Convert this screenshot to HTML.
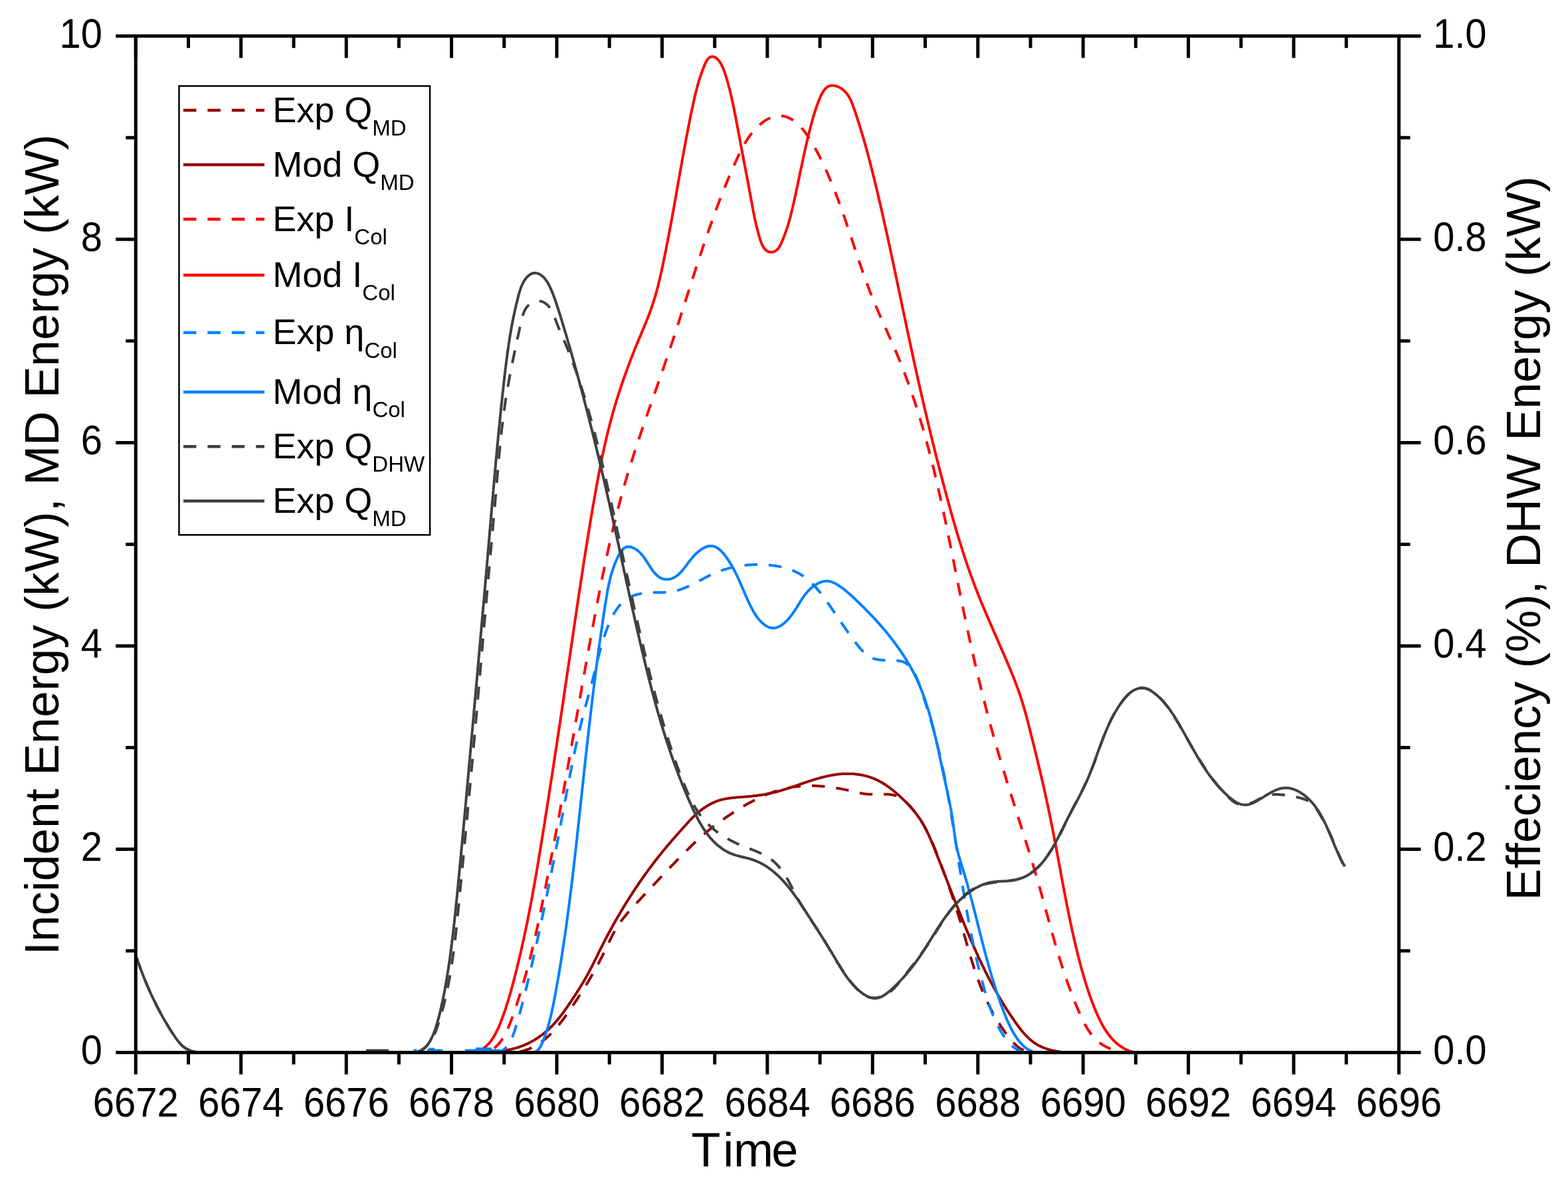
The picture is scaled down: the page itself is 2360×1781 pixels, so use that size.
<!DOCTYPE html><html><head><meta charset="utf-8"><style>html,body{margin:0;padding:0;background:#fff;overflow:hidden}svg{display:block}</style></head><body><svg xmlns="http://www.w3.org/2000/svg" width="2360" height="1781" viewBox="0 0 2360 1781">
<rect width="2360" height="1781" fill="#fff"/>
<defs><clipPath id="pc"><rect x="204.3" y="54.2" width="1901.2" height="1530.3999999999999"/></clipPath></defs>
<g clip-path="url(#pc)" fill="none" stroke-width="4" stroke-linejoin="round">
<path d="M600.0,1584.6 L602.0,1584.6 L604.0,1584.6 L606.0,1584.5 L608.0,1584.5 L610.0,1584.5 L612.0,1584.5 L614.0,1584.5 L616.0,1584.5 L618.0,1584.5 L620.0,1584.4 L622.0,1584.4 L624.0,1584.4 L626.0,1584.4 L628.0,1584.4 L630.0,1584.4 L632.0,1584.4 L634.0,1584.4 L636.0,1584.5 L638.0,1584.5 L640.0,1584.5 L642.0,1584.5 L644.0,1584.5 L646.0,1584.5 L648.0,1584.5 L650.0,1584.5 L652.0,1584.5 L654.0,1584.5 L656.0,1584.5 L658.1,1584.5 L660.1,1584.6 L662.1,1584.6 L664.1,1584.6 L666.1,1584.6 L668.1,1584.6 L670.1,1584.6 L672.1,1584.6 L674.1,1584.6 L676.1,1584.6 L678.1,1584.6 L680.1,1584.6 L682.1,1584.6 L684.1,1584.6 L686.1,1584.6 L688.1,1584.6 L690.1,1584.6 L692.1,1584.5 L694.1,1584.5 L696.1,1584.5 L698.1,1584.5 L700.1,1584.5 L702.1,1584.4 L704.1,1584.4 L706.1,1584.4 L708.1,1584.4 L710.1,1584.4 L712.1,1584.3 L714.1,1584.3 L716.1,1584.3 L718.1,1584.3 L720.1,1584.3 L722.1,1584.3 L724.1,1584.3 L726.1,1584.3 L728.1,1584.3 L730.1,1584.3 L732.1,1584.3 L734.1,1584.4 L736.1,1584.4 L738.1,1584.5 L740.1,1584.5 L742.1,1584.6 L744.1,1584.7 L746.1,1584.7 L748.1,1584.8 L750.1,1584.9 L752.1,1585.0 L754.1,1585.1 L756.0,1585.2 L758.0,1585.2 L760.0,1585.3 L762.0,1585.3 L764.0,1585.3 L766.1,1585.2 L768.1,1585.1 L770.1,1585.0 L772.1,1584.8 L774.1,1584.6 L776.1,1584.4 L778.1,1584.0 L780.1,1583.7 L782.1,1583.3 L784.1,1582.9 L786.0,1582.4 L788.0,1581.9 L789.9,1581.3 L791.8,1580.7 L793.7,1580.0 L795.5,1579.3 L797.3,1578.6 L799.1,1577.8 L800.9,1577.0 L802.6,1576.1 L804.3,1575.2 L806.0,1574.3 L807.7,1573.3 L809.4,1572.3 L811.0,1571.2 L812.6,1570.2 L814.2,1569.0 L815.8,1567.9 L817.3,1566.7 L818.9,1565.5 L820.4,1564.3 L821.9,1563.0 L823.4,1561.7 L824.8,1560.4 L826.3,1559.1 L827.7,1557.7 L829.1,1556.3 L830.5,1554.9 L831.9,1553.4 L833.3,1552.0 L834.6,1550.5 L835.9,1549.0 L837.3,1547.5 L838.6,1546.0 L839.9,1544.4 L841.2,1542.9 L842.4,1541.3 L843.7,1539.7 L844.9,1538.1 L846.2,1536.5 L847.4,1534.8 L848.6,1533.2 L849.8,1531.6 L851.0,1529.9 L852.2,1528.3 L853.4,1526.6 L854.6,1524.9 L855.8,1523.2 L856.9,1521.6 L858.1,1519.9 L859.2,1518.2 L860.4,1516.5 L861.5,1514.9 L862.7,1513.2 L863.8,1511.5 L864.9,1509.8 L866.0,1508.1 L867.1,1506.5 L868.3,1504.8 L869.4,1503.1 L870.5,1501.4 L871.5,1499.7 L872.6,1498.1 L873.7,1496.4 L874.8,1494.7 L875.9,1493.0 L876.9,1491.3 L878.0,1489.6 L879.1,1488.0 L880.1,1486.3 L881.2,1484.6 L882.2,1482.9 L883.2,1481.2 L884.3,1479.5 L885.3,1477.8 L886.3,1476.1 L887.3,1474.4 L888.3,1472.7 L889.3,1471.0 L890.3,1469.3 L891.3,1467.5 L892.3,1465.8 L893.3,1464.1 L894.2,1462.4 L895.2,1460.7 L896.2,1458.9 L897.1,1457.2 L898.1,1455.4 L899.0,1453.7 L899.9,1451.9 L900.9,1450.2 L901.8,1448.4 L902.7,1446.7 L903.6,1444.9 L904.5,1443.1 L905.4,1441.4 L906.3,1439.6 L907.2,1437.8 L908.1,1436.0 L909.0,1434.2 L909.8,1432.4 L910.7,1430.6 L911.6,1428.8 L912.4,1426.9 L913.3,1425.1 L914.2,1423.3 L915.0,1421.5 L915.9,1419.7 L916.8,1417.9 L917.7,1416.1 L918.6,1414.3 L919.5,1412.5 L920.4,1410.7 L921.3,1408.9 L922.2,1407.1 L923.2,1405.4 L924.1,1403.6 L925.1,1401.9 L926.1,1400.1 L927.1,1398.4 L928.2,1396.7 L929.2,1395.0 L930.3,1393.3 L931.4,1391.7 L932.5,1390.0 L933.7,1388.4 L934.8,1386.8 L936.0,1385.2 L937.2,1383.6 L938.5,1382.0 L939.7,1380.5 L941.0,1378.9 L942.2,1377.4 L943.5,1375.8 L944.8,1374.3 L946.1,1372.8 L947.4,1371.3 L948.8,1369.8 L950.1,1368.3 L951.4,1366.8 L952.8,1365.3 L954.2,1363.9 L955.5,1362.4 L956.9,1360.9 L958.2,1359.5 L959.6,1358.0 L961.0,1356.5 L962.4,1355.1 L963.7,1353.6 L965.1,1352.1 L966.5,1350.7 L967.8,1349.2 L969.2,1347.7 L970.5,1346.3 L971.9,1344.8 L973.3,1343.4 L974.6,1341.9 L976.0,1340.5 L977.4,1339.0 L978.7,1337.5 L980.1,1336.1 L981.5,1334.6 L982.8,1333.2 L984.2,1331.7 L985.6,1330.3 L986.9,1328.8 L988.3,1327.4 L989.7,1325.9 L991.0,1324.4 L992.4,1323.0 L993.8,1321.5 L995.1,1320.1 L996.5,1318.6 L997.9,1317.2 L999.2,1315.7 L1000.6,1314.3 L1002.0,1312.9 L1003.4,1311.4 L1004.8,1310.0 L1006.1,1308.5 L1007.5,1307.1 L1008.9,1305.6 L1010.3,1304.2 L1011.7,1302.7 L1013.1,1301.3 L1014.5,1299.9 L1015.9,1298.4 L1017.3,1297.0 L1018.6,1295.5 L1020.0,1294.1 L1021.5,1292.7 L1022.9,1291.2 L1024.3,1289.8 L1025.7,1288.4 L1027.1,1286.9 L1028.5,1285.5 L1029.9,1284.1 L1031.3,1282.6 L1032.8,1281.2 L1034.2,1279.8 L1035.6,1278.4 L1037.1,1276.9 L1038.5,1275.5 L1039.9,1274.1 L1041.4,1272.7 L1042.8,1271.3 L1044.3,1269.9 L1045.7,1268.5 L1047.2,1267.2 L1048.7,1265.8 L1050.1,1264.4 L1051.6,1263.1 L1053.1,1261.7 L1054.6,1260.4 L1056.1,1259.0 L1057.6,1257.7 L1059.1,1256.4 L1060.6,1255.1 L1062.1,1253.8 L1063.6,1252.5 L1065.1,1251.3 L1066.6,1250.0 L1068.2,1248.8 L1069.7,1247.5 L1071.3,1246.3 L1072.8,1245.1 L1074.4,1243.9 L1075.9,1242.7 L1077.5,1241.5 L1079.1,1240.3 L1080.7,1239.1 L1082.2,1238.0 L1083.8,1236.8 L1085.4,1235.7 L1087.0,1234.5 L1088.7,1233.4 L1090.3,1232.3 L1091.9,1231.1 L1093.5,1230.0 L1095.2,1228.9 L1096.8,1227.8 L1098.5,1226.7 L1100.2,1225.6 L1101.8,1224.5 L1103.5,1223.4 L1105.2,1222.3 L1106.9,1221.2 L1108.6,1220.2 L1110.3,1219.1 L1112.0,1218.0 L1113.7,1217.0 L1115.4,1215.9 L1117.2,1214.9 L1118.9,1213.9 L1120.7,1212.8 L1122.4,1211.8 L1124.2,1210.8 L1125.9,1209.8 L1127.7,1208.8 L1129.5,1207.9 L1131.3,1206.9 L1133.1,1206.0 L1134.8,1205.0 L1136.7,1204.1 L1138.5,1203.2 L1140.3,1202.3 L1142.1,1201.4 L1143.9,1200.6 L1145.7,1199.7 L1147.6,1198.9 L1149.4,1198.1 L1151.3,1197.3 L1153.1,1196.5 L1155.0,1195.7 L1156.9,1195.0 L1158.7,1194.3 L1160.6,1193.5 L1162.5,1192.9 L1164.4,1192.2 L1166.3,1191.5 L1168.2,1190.9 L1170.1,1190.3 L1172.0,1189.7 L1173.9,1189.2 L1175.8,1188.6 L1177.7,1188.1 L1179.6,1187.6 L1181.6,1187.2 L1183.5,1186.7 L1185.4,1186.3 L1187.4,1185.9 L1189.3,1185.6 L1191.3,1185.2 L1193.2,1184.9 L1195.2,1184.6 L1197.2,1184.4 L1199.1,1184.1 L1201.1,1183.9 L1203.1,1183.7 L1205.0,1183.6 L1207.0,1183.4 L1209.0,1183.3 L1211.0,1183.2 L1213.0,1183.1 L1215.0,1183.0 L1216.9,1183.0 L1218.9,1183.0 L1220.9,1183.0 L1222.9,1183.0 L1224.9,1183.0 L1226.9,1183.1 L1228.9,1183.2 L1230.9,1183.3 L1232.9,1183.4 L1234.9,1183.5 L1236.9,1183.7 L1238.9,1183.8 L1240.9,1184.0 L1242.9,1184.2 L1244.9,1184.4 L1246.9,1184.7 L1248.9,1184.9 L1250.9,1185.2 L1252.9,1185.4 L1254.8,1185.7 L1256.8,1186.0 L1258.8,1186.4 L1260.8,1186.7 L1262.8,1187.0 L1264.8,1187.4 L1266.7,1187.8 L1268.7,1188.2 L1270.7,1188.6 L1272.7,1189.0 L1274.6,1189.4 L1276.6,1189.8 L1278.6,1190.3 L1280.5,1190.7 L1282.5,1191.2 L1284.4,1191.6 L1286.3,1192.1 L1288.3,1192.5 L1290.2,1193.0 L1292.2,1193.4 L1294.1,1193.8 L1296.1,1194.2 L1298.1,1194.6 L1300.0,1194.9 L1302.0,1195.2 L1304.0,1195.4 L1306.0,1195.6 L1308.0,1195.7 L1310.0,1195.8 L1312.0,1195.8 L1314.0,1195.9 L1316.0,1195.9 L1318.1,1195.8 L1320.1,1195.8 L1322.1,1195.8 L1324.1,1195.7 L1326.1,1195.7 L1328.1,1195.7 L1330.1,1195.7 L1332.1,1195.7 L1334.1,1195.7 L1336.0,1195.8 L1338.0,1196.0 L1339.9,1196.2 L1341.8,1196.4 L1343.7,1196.7 L1345.5,1197.2 L1347.3,1197.6 L1349.1,1198.2 L1350.9,1198.9 L1352.6,1199.7 L1354.3,1200.6 L1355.9,1201.6 L1357.6,1202.7 L1359.1,1203.8 L1360.7,1205.0 L1362.2,1206.3 L1363.7,1207.7 L1365.2,1209.0 L1366.6,1210.5 L1368.0,1211.9 L1369.4,1213.4 L1370.8,1214.9 L1372.1,1216.4 L1373.4,1217.9 L1374.7,1219.5 L1375.9,1221.1 L1377.2,1222.6 L1378.4,1224.2 L1379.6,1225.8 L1380.7,1227.4 L1381.9,1229.1 L1383.0,1230.7 L1384.1,1232.4 L1385.2,1234.0 L1386.3,1235.7 L1387.3,1237.4 L1388.4,1239.1 L1389.4,1240.8 L1390.4,1242.6 L1391.3,1244.3 L1392.3,1246.0 L1393.3,1247.8 L1394.2,1249.6 L1395.1,1251.3 L1396.0,1253.1 L1396.9,1254.9 L1397.8,1256.7 L1398.6,1258.5 L1399.5,1260.3 L1400.3,1262.1 L1401.2,1263.9 L1402.0,1265.8 L1402.8,1267.6 L1403.6,1269.4 L1404.4,1271.3 L1405.1,1273.1 L1405.9,1275.0 L1406.7,1276.8 L1407.4,1278.7 L1408.2,1280.6 L1408.9,1282.4 L1409.7,1284.3 L1410.4,1286.2 L1411.1,1288.1 L1411.8,1289.9 L1412.6,1291.8 L1413.3,1293.7 L1414.0,1295.6 L1414.7,1297.4 L1415.4,1299.3 L1416.1,1301.2 L1416.8,1303.1 L1417.5,1305.0 L1418.2,1306.8 L1418.9,1308.7 L1419.6,1310.6 L1420.3,1312.5 L1421.0,1314.3 L1421.6,1316.2 L1422.3,1318.1 L1423.0,1320.0 L1423.7,1321.9 L1424.4,1323.7 L1425.0,1325.6 L1425.7,1327.5 L1426.4,1329.4 L1427.0,1331.3 L1427.7,1333.1 L1428.4,1335.0 L1429.0,1336.9 L1429.7,1338.8 L1430.3,1340.7 L1431.0,1342.6 L1431.6,1344.4 L1432.3,1346.3 L1432.9,1348.2 L1433.6,1350.1 L1434.2,1352.0 L1434.8,1353.9 L1435.4,1355.8 L1436.1,1357.7 L1436.7,1359.6 L1437.3,1361.5 L1437.9,1363.4 L1438.6,1365.3 L1439.2,1367.1 L1439.8,1369.0 L1440.4,1371.0 L1441.0,1372.9 L1441.6,1374.8 L1442.2,1376.7 L1442.8,1378.6 L1443.3,1380.5 L1443.9,1382.4 L1444.5,1384.3 L1445.1,1386.2 L1445.7,1388.1 L1446.2,1390.1 L1446.8,1392.0 L1447.4,1393.9 L1447.9,1395.8 L1448.5,1397.7 L1449.0,1399.7 L1449.6,1401.6 L1450.2,1403.5 L1450.7,1405.4 L1451.3,1407.4 L1451.8,1409.3 L1452.4,1411.2 L1452.9,1413.2 L1453.5,1415.1 L1454.0,1417.0 L1454.6,1418.9 L1455.1,1420.9 L1455.7,1422.8 L1456.2,1424.7 L1456.8,1426.7 L1457.3,1428.6 L1457.9,1430.5 L1458.5,1432.4 L1459.0,1434.4 L1459.6,1436.3 L1460.2,1438.2 L1460.7,1440.1 L1461.3,1442.1 L1461.9,1444.0 L1462.5,1445.9 L1463.1,1447.8 L1463.7,1449.7 L1464.3,1451.6 L1464.9,1453.5 L1465.5,1455.5 L1466.1,1457.4 L1466.7,1459.3 L1467.3,1461.2 L1468.0,1463.1 L1468.6,1465.0 L1469.3,1466.8 L1469.9,1468.7 L1470.6,1470.6 L1471.2,1472.5 L1471.9,1474.4 L1472.6,1476.3 L1473.3,1478.1 L1474.0,1480.0 L1474.7,1481.9 L1475.4,1483.7 L1476.1,1485.6 L1476.9,1487.4 L1477.6,1489.3 L1478.4,1491.1 L1479.1,1493.0 L1479.9,1494.8 L1480.7,1496.6 L1481.5,1498.5 L1482.3,1500.3 L1483.1,1502.1 L1483.9,1503.9 L1484.8,1505.7 L1485.6,1507.5 L1486.5,1509.3 L1487.3,1511.1 L1488.2,1512.9 L1489.1,1514.7 L1490.0,1516.5 L1490.9,1518.3 L1491.8,1520.0 L1492.7,1521.8 L1493.7,1523.5 L1494.6,1525.3 L1495.6,1527.0 L1496.6,1528.8 L1497.6,1530.5 L1498.6,1532.2 L1499.6,1534.0 L1500.6,1535.7 L1501.7,1537.4 L1502.7,1539.1 L1503.8,1540.8 L1504.9,1542.5 L1506.0,1544.1 L1507.1,1545.8 L1508.2,1547.5 L1509.3,1549.1 L1510.5,1550.8 L1511.7,1552.4 L1512.8,1554.1 L1514.0,1555.7 L1515.2,1557.3 L1516.5,1559.0 L1517.7,1560.6 L1518.9,1562.2 L1520.2,1563.8 L1521.5,1565.3 L1522.8,1566.9 L1524.1,1568.4 L1525.5,1569.9 L1526.9,1571.3 L1528.3,1572.7 L1529.7,1574.1 L1531.2,1575.3 L1532.7,1576.5 L1534.3,1577.6 L1535.9,1578.6 L1537.5,1579.5 L1539.2,1580.3 L1540.9,1581.0 L1542.7,1581.7 L1544.5,1582.3 L1546.3,1582.8 L1548.2,1583.2 L1550.1,1583.6 L1552.0,1583.9 L1553.9,1584.2 L1555.8,1584.4 L1557.8,1584.6 L1559.7,1584.8 L1561.7,1584.9 L1563.7,1585.1 L1565.7,1585.2 L1567.6,1585.2 L1569.6,1585.3 L1571.6,1585.3 L1573.6,1585.3 L1575.6,1585.3 L1577.6,1585.3 L1579.7,1585.2 L1581.7,1585.2 L1583.7,1585.1 L1585.7,1585.1 L1587.8,1585.0 L1589.8,1584.9 L1591.8,1584.8 L1593.8,1584.8 L1595.9,1584.7 L1597.9,1584.6 L1599.9,1584.5 L1601.9,1584.4 L1604.0,1584.4 L1606.0,1584.3 L1608.0,1584.3 L1610.0,1584.2 L1612.0,1584.2 L1614.0,1584.1 L1616.1,1584.1 L1618.1,1584.1 L1620.1,1584.1 L1622.1,1584.1 L1624.1,1584.1 L1626.1,1584.1 L1628.1,1584.1 L1630.0,1584.2 L1632.0,1584.2 L1634.0,1584.2 L1636.0,1584.2 L1638.0,1584.3 L1640.0,1584.3 L1642.0,1584.3 L1644.0,1584.4 L1646.0,1584.4 L1648.0,1584.5 L1650.0,1584.5 L1651.9,1584.5 L1653.9,1584.6 L1655.9,1584.6 L1657.9,1584.6 L1659.9,1584.7 L1661.9,1584.7 L1663.9,1584.7 L1665.9,1584.7 L1667.9,1584.8 L1669.9,1584.8 L1671.9,1584.8 L1673.9,1584.8 L1675.9,1584.8 L1677.9,1584.7 L1679.9,1584.7 L1681.9,1584.7 L1683.9,1584.7 L1685.9,1584.6 L1688.0,1584.6 L1690.0,1584.5 L1692.0,1584.4 L1694.0,1584.4 L1696.1,1584.3 L1698.1,1584.2 L1700.1,1584.0" stroke="#960000" stroke-dasharray="19.5 16.9"/>
<path d="M599.7,1584.5 L601.8,1584.5 L603.8,1584.5 L605.9,1584.5 L607.9,1584.5 L610.0,1584.5 L612.0,1584.5 L614.1,1584.5 L616.1,1584.5 L618.1,1584.5 L620.1,1584.5 L622.1,1584.5 L624.2,1584.5 L626.2,1584.5 L628.2,1584.5 L630.2,1584.5 L632.2,1584.5 L634.2,1584.5 L636.2,1584.5 L638.2,1584.5 L640.2,1584.5 L642.1,1584.5 L644.1,1584.5 L646.1,1584.5 L648.1,1584.5 L650.1,1584.5 L652.1,1584.5 L654.0,1584.5 L656.0,1584.5 L658.0,1584.5 L660.0,1584.5 L662.0,1584.5 L663.9,1584.5 L665.9,1584.5 L667.9,1584.5 L669.9,1584.5 L671.9,1584.5 L673.8,1584.5 L675.8,1584.5 L677.8,1584.5 L679.8,1584.5 L681.8,1584.5 L683.8,1584.5 L685.8,1584.5 L687.8,1584.5 L689.8,1584.5 L691.8,1584.5 L693.8,1584.5 L695.8,1584.5 L697.8,1584.5 L699.8,1584.5 L701.8,1584.5 L703.8,1584.5 L705.8,1584.6 L707.8,1584.6 L709.9,1584.6 L711.9,1584.6 L713.9,1584.6 L715.9,1584.5 L718.0,1584.5 L720.0,1584.5 L722.0,1584.5 L724.0,1584.4 L726.0,1584.4 L728.1,1584.3 L730.1,1584.3 L732.1,1584.2 L734.1,1584.1 L736.1,1584.0 L738.1,1583.9 L740.1,1583.7 L742.1,1583.6 L744.1,1583.4 L746.1,1583.2 L748.1,1583.0 L750.1,1582.8 L752.1,1582.6 L754.0,1582.4 L756.0,1582.1 L758.0,1581.8 L759.9,1581.5 L761.9,1581.2 L763.8,1580.8 L765.7,1580.4 L767.7,1580.0 L769.6,1579.6 L771.5,1579.1 L773.4,1578.7 L775.3,1578.1 L777.2,1577.6 L779.0,1577.0 L780.9,1576.5 L782.8,1575.8 L784.6,1575.2 L786.4,1574.5 L788.3,1573.8 L790.1,1573.0 L791.9,1572.2 L793.7,1571.4 L795.4,1570.6 L797.2,1569.7 L798.9,1568.8 L800.7,1567.8 L802.4,1566.9 L804.1,1565.9 L805.8,1564.8 L807.5,1563.8 L809.1,1562.7 L810.8,1561.6 L812.4,1560.4 L814.0,1559.2 L815.6,1558.1 L817.2,1556.8 L818.8,1555.6 L820.3,1554.3 L821.8,1553.0 L823.3,1551.7 L824.8,1550.4 L826.3,1549.0 L827.8,1547.6 L829.2,1546.2 L830.6,1544.8 L832.0,1543.3 L833.4,1541.9 L834.7,1540.4 L836.0,1538.9 L837.4,1537.4 L838.7,1535.9 L839.9,1534.3 L841.2,1532.8 L842.5,1531.2 L843.7,1529.6 L844.9,1528.0 L846.2,1526.4 L847.4,1524.8 L848.5,1523.2 L849.7,1521.6 L850.9,1519.9 L852.1,1518.3 L853.2,1516.6 L854.4,1515.0 L855.5,1513.3 L856.6,1511.7 L857.8,1510.0 L858.9,1508.3 L860.0,1506.7 L861.1,1505.0 L862.2,1503.4 L863.3,1501.7 L864.4,1500.0 L865.5,1498.4 L866.6,1496.7 L867.7,1495.0 L868.7,1493.4 L869.8,1491.7 L870.9,1490.0 L871.9,1488.3 L873.0,1486.7 L874.0,1485.0 L875.0,1483.3 L876.1,1481.6 L877.1,1479.9 L878.1,1478.2 L879.1,1476.5 L880.1,1474.8 L881.1,1473.1 L882.0,1471.3 L883.0,1469.6 L884.0,1467.9 L884.9,1466.1 L885.9,1464.4 L886.8,1462.7 L887.7,1460.9 L888.6,1459.1 L889.6,1457.4 L890.5,1455.6 L891.4,1453.8 L892.3,1452.1 L893.2,1450.3 L894.1,1448.5 L894.9,1446.7 L895.8,1445.0 L896.7,1443.2 L897.6,1441.4 L898.5,1439.6 L899.4,1437.8 L900.2,1436.0 L901.1,1434.2 L902.0,1432.4 L902.9,1430.6 L903.8,1428.9 L904.7,1427.1 L905.6,1425.3 L906.5,1423.5 L907.4,1421.7 L908.3,1419.9 L909.2,1418.2 L910.1,1416.4 L911.0,1414.6 L911.9,1412.9 L912.9,1411.1 L913.8,1409.3 L914.7,1407.6 L915.7,1405.8 L916.6,1404.0 L917.6,1402.3 L918.5,1400.5 L919.5,1398.8 L920.4,1397.0 L921.4,1395.3 L922.4,1393.5 L923.3,1391.8 L924.3,1390.0 L925.3,1388.3 L926.3,1386.5 L927.3,1384.8 L928.3,1383.1 L929.3,1381.3 L930.3,1379.6 L931.3,1377.9 L932.3,1376.2 L933.3,1374.4 L934.3,1372.7 L935.3,1371.0 L936.3,1369.3 L937.4,1367.6 L938.4,1365.9 L939.5,1364.2 L940.5,1362.5 L941.5,1360.8 L942.6,1359.1 L943.6,1357.4 L944.7,1355.7 L945.8,1354.0 L946.8,1352.3 L947.9,1350.6 L949.0,1348.9 L950.1,1347.3 L951.2,1345.6 L952.2,1343.9 L953.3,1342.2 L954.4,1340.6 L955.5,1338.9 L956.6,1337.2 L957.8,1335.6 L958.9,1333.9 L960.0,1332.3 L961.1,1330.6 L962.2,1329.0 L963.4,1327.3 L964.5,1325.7 L965.6,1324.1 L966.8,1322.4 L967.9,1320.8 L969.1,1319.2 L970.3,1317.5 L971.4,1315.9 L972.6,1314.3 L973.8,1312.7 L974.9,1311.1 L976.1,1309.5 L977.3,1307.9 L978.5,1306.3 L979.7,1304.7 L980.9,1303.1 L982.1,1301.5 L983.3,1299.9 L984.5,1298.3 L985.7,1296.7 L986.9,1295.1 L988.2,1293.6 L989.4,1292.0 L990.6,1290.4 L991.9,1288.9 L993.1,1287.3 L994.4,1285.7 L995.6,1284.2 L996.9,1282.6 L998.1,1281.1 L999.4,1279.5 L1000.7,1278.0 L1001.9,1276.5 L1003.2,1274.9 L1004.5,1273.4 L1005.8,1271.9 L1007.1,1270.4 L1008.4,1268.8 L1009.7,1267.3 L1011.0,1265.8 L1012.3,1264.3 L1013.6,1262.8 L1014.9,1261.3 L1016.3,1259.8 L1017.6,1258.3 L1018.9,1256.8 L1020.2,1255.3 L1021.6,1253.8 L1022.9,1252.3 L1024.2,1250.8 L1025.6,1249.3 L1026.9,1247.8 L1028.2,1246.3 L1029.5,1244.8 L1030.9,1243.3 L1032.2,1241.8 L1033.6,1240.3 L1034.9,1238.8 L1036.3,1237.3 L1037.6,1235.8 L1039.0,1234.4 L1040.4,1232.9 L1041.8,1231.5 L1043.2,1230.1 L1044.6,1228.7 L1046.1,1227.3 L1047.6,1226.0 L1049.0,1224.6 L1050.6,1223.3 L1052.1,1222.1 L1053.6,1220.8 L1055.2,1219.6 L1056.8,1218.4 L1058.4,1217.2 L1060.0,1216.1 L1061.6,1215.0 L1063.3,1214.0 L1064.9,1212.9 L1066.6,1212.0 L1068.3,1211.0 L1070.0,1210.1 L1071.8,1209.2 L1073.6,1208.4 L1075.3,1207.6 L1077.1,1206.9 L1079.0,1206.2 L1080.8,1205.5 L1082.7,1204.9 L1084.5,1204.4 L1086.4,1203.9 L1088.4,1203.4 L1090.3,1203.0 L1092.2,1202.6 L1094.2,1202.2 L1096.2,1201.9 L1098.2,1201.6 L1100.2,1201.4 L1102.2,1201.1 L1104.2,1200.9 L1106.2,1200.7 L1108.2,1200.5 L1110.3,1200.3 L1112.3,1200.2 L1114.3,1200.0 L1116.4,1199.9 L1118.4,1199.7 L1120.4,1199.6 L1122.5,1199.4 L1124.5,1199.3 L1126.5,1199.1 L1128.6,1199.0 L1130.6,1198.8 L1132.6,1198.6 L1134.6,1198.3 L1136.6,1198.1 L1138.6,1197.9 L1140.5,1197.6 L1142.5,1197.3 L1144.5,1197.0 L1146.5,1196.7 L1148.4,1196.3 L1150.4,1196.0 L1152.3,1195.6 L1154.2,1195.3 L1156.2,1194.9 L1158.1,1194.5 L1160.0,1194.0 L1162.0,1193.6 L1163.9,1193.1 L1165.8,1192.7 L1167.7,1192.2 L1169.7,1191.7 L1171.6,1191.2 L1173.5,1190.6 L1175.4,1190.1 L1177.3,1189.5 L1179.2,1189.0 L1181.1,1188.4 L1183.0,1187.8 L1184.9,1187.2 L1186.8,1186.6 L1188.7,1186.0 L1190.6,1185.3 L1192.5,1184.7 L1194.4,1184.1 L1196.3,1183.4 L1198.2,1182.8 L1200.1,1182.1 L1202.0,1181.5 L1203.9,1180.8 L1205.8,1180.2 L1207.7,1179.5 L1209.6,1178.9 L1211.6,1178.2 L1213.5,1177.6 L1215.4,1176.9 L1217.3,1176.3 L1219.2,1175.7 L1221.1,1175.1 L1223.0,1174.4 L1224.9,1173.8 L1226.9,1173.3 L1228.8,1172.7 L1230.7,1172.1 L1232.6,1171.6 L1234.6,1171.0 L1236.5,1170.5 L1238.4,1170.0 L1240.4,1169.5 L1242.3,1169.1 L1244.2,1168.6 L1246.2,1168.2 L1248.1,1167.8 L1250.1,1167.4 L1252.1,1167.0 L1254.0,1166.7 L1256.0,1166.4 L1258.0,1166.1 L1259.9,1165.8 L1261.9,1165.6 L1263.9,1165.4 L1265.9,1165.2 L1267.9,1165.1 L1269.9,1165.0 L1271.9,1164.9 L1273.9,1164.9 L1275.9,1164.9 L1277.9,1164.9 L1279.9,1164.9 L1281.9,1165.0 L1283.9,1165.1 L1285.9,1165.3 L1287.9,1165.5 L1289.9,1165.7 L1291.9,1166.0 L1293.9,1166.3 L1295.9,1166.6 L1297.8,1167.0 L1299.8,1167.4 L1301.7,1167.9 L1303.7,1168.3 L1305.6,1168.9 L1307.5,1169.4 L1309.4,1170.0 L1311.2,1170.7 L1313.1,1171.3 L1314.9,1172.1 L1316.8,1172.8 L1318.6,1173.6 L1320.3,1174.5 L1322.1,1175.3 L1323.8,1176.2 L1325.6,1177.2 L1327.3,1178.1 L1329.0,1179.2 L1330.6,1180.2 L1332.3,1181.3 L1334.0,1182.4 L1335.6,1183.5 L1337.2,1184.6 L1338.8,1185.8 L1340.4,1187.0 L1342.0,1188.2 L1343.5,1189.4 L1345.1,1190.7 L1346.6,1192.0 L1348.1,1193.3 L1349.7,1194.6 L1351.2,1195.9 L1352.7,1197.3 L1354.1,1198.6 L1355.6,1200.0 L1357.1,1201.3 L1358.5,1202.7 L1360.0,1204.1 L1361.4,1205.5 L1362.8,1207.0 L1364.2,1208.4 L1365.6,1209.8 L1367.0,1211.3 L1368.4,1212.7 L1369.7,1214.2 L1371.0,1215.7 L1372.4,1217.2 L1373.7,1218.7 L1374.9,1220.2 L1376.2,1221.8 L1377.5,1223.3 L1378.7,1224.9 L1379.9,1226.5 L1381.1,1228.0 L1382.2,1229.6 L1383.4,1231.3 L1384.5,1232.9 L1385.6,1234.5 L1386.6,1236.2 L1387.7,1237.9 L1388.7,1239.6 L1389.7,1241.3 L1390.7,1243.0 L1391.6,1244.8 L1392.6,1246.5 L1393.5,1248.3 L1394.4,1250.0 L1395.2,1251.8 L1396.1,1253.6 L1397.0,1255.4 L1397.8,1257.2 L1398.6,1259.0 L1399.4,1260.8 L1400.2,1262.7 L1401.0,1264.5 L1401.8,1266.4 L1402.6,1268.2 L1403.3,1270.0 L1404.1,1271.9 L1404.9,1273.7 L1405.6,1275.6 L1406.4,1277.5 L1407.1,1279.3 L1407.9,1281.2 L1408.6,1283.0 L1409.3,1284.9 L1410.1,1286.8 L1410.8,1288.6 L1411.6,1290.5 L1412.3,1292.3 L1413.0,1294.2 L1413.8,1296.1 L1414.5,1297.9 L1415.2,1299.8 L1416.0,1301.6 L1416.7,1303.5 L1417.4,1305.4 L1418.2,1307.2 L1418.9,1309.1 L1419.6,1311.0 L1420.4,1312.8 L1421.1,1314.7 L1421.8,1316.6 L1422.5,1318.4 L1423.3,1320.3 L1424.0,1322.1 L1424.7,1324.0 L1425.4,1325.9 L1426.2,1327.7 L1426.9,1329.6 L1427.6,1331.5 L1428.3,1333.3 L1429.1,1335.2 L1429.8,1337.1 L1430.5,1338.9 L1431.2,1340.8 L1432.0,1342.7 L1432.7,1344.5 L1433.4,1346.4 L1434.1,1348.2 L1434.9,1350.1 L1435.6,1352.0 L1436.3,1353.8 L1437.1,1355.7 L1437.8,1357.6 L1438.5,1359.4 L1439.3,1361.3 L1440.0,1363.1 L1440.7,1365.0 L1441.5,1366.9 L1442.2,1368.7 L1442.9,1370.6 L1443.7,1372.4 L1444.4,1374.3 L1445.2,1376.2 L1445.9,1378.0 L1446.6,1379.9 L1447.4,1381.7 L1448.1,1383.6 L1448.9,1385.4 L1449.6,1387.3 L1450.4,1389.1 L1451.2,1391.0 L1451.9,1392.8 L1452.7,1394.7 L1453.4,1396.5 L1454.2,1398.4 L1455.0,1400.2 L1455.7,1402.1 L1456.5,1403.9 L1457.3,1405.8 L1458.1,1407.6 L1458.8,1409.4 L1459.6,1411.3 L1460.4,1413.1 L1461.2,1415.0 L1462.0,1416.8 L1462.8,1418.6 L1463.6,1420.5 L1464.4,1422.3 L1465.2,1424.1 L1466.0,1425.9 L1466.8,1427.8 L1467.6,1429.6 L1468.4,1431.4 L1469.3,1433.2 L1470.1,1435.1 L1470.9,1436.9 L1471.7,1438.7 L1472.6,1440.5 L1473.4,1442.3 L1474.3,1444.1 L1475.1,1445.9 L1476.0,1447.7 L1476.8,1449.5 L1477.7,1451.3 L1478.5,1453.1 L1479.4,1454.9 L1480.3,1456.7 L1481.2,1458.5 L1482.0,1460.3 L1482.9,1462.1 L1483.8,1463.9 L1484.7,1465.7 L1485.6,1467.5 L1486.5,1469.2 L1487.4,1471.0 L1488.3,1472.8 L1489.3,1474.6 L1490.2,1476.3 L1491.1,1478.1 L1492.1,1479.9 L1493.0,1481.6 L1494.0,1483.4 L1494.9,1485.1 L1495.9,1486.9 L1496.8,1488.6 L1497.8,1490.4 L1498.8,1492.1 L1499.8,1493.9 L1500.7,1495.6 L1501.7,1497.4 L1502.7,1499.1 L1503.7,1500.8 L1504.8,1502.5 L1505.8,1504.3 L1506.8,1506.0 L1507.8,1507.7 L1508.9,1509.4 L1509.9,1511.1 L1511.0,1512.8 L1512.0,1514.5 L1513.1,1516.2 L1514.2,1517.9 L1515.2,1519.6 L1516.3,1521.3 L1517.4,1523.0 L1518.5,1524.7 L1519.6,1526.4 L1520.7,1528.0 L1521.8,1529.7 L1523.0,1531.4 L1524.1,1533.0 L1525.3,1534.7 L1526.4,1536.4 L1527.6,1538.0 L1528.7,1539.7 L1529.9,1541.3 L1531.1,1542.9 L1532.3,1544.6 L1533.5,1546.2 L1534.7,1547.8 L1535.9,1549.4 L1537.2,1550.9 L1538.5,1552.5 L1539.7,1554.0 L1541.0,1555.5 L1542.4,1557.0 L1543.7,1558.5 L1545.1,1559.9 L1546.5,1561.3 L1547.9,1562.6 L1549.3,1564.0 L1550.8,1565.2 L1552.2,1566.5 L1553.8,1567.7 L1555.3,1568.9 L1556.9,1570.0 L1558.5,1571.1 L1560.1,1572.1 L1561.8,1573.1 L1563.5,1574.0 L1565.2,1574.9 L1567.0,1575.8 L1568.8,1576.5 L1570.6,1577.3 L1572.4,1578.0 L1574.3,1578.7 L1576.2,1579.3 L1578.1,1579.9 L1580.0,1580.4 L1581.9,1580.9 L1583.9,1581.4 L1585.9,1581.8 L1587.9,1582.3 L1589.8,1582.6 L1591.8,1583.0 L1593.9,1583.3 L1595.9,1583.6 L1597.9,1583.8 L1599.9,1584.0 L1601.9,1584.2 L1604.0,1584.4 L1606.0,1584.6 L1608.0,1584.7 L1610.0,1584.8 L1612.1,1584.9 L1614.1,1585.0 L1616.1,1585.0 L1618.1,1585.0 L1620.1,1585.1 L1622.1,1585.1 L1624.1,1585.1 L1626.1,1585.1 L1628.1,1585.0 L1630.1,1585.0 L1632.1,1585.0 L1634.1,1584.9 L1636.1,1584.8 L1638.1,1584.8 L1640.1,1584.7 L1642.1,1584.7 L1644.1,1584.6 L1646.1,1584.5 L1648.1,1584.5 L1650.1,1584.4 L1652.1,1584.4 L1654.0,1584.3 L1656.0,1584.3 L1658.0,1584.2 L1660.0,1584.2 L1662.0,1584.2 L1664.0,1584.2 L1666.0,1584.2 L1668.0,1584.2 L1670.0,1584.2 L1672.0,1584.2 L1674.0,1584.2 L1675.9,1584.2 L1677.9,1584.3 L1679.9,1584.3 L1681.9,1584.3 L1683.9,1584.4 L1685.9,1584.4 L1688.0,1584.5 L1690.0,1584.5 L1692.0,1584.6 L1694.0,1584.7 L1696.0,1584.8 L1698.0,1584.8 L1700.1,1584.9" stroke="#960000"/>
<path d="M599.9,1584.3 L601.9,1584.4 L604.0,1584.5 L606.0,1584.5 L608.0,1584.6 L610.1,1584.6 L612.1,1584.7 L614.1,1584.7 L616.1,1584.7 L618.1,1584.7 L620.1,1584.7 L622.1,1584.7 L624.1,1584.6 L626.1,1584.6 L628.1,1584.6 L630.1,1584.6 L632.0,1584.5 L634.0,1584.5 L636.0,1584.5 L638.0,1584.4 L640.0,1584.4 L642.0,1584.3 L644.0,1584.3 L645.9,1584.3 L647.9,1584.2 L649.9,1584.2 L651.9,1584.2 L653.9,1584.2 L655.9,1584.2 L657.9,1584.2 L659.9,1584.2 L661.9,1584.2 L663.9,1584.2 L665.9,1584.2 L667.9,1584.2 L669.9,1584.3 L671.9,1584.3 L673.9,1584.3 L675.9,1584.4 L678.0,1584.4 L680.0,1584.5 L682.0,1584.5 L684.0,1584.6 L686.1,1584.7 L688.1,1584.7 L690.1,1584.8 L692.2,1584.9 L694.2,1584.9 L696.2,1585.0 L698.3,1585.1 L700.3,1585.2 L702.4,1585.3 L704.4,1585.4 L706.5,1585.4 L708.5,1585.5 L710.6,1585.6 L712.6,1585.7 L714.7,1585.7 L716.7,1585.7 L718.7,1585.7 L720.7,1585.6 L722.6,1585.5 L724.6,1585.3 L726.5,1585.1 L728.3,1584.8 L730.1,1584.4 L731.9,1583.9 L733.7,1583.4 L735.4,1582.8 L737.0,1582.1 L738.6,1581.3 L740.2,1580.5 L741.7,1579.5 L743.1,1578.5 L744.6,1577.4 L745.9,1576.3 L747.2,1575.0 L748.5,1573.8 L749.8,1572.4 L751.0,1571.0 L752.1,1569.6 L753.3,1568.2 L754.4,1566.7 L755.4,1565.1 L756.5,1563.5 L757.5,1561.9 L758.5,1560.3 L759.4,1558.6 L760.3,1556.9 L761.2,1555.1 L762.1,1553.4 L763.0,1551.6 L763.8,1549.8 L764.6,1548.0 L765.4,1546.1 L766.2,1544.2 L766.9,1542.4 L767.7,1540.5 L768.4,1538.6 L769.2,1536.7 L769.9,1534.7 L770.6,1532.8 L771.3,1530.9 L772.0,1528.9 L772.6,1527.0 L773.3,1525.1 L774.0,1523.2 L774.7,1521.2 L775.3,1519.3 L776.0,1517.4 L776.6,1515.4 L777.3,1513.5 L777.9,1511.6 L778.5,1509.6 L779.2,1507.7 L779.8,1505.8 L780.4,1503.8 L781.0,1501.9 L781.6,1500.0 L782.3,1498.0 L782.9,1496.1 L783.5,1494.2 L784.0,1492.2 L784.6,1490.3 L785.2,1488.4 L785.8,1486.4 L786.4,1484.5 L786.9,1482.5 L787.5,1480.6 L788.1,1478.7 L788.6,1476.7 L789.2,1474.8 L789.7,1472.9 L790.3,1470.9 L790.8,1469.0 L791.4,1467.1 L791.9,1465.1 L792.4,1463.2 L792.9,1461.2 L793.5,1459.3 L794.0,1457.4 L794.5,1455.4 L795.0,1453.5 L795.5,1451.6 L796.0,1449.6 L796.5,1447.7 L797.0,1445.7 L797.5,1443.8 L798.0,1441.9 L798.5,1439.9 L799.0,1438.0 L799.5,1436.0 L799.9,1434.1 L800.4,1432.2 L800.9,1430.2 L801.3,1428.3 L801.8,1426.3 L802.3,1424.4 L802.7,1422.4 L803.2,1420.5 L803.6,1418.6 L804.1,1416.6 L804.5,1414.7 L805.0,1412.7 L805.4,1410.8 L805.9,1408.8 L806.3,1406.9 L806.8,1405.0 L807.2,1403.0 L807.6,1401.1 L808.0,1399.1 L808.5,1397.2 L808.9,1395.2 L809.3,1393.3 L809.7,1391.3 L810.2,1389.4 L810.6,1387.4 L811.0,1385.5 L811.4,1383.5 L811.8,1381.6 L812.2,1379.7 L812.6,1377.7 L813.0,1375.8 L813.4,1373.8 L813.8,1371.9 L814.3,1369.9 L814.7,1368.0 L815.0,1366.0 L815.4,1364.1 L815.8,1362.1 L816.2,1360.2 L816.6,1358.2 L817.0,1356.3 L817.4,1354.3 L817.8,1352.3 L818.2,1350.4 L818.6,1348.4 L819.0,1346.5 L819.4,1344.5 L819.7,1342.6 L820.1,1340.6 L820.5,1338.7 L820.9,1336.7 L821.3,1334.8 L821.7,1332.8 L822.0,1330.8 L822.4,1328.9 L822.8,1326.9 L823.2,1325.0 L823.6,1323.0 L823.9,1321.1 L824.3,1319.1 L824.7,1317.1 L825.1,1315.2 L825.4,1313.2 L825.8,1311.3 L826.2,1309.3 L826.6,1307.3 L827.0,1305.4 L827.3,1303.4 L827.7,1301.5 L828.1,1299.5 L828.5,1297.5 L828.8,1295.6 L829.2,1293.6 L829.6,1291.7 L829.9,1289.7 L830.3,1287.7 L830.7,1285.8 L831.1,1283.8 L831.4,1281.8 L831.8,1279.9 L832.2,1277.9 L832.5,1275.9 L832.9,1274.0 L833.3,1272.0 L833.6,1270.1 L834.0,1268.1 L834.4,1266.1 L834.7,1264.2 L835.1,1262.2 L835.5,1260.2 L835.8,1258.3 L836.2,1256.3 L836.6,1254.3 L836.9,1252.4 L837.3,1250.4 L837.7,1248.4 L838.0,1246.5 L838.4,1244.5 L838.8,1242.5 L839.1,1240.5 L839.5,1238.6 L839.9,1236.6 L840.2,1234.6 L840.6,1232.7 L840.9,1230.7 L841.3,1228.7 L841.7,1226.8 L842.0,1224.8 L842.4,1222.8 L842.7,1220.9 L843.1,1218.9 L843.5,1216.9 L843.8,1214.9 L844.2,1213.0 L844.5,1211.0 L844.9,1209.0 L845.3,1207.1 L845.6,1205.1 L846.0,1203.1 L846.3,1201.2 L846.7,1199.2 L847.0,1197.2 L847.4,1195.2 L847.7,1193.3 L848.1,1191.3 L848.5,1189.3 L848.8,1187.4 L849.2,1185.4 L849.5,1183.4 L849.9,1181.4 L850.2,1179.5 L850.6,1177.5 L850.9,1175.5 L851.3,1173.6 L851.6,1171.6 L852.0,1169.6 L852.3,1167.6 L852.7,1165.7 L853.0,1163.7 L853.4,1161.7 L853.8,1159.8 L854.1,1157.8 L854.5,1155.8 L854.8,1153.8 L855.2,1151.9 L855.5,1149.9 L855.9,1147.9 L856.2,1146.0 L856.6,1144.0 L856.9,1142.0 L857.2,1140.0 L857.6,1138.1 L857.9,1136.1 L858.3,1134.1 L858.6,1132.2 L859.0,1130.2 L859.3,1128.2 L859.7,1126.2 L860.0,1124.3 L860.4,1122.3 L860.7,1120.3 L861.1,1118.4 L861.4,1116.4 L861.8,1114.4 L862.1,1112.4 L862.5,1110.5 L862.8,1108.5 L863.1,1106.5 L863.5,1104.6 L863.8,1102.6 L864.2,1100.6 L864.5,1098.7 L864.9,1096.7 L865.2,1094.7 L865.6,1092.7 L865.9,1090.8 L866.3,1088.8 L866.6,1086.8 L866.9,1084.9 L867.3,1082.9 L867.6,1080.9 L868.0,1079.0 L868.3,1077.0 L868.7,1075.0 L869.0,1073.1 L869.4,1071.1 L869.7,1069.1 L870.0,1067.1 L870.4,1065.2 L870.7,1063.2 L871.1,1061.2 L871.4,1059.3 L871.8,1057.3 L872.1,1055.3 L872.5,1053.4 L872.8,1051.4 L873.2,1049.4 L873.5,1047.5 L873.9,1045.5 L874.2,1043.5 L874.5,1041.6 L874.9,1039.6 L875.2,1037.6 L875.6,1035.7 L875.9,1033.7 L876.3,1031.7 L876.6,1029.8 L877.0,1027.8 L877.3,1025.8 L877.7,1023.9 L878.0,1021.9 L878.4,1019.9 L878.7,1017.9 L879.1,1016.0 L879.4,1014.0 L879.8,1012.0 L880.1,1010.1 L880.5,1008.1 L880.8,1006.1 L881.2,1004.2 L881.5,1002.2 L881.9,1000.2 L882.2,998.3 L882.6,996.3 L882.9,994.3 L883.3,992.4 L883.6,990.4 L884.0,988.4 L884.3,986.5 L884.7,984.5 L885.1,982.5 L885.4,980.6 L885.8,978.6 L886.1,976.6 L886.5,974.7 L886.8,972.7 L887.2,970.7 L887.6,968.8 L887.9,966.8 L888.3,964.8 L888.6,962.9 L889.0,960.9 L889.4,958.9 L889.7,957.0 L890.1,955.0 L890.4,953.0 L890.8,951.1 L891.2,949.1 L891.5,947.1 L891.9,945.2 L892.3,943.2 L892.6,941.2 L893.0,939.3 L893.4,937.3 L893.7,935.3 L894.1,933.4 L894.5,931.4 L894.8,929.4 L895.2,927.5 L895.6,925.5 L896.0,923.5 L896.3,921.6 L896.7,919.6 L897.1,917.7 L897.4,915.7 L897.8,913.7 L898.2,911.8 L898.6,909.8 L899.0,907.8 L899.3,905.9 L899.7,903.9 L900.1,901.9 L900.5,900.0 L900.9,898.0 L901.2,896.0 L901.6,894.1 L902.0,892.1 L902.4,890.1 L902.8,888.2 L903.2,886.2 L903.6,884.2 L904.0,882.3 L904.4,880.3 L904.7,878.4 L905.1,876.4 L905.5,874.4 L905.9,872.5 L906.3,870.5 L906.7,868.5 L907.1,866.6 L907.5,864.6 L907.9,862.7 L908.3,860.7 L908.8,858.7 L909.2,856.8 L909.6,854.8 L910.0,852.9 L910.4,850.9 L910.8,848.9 L911.2,847.0 L911.6,845.0 L912.1,843.1 L912.5,841.1 L912.9,839.1 L913.3,837.2 L913.8,835.2 L914.2,833.3 L914.6,831.3 L915.0,829.4 L915.5,827.4 L915.9,825.5 L916.3,823.5 L916.8,821.6 L917.2,819.6 L917.7,817.6 L918.1,815.7 L918.5,813.7 L919.0,811.8 L919.4,809.8 L919.9,807.9 L920.3,805.9 L920.8,804.0 L921.3,802.0 L921.7,800.1 L922.2,798.2 L922.6,796.2 L923.1,794.3 L923.6,792.3 L924.0,790.4 L924.5,788.4 L925.0,786.5 L925.5,784.5 L925.9,782.6 L926.4,780.7 L926.9,778.7 L927.4,776.8 L927.9,774.8 L928.4,772.9 L928.9,771.0 L929.4,769.0 L929.9,767.1 L930.4,765.1 L930.9,763.2 L931.4,761.3 L931.9,759.3 L932.4,757.4 L932.9,755.5 L933.4,753.5 L933.9,751.6 L934.5,749.7 L935.0,747.8 L935.5,745.8 L936.0,743.9 L936.6,742.0 L937.1,740.0 L937.6,738.1 L938.2,736.2 L938.7,734.3 L939.3,732.3 L939.8,730.4 L940.4,728.5 L940.9,726.6 L941.5,724.7 L942.0,722.7 L942.6,720.8 L943.2,718.9 L943.7,717.0 L944.3,715.1 L944.9,713.2 L945.5,711.3 L946.0,709.3 L946.6,707.4 L947.2,705.5 L947.8,703.6 L948.4,701.7 L949.0,699.8 L949.6,697.9 L950.2,696.0 L950.8,694.1 L951.4,692.2 L952.0,690.3 L952.6,688.4 L953.2,686.5 L953.8,684.5 L954.4,682.6 L955.0,680.7 L955.6,678.8 L956.3,676.9 L956.9,675.0 L957.5,673.1 L958.1,671.2 L958.8,669.3 L959.4,667.4 L960.0,665.6 L960.6,663.7 L961.3,661.8 L961.9,659.9 L962.5,658.0 L963.2,656.1 L963.8,654.2 L964.5,652.3 L965.1,650.4 L965.7,648.5 L966.4,646.6 L967.0,644.7 L967.7,642.8 L968.3,640.9 L969.0,639.0 L969.6,637.1 L970.3,635.2 L970.9,633.4 L971.6,631.5 L972.2,629.6 L972.9,627.7 L973.5,625.8 L974.2,623.9 L974.8,622.0 L975.5,620.1 L976.2,618.2 L976.8,616.3 L977.5,614.5 L978.1,612.6 L978.8,610.7 L979.5,608.8 L980.1,606.9 L980.8,605.0 L981.4,603.1 L982.1,601.2 L982.8,599.4 L983.4,597.5 L984.1,595.6 L984.7,593.7 L985.4,591.8 L986.1,589.9 L986.7,588.0 L987.4,586.1 L988.0,584.2 L988.7,582.4 L989.4,580.5 L990.0,578.6 L990.7,576.7 L991.3,574.8 L992.0,572.9 L992.7,571.0 L993.3,569.1 L994.0,567.2 L994.6,565.4 L995.3,563.5 L995.9,561.6 L996.6,559.7 L997.2,557.8 L997.9,555.9 L998.6,554.0 L999.2,552.1 L999.9,550.2 L1000.5,548.3 L1001.1,546.4 L1001.8,544.5 L1002.4,542.6 L1003.1,540.8 L1003.7,538.9 L1004.4,537.0 L1005.0,535.1 L1005.7,533.2 L1006.3,531.3 L1006.9,529.4 L1007.6,527.5 L1008.2,525.6 L1008.8,523.7 L1009.5,521.8 L1010.1,519.9 L1010.7,518.0 L1011.3,516.1 L1012.0,514.2 L1012.6,512.3 L1013.2,510.4 L1013.8,508.5 L1014.5,506.6 L1015.1,504.7 L1015.7,502.8 L1016.3,500.9 L1017.0,499.0 L1017.6,497.1 L1018.2,495.2 L1018.8,493.3 L1019.4,491.4 L1020.0,489.5 L1020.6,487.6 L1021.3,485.7 L1021.9,483.8 L1022.5,481.9 L1023.1,480.0 L1023.7,478.0 L1024.3,476.1 L1024.9,474.2 L1025.5,472.3 L1026.2,470.4 L1026.8,468.5 L1027.4,466.6 L1028.0,464.7 L1028.6,462.8 L1029.2,460.9 L1029.8,459.0 L1030.4,457.1 L1031.0,455.2 L1031.6,453.3 L1032.2,451.4 L1032.8,449.5 L1033.5,447.6 L1034.1,445.7 L1034.7,443.8 L1035.3,441.9 L1035.9,439.9 L1036.5,438.0 L1037.1,436.1 L1037.7,434.2 L1038.3,432.3 L1038.9,430.4 L1039.5,428.5 L1040.1,426.6 L1040.8,424.7 L1041.4,422.8 L1042.0,420.9 L1042.6,419.0 L1043.2,417.1 L1043.8,415.2 L1044.4,413.3 L1045.0,411.4 L1045.7,409.5 L1046.3,407.6 L1046.9,405.7 L1047.5,403.8 L1048.1,401.9 L1048.8,400.0 L1049.4,398.1 L1050.0,396.2 L1050.6,394.3 L1051.2,392.4 L1051.9,390.5 L1052.5,388.6 L1053.1,386.7 L1053.7,384.8 L1054.4,382.9 L1055.0,381.0 L1055.6,379.1 L1056.3,377.2 L1056.9,375.3 L1057.5,373.4 L1058.2,371.5 L1058.8,369.6 L1059.4,367.7 L1060.1,365.8 L1060.7,364.0 L1061.4,362.1 L1062.0,360.2 L1062.7,358.3 L1063.3,356.4 L1064.0,354.5 L1064.6,352.6 L1065.3,350.7 L1065.9,348.8 L1066.6,346.9 L1067.2,345.1 L1067.9,343.2 L1068.6,341.3 L1069.2,339.4 L1069.9,337.5 L1070.6,335.6 L1071.2,333.8 L1071.9,331.9 L1072.6,330.0 L1073.3,328.1 L1073.9,326.2 L1074.6,324.4 L1075.3,322.5 L1076.0,320.6 L1076.7,318.7 L1077.4,316.9 L1078.1,315.0 L1078.8,313.1 L1079.5,311.2 L1080.2,309.4 L1080.9,307.5 L1081.6,305.6 L1082.3,303.8 L1083.0,301.9 L1083.7,300.0 L1084.4,298.2 L1085.2,296.3 L1085.9,294.4 L1086.6,292.6 L1087.3,290.7 L1088.1,288.9 L1088.8,287.0 L1089.5,285.1 L1090.3,283.3 L1091.0,281.4 L1091.8,279.6 L1092.5,277.7 L1093.3,275.9 L1094.1,274.0 L1094.8,272.2 L1095.6,270.3 L1096.4,268.5 L1097.1,266.6 L1097.9,264.8 L1098.7,263.0 L1099.5,261.1 L1100.3,259.3 L1101.1,257.4 L1101.9,255.6 L1102.7,253.8 L1103.5,251.9 L1104.3,250.1 L1105.1,248.3 L1105.9,246.4 L1106.7,244.6 L1107.6,242.8 L1108.4,241.0 L1109.2,239.1 L1110.1,237.3 L1110.9,235.5 L1111.8,233.7 L1112.7,231.9 L1113.5,230.1 L1114.4,228.3 L1115.3,226.5 L1116.2,224.7 L1117.2,222.9 L1118.1,221.1 L1119.1,219.4 L1120.1,217.6 L1121.1,215.9 L1122.1,214.2 L1123.1,212.5 L1124.2,210.8 L1125.3,209.1 L1126.4,207.4 L1127.6,205.8 L1128.7,204.1 L1129.9,202.5 L1131.2,200.9 L1132.5,199.3 L1133.8,197.7 L1135.1,196.2 L1136.5,194.7 L1137.9,193.2 L1139.3,191.7 L1140.8,190.3 L1142.3,188.9 L1143.8,187.5 L1145.4,186.2 L1147.0,184.9 L1148.6,183.7 L1150.2,182.5 L1151.9,181.4 L1153.6,180.4 L1155.3,179.4 L1157.0,178.5 L1158.7,177.7 L1160.5,176.9 L1162.2,176.3 L1164.0,175.7 L1165.8,175.2 L1167.6,174.8 L1169.4,174.5 L1171.2,174.4 L1173.1,174.3 L1174.9,174.3 L1176.7,174.5 L1178.6,174.7 L1180.4,175.1 L1182.2,175.6 L1184.0,176.2 L1185.9,176.9 L1187.6,177.7 L1189.4,178.5 L1191.2,179.5 L1192.9,180.5 L1194.6,181.7 L1196.2,182.8 L1197.8,184.1 L1199.4,185.4 L1200.9,186.8 L1202.4,188.2 L1203.9,189.6 L1205.3,191.2 L1206.6,192.7 L1207.9,194.3 L1209.2,195.9 L1210.5,197.5 L1211.7,199.2 L1212.9,200.9 L1214.1,202.6 L1215.3,204.3 L1216.4,206.0 L1217.5,207.7 L1218.6,209.4 L1219.7,211.2 L1220.8,212.9 L1221.9,214.6 L1222.9,216.3 L1223.9,218.1 L1224.9,219.8 L1225.9,221.5 L1226.9,223.3 L1227.9,225.0 L1228.8,226.8 L1229.8,228.5 L1230.7,230.3 L1231.6,232.0 L1232.6,233.8 L1233.5,235.5 L1234.4,237.3 L1235.2,239.1 L1236.1,240.8 L1237.0,242.6 L1237.8,244.4 L1238.7,246.2 L1239.5,248.0 L1240.4,249.8 L1241.2,251.6 L1242.0,253.4 L1242.8,255.2 L1243.6,257.0 L1244.5,258.8 L1245.3,260.6 L1246.0,262.4 L1246.8,264.2 L1247.6,266.1 L1248.4,267.9 L1249.2,269.7 L1249.9,271.6 L1250.7,273.4 L1251.5,275.2 L1252.2,277.1 L1253.0,278.9 L1253.7,280.8 L1254.5,282.7 L1255.2,284.5 L1255.9,286.4 L1256.7,288.2 L1257.4,290.1 L1258.1,292.0 L1258.8,293.8 L1259.5,295.7 L1260.3,297.6 L1261.0,299.5 L1261.7,301.3 L1262.4,303.2 L1263.0,305.1 L1263.7,307.0 L1264.4,308.9 L1265.1,310.8 L1265.8,312.7 L1266.5,314.5 L1267.1,316.4 L1267.8,318.3 L1268.5,320.2 L1269.1,322.1 L1269.8,324.0 L1270.5,325.9 L1271.1,327.8 L1271.8,329.7 L1272.4,331.6 L1273.1,333.5 L1273.7,335.4 L1274.4,337.3 L1275.0,339.2 L1275.7,341.1 L1276.3,343.0 L1276.9,344.9 L1277.6,346.8 L1278.2,348.7 L1278.9,350.6 L1279.5,352.5 L1280.1,354.4 L1280.7,356.3 L1281.4,358.2 L1282.0,360.1 L1282.6,362.0 L1283.3,363.9 L1283.9,365.8 L1284.5,367.7 L1285.1,369.6 L1285.8,371.5 L1286.4,373.4 L1287.0,375.3 L1287.6,377.2 L1288.3,379.1 L1288.9,381.0 L1289.5,382.9 L1290.2,384.8 L1290.8,386.7 L1291.4,388.6 L1292.1,390.5 L1292.7,392.4 L1293.3,394.3 L1294.0,396.2 L1294.6,398.0 L1295.2,399.9 L1295.9,401.8 L1296.5,403.7 L1297.2,405.6 L1297.9,407.5 L1298.5,409.4 L1299.2,411.2 L1299.8,413.1 L1300.5,415.0 L1301.2,416.9 L1301.8,418.8 L1302.5,420.6 L1303.2,422.5 L1303.9,424.4 L1304.6,426.3 L1305.3,428.1 L1306.0,430.0 L1306.7,431.9 L1307.4,433.7 L1308.1,435.6 L1308.8,437.5 L1309.5,439.3 L1310.3,441.2 L1311.0,443.0 L1311.7,444.9 L1312.5,446.8 L1313.2,448.6 L1314.0,450.5 L1314.8,452.3 L1315.5,454.2 L1316.3,456.0 L1317.1,457.9 L1317.8,459.7 L1318.6,461.5 L1319.4,463.4 L1320.2,465.2 L1321.0,467.1 L1321.8,468.9 L1322.6,470.8 L1323.4,472.6 L1324.2,474.4 L1325.0,476.3 L1325.8,478.1 L1326.6,479.9 L1327.4,481.8 L1328.3,483.6 L1329.1,485.4 L1329.9,487.3 L1330.7,489.1 L1331.5,491.0 L1332.3,492.8 L1333.2,494.6 L1334.0,496.5 L1334.8,498.3 L1335.6,500.1 L1336.4,502.0 L1337.2,503.8 L1338.1,505.6 L1338.9,507.5 L1339.7,509.3 L1340.5,511.1 L1341.3,513.0 L1342.1,514.8 L1342.9,516.7 L1343.7,518.5 L1344.5,520.3 L1345.3,522.2 L1346.1,524.0 L1346.9,525.9 L1347.7,527.7 L1348.5,529.6 L1349.3,531.4 L1350.1,533.2 L1350.8,535.1 L1351.6,536.9 L1352.4,538.8 L1353.1,540.6 L1353.9,542.5 L1354.6,544.4 L1355.4,546.2 L1356.1,548.1 L1356.9,549.9 L1357.6,551.8 L1358.3,553.7 L1359.1,555.5 L1359.8,557.4 L1360.5,559.3 L1361.2,561.1 L1361.9,563.0 L1362.6,564.9 L1363.3,566.7 L1364.0,568.6 L1364.7,570.5 L1365.4,572.4 L1366.1,574.2 L1366.8,576.1 L1367.5,578.0 L1368.1,579.9 L1368.8,581.7 L1369.5,583.6 L1370.1,585.5 L1370.8,587.4 L1371.4,589.3 L1372.1,591.2 L1372.7,593.1 L1373.4,595.0 L1374.0,596.8 L1374.6,598.7 L1375.3,600.6 L1375.9,602.5 L1376.5,604.4 L1377.2,606.3 L1377.8,608.2 L1378.4,610.1 L1379.0,612.0 L1379.6,613.9 L1380.2,615.8 L1380.8,617.7 L1381.4,619.6 L1382.0,621.5 L1382.6,623.4 L1383.2,625.3 L1383.8,627.2 L1384.4,629.2 L1384.9,631.1 L1385.5,633.0 L1386.1,634.9 L1386.6,636.8 L1387.2,638.7 L1387.8,640.6 L1388.3,642.5 L1388.9,644.5 L1389.4,646.4 L1390.0,648.3 L1390.5,650.2 L1391.1,652.1 L1391.6,654.1 L1392.2,656.0 L1392.7,657.9 L1393.2,659.8 L1393.8,661.7 L1394.3,663.7 L1394.8,665.6 L1395.3,667.5 L1395.9,669.5 L1396.4,671.4 L1396.9,673.3 L1397.4,675.2 L1397.9,677.2 L1398.4,679.1 L1398.9,681.0 L1399.4,683.0 L1399.9,684.9 L1400.4,686.8 L1400.9,688.8 L1401.4,690.7 L1401.9,692.6 L1402.4,694.6 L1402.9,696.5 L1403.4,698.5 L1403.9,700.4 L1404.3,702.3 L1404.8,704.3 L1405.3,706.2 L1405.8,708.2 L1406.2,710.1 L1406.7,712.0 L1407.2,714.0 L1407.6,715.9 L1408.1,717.9 L1408.6,719.8 L1409.0,721.8 L1409.5,723.7 L1409.9,725.7 L1410.4,727.6 L1410.8,729.6 L1411.3,731.5 L1411.7,733.5 L1412.2,735.4 L1412.6,737.4 L1413.1,739.3 L1413.5,741.3 L1413.9,743.2 L1414.4,745.2 L1414.8,747.1 L1415.3,749.1 L1415.7,751.0 L1416.1,753.0 L1416.6,754.9 L1417.0,756.9 L1417.4,758.9 L1417.8,760.8 L1418.3,762.8 L1418.7,764.7 L1419.1,766.7 L1419.5,768.6 L1419.9,770.6 L1420.4,772.6 L1420.8,774.5 L1421.2,776.5 L1421.6,778.4 L1422.0,780.4 L1422.4,782.4 L1422.9,784.3 L1423.3,786.3 L1423.7,788.2 L1424.1,790.2 L1424.5,792.2 L1424.9,794.1 L1425.3,796.1 L1425.7,798.0 L1426.1,800.0 L1426.5,802.0 L1426.9,803.9 L1427.3,805.9 L1427.7,807.9 L1428.1,809.8 L1428.5,811.8 L1428.9,813.7 L1429.3,815.7 L1429.7,817.7 L1430.1,819.6 L1430.5,821.6 L1430.9,823.6 L1431.3,825.5 L1431.7,827.5 L1432.1,829.5 L1432.5,831.4 L1432.9,833.4 L1433.3,835.4 L1433.7,837.3 L1434.1,839.3 L1434.5,841.3 L1434.9,843.2 L1435.3,845.2 L1435.7,847.2 L1436.0,849.1 L1436.4,851.1 L1436.8,853.1 L1437.2,855.0 L1437.6,857.0 L1438.0,858.9 L1438.4,860.9 L1438.8,862.9 L1439.2,864.8 L1439.6,866.8 L1440.0,868.8 L1440.4,870.7 L1440.8,872.7 L1441.2,874.7 L1441.5,876.6 L1441.9,878.6 L1442.3,880.6 L1442.7,882.5 L1443.1,884.5 L1443.5,886.5 L1443.9,888.4 L1444.3,890.4 L1444.7,892.4 L1445.1,894.3 L1445.5,896.3 L1445.9,898.2 L1446.3,900.2 L1446.7,902.2 L1447.1,904.1 L1447.5,906.1 L1447.9,908.1 L1448.3,910.0 L1448.7,912.0 L1449.1,913.9 L1449.5,915.9 L1449.9,917.9 L1450.3,919.8 L1450.7,921.8 L1451.1,923.7 L1451.5,925.7 L1451.9,927.7 L1452.3,929.6 L1452.8,931.6 L1453.2,933.5 L1453.6,935.5 L1454.0,937.5 L1454.4,939.4 L1454.8,941.4 L1455.2,943.3 L1455.7,945.3 L1456.1,947.2 L1456.5,949.2 L1456.9,951.2 L1457.3,953.1 L1457.8,955.1 L1458.2,957.0 L1458.6,959.0 L1459.0,960.9 L1459.5,962.9 L1459.9,964.8 L1460.3,966.8 L1460.7,968.7 L1461.2,970.7 L1461.6,972.6 L1462.0,974.6 L1462.5,976.5 L1462.9,978.5 L1463.4,980.4 L1463.8,982.4 L1464.2,984.3 L1464.7,986.3 L1465.1,988.2 L1465.6,990.2 L1466.0,992.1 L1466.5,994.1 L1466.9,996.0 L1467.4,998.0 L1467.8,999.9 L1468.3,1001.9 L1468.7,1003.8 L1469.2,1005.8 L1469.6,1007.7 L1470.1,1009.6 L1470.5,1011.6 L1471.0,1013.5 L1471.5,1015.5 L1471.9,1017.4 L1472.4,1019.4 L1472.9,1021.3 L1473.3,1023.2 L1473.8,1025.2 L1474.3,1027.1 L1474.7,1029.1 L1475.2,1031.0 L1475.7,1032.9 L1476.1,1034.9 L1476.6,1036.8 L1477.1,1038.8 L1477.6,1040.7 L1478.1,1042.6 L1478.5,1044.6 L1479.0,1046.5 L1479.5,1048.5 L1480.0,1050.4 L1480.5,1052.3 L1481.0,1054.3 L1481.5,1056.2 L1482.0,1058.1 L1482.5,1060.1 L1483.0,1062.0 L1483.5,1063.9 L1484.0,1065.9 L1484.5,1067.8 L1485.0,1069.7 L1485.5,1071.7 L1486.0,1073.6 L1486.5,1075.5 L1487.0,1077.5 L1487.5,1079.4 L1488.0,1081.3 L1488.5,1083.3 L1489.0,1085.2 L1489.6,1087.1 L1490.1,1089.0 L1490.6,1091.0 L1491.1,1092.9 L1491.6,1094.8 L1492.2,1096.8 L1492.7,1098.7 L1493.2,1100.6 L1493.8,1102.5 L1494.3,1104.5 L1494.8,1106.4 L1495.4,1108.3 L1495.9,1110.2 L1496.4,1112.2 L1497.0,1114.1 L1497.5,1116.0 L1498.1,1117.9 L1498.6,1119.9 L1499.2,1121.8 L1499.7,1123.7 L1500.3,1125.6 L1500.8,1127.6 L1501.4,1129.5 L1501.9,1131.4 L1502.5,1133.3 L1503.1,1135.2 L1503.6,1137.2 L1504.2,1139.1 L1504.8,1141.0 L1505.3,1142.9 L1505.9,1144.8 L1506.5,1146.8 L1507.1,1148.7 L1507.6,1150.6 L1508.2,1152.5 L1508.8,1154.4 L1509.4,1156.3 L1509.9,1158.3 L1510.5,1160.2 L1511.1,1162.1 L1511.7,1164.0 L1512.3,1165.9 L1512.9,1167.8 L1513.5,1169.7 L1514.1,1171.7 L1514.6,1173.6 L1515.2,1175.5 L1515.8,1177.4 L1516.4,1179.3 L1517.0,1181.2 L1517.6,1183.1 L1518.2,1185.1 L1518.8,1187.0 L1519.4,1188.9 L1520.0,1190.8 L1520.6,1192.7 L1521.2,1194.6 L1521.8,1196.5 L1522.4,1198.4 L1523.0,1200.4 L1523.6,1202.3 L1524.2,1204.2 L1524.8,1206.1 L1525.4,1208.0 L1526.0,1209.9 L1526.6,1211.8 L1527.2,1213.7 L1527.8,1215.6 L1528.5,1217.6 L1529.1,1219.5 L1529.7,1221.4 L1530.3,1223.3 L1530.9,1225.2 L1531.5,1227.1 L1532.1,1229.0 L1532.7,1230.9 L1533.3,1232.8 L1533.9,1234.7 L1534.5,1236.7 L1535.1,1238.6 L1535.7,1240.5 L1536.3,1242.4 L1536.9,1244.3 L1537.5,1246.2 L1538.1,1248.1 L1538.7,1250.0 L1539.3,1251.9 L1539.9,1253.9 L1540.6,1255.8 L1541.2,1257.7 L1541.8,1259.6 L1542.4,1261.5 L1542.9,1263.4 L1543.5,1265.3 L1544.1,1267.2 L1544.7,1269.2 L1545.3,1271.1 L1545.9,1273.0 L1546.5,1274.9 L1547.1,1276.8 L1547.7,1278.7 L1548.3,1280.6 L1548.9,1282.5 L1549.5,1284.5 L1550.1,1286.4 L1550.6,1288.3 L1551.2,1290.2 L1551.8,1292.1 L1552.4,1294.0 L1553.0,1295.9 L1553.6,1297.9 L1554.1,1299.8 L1554.7,1301.7 L1555.3,1303.6 L1555.9,1305.5 L1556.4,1307.4 L1557.0,1309.4 L1557.6,1311.3 L1558.1,1313.2 L1558.7,1315.1 L1559.3,1317.0 L1559.8,1318.9 L1560.4,1320.9 L1560.9,1322.8 L1561.5,1324.7 L1562.0,1326.6 L1562.6,1328.5 L1563.1,1330.5 L1563.7,1332.4 L1564.2,1334.3 L1564.8,1336.2 L1565.3,1338.2 L1565.8,1340.1 L1566.4,1342.0 L1566.9,1343.9 L1567.4,1345.8 L1568.0,1347.8 L1568.5,1349.7 L1569.0,1351.6 L1569.6,1353.5 L1570.1,1355.5 L1570.6,1357.4 L1571.2,1359.3 L1571.7,1361.2 L1572.2,1363.2 L1572.7,1365.1 L1573.3,1367.0 L1573.8,1368.9 L1574.3,1370.9 L1574.8,1372.8 L1575.4,1374.7 L1575.9,1376.6 L1576.4,1378.6 L1576.9,1380.5 L1577.5,1382.4 L1578.0,1384.3 L1578.5,1386.3 L1579.0,1388.2 L1579.6,1390.1 L1580.1,1392.0 L1580.6,1393.9 L1581.2,1395.9 L1581.7,1397.8 L1582.2,1399.7 L1582.8,1401.6 L1583.3,1403.6 L1583.8,1405.5 L1584.4,1407.4 L1584.9,1409.3 L1585.5,1411.2 L1586.0,1413.2 L1586.6,1415.1 L1587.1,1417.0 L1587.7,1418.9 L1588.2,1420.8 L1588.8,1422.8 L1589.3,1424.7 L1589.9,1426.6 L1590.4,1428.5 L1591.0,1430.4 L1591.6,1432.3 L1592.1,1434.2 L1592.7,1436.2 L1593.3,1438.1 L1593.9,1440.0 L1594.5,1441.9 L1595.0,1443.8 L1595.6,1445.7 L1596.2,1447.6 L1596.8,1449.5 L1597.4,1451.4 L1598.0,1453.3 L1598.6,1455.3 L1599.3,1457.2 L1599.9,1459.1 L1600.5,1461.0 L1601.1,1462.9 L1601.8,1464.8 L1602.4,1466.7 L1603.0,1468.6 L1603.7,1470.5 L1604.3,1472.4 L1605.0,1474.3 L1605.6,1476.2 L1606.3,1478.1 L1607.0,1479.9 L1607.6,1481.8 L1608.3,1483.7 L1609.0,1485.6 L1609.7,1487.5 L1610.4,1489.4 L1611.1,1491.3 L1611.8,1493.2 L1612.5,1495.1 L1613.2,1496.9 L1613.9,1498.8 L1614.7,1500.7 L1615.4,1502.6 L1616.2,1504.5 L1616.9,1506.3 L1617.7,1508.2 L1618.4,1510.1 L1619.2,1512.0 L1620.0,1513.8 L1620.7,1515.7 L1621.5,1517.6 L1622.3,1519.4 L1623.1,1521.3 L1623.9,1523.2 L1624.8,1525.0 L1625.6,1526.9 L1626.4,1528.7 L1627.3,1530.6 L1628.1,1532.4 L1629.0,1534.3 L1629.9,1536.1 L1630.8,1537.9 L1631.7,1539.7 L1632.6,1541.5 L1633.6,1543.3 L1634.5,1545.0 L1635.5,1546.8 L1636.6,1548.5 L1637.6,1550.2 L1638.7,1551.8 L1639.8,1553.4 L1640.9,1555.0 L1642.0,1556.6 L1643.2,1558.1 L1644.4,1559.6 L1645.7,1561.1 L1647.0,1562.5 L1648.3,1563.9 L1649.7,1565.3 L1651.1,1566.6 L1652.5,1567.8 L1654.0,1569.0 L1655.5,1570.2 L1657.0,1571.3 L1658.6,1572.4 L1660.3,1573.4 L1661.9,1574.4 L1663.6,1575.4 L1665.4,1576.3 L1667.1,1577.1 L1668.9,1577.9 L1670.7,1578.7 L1672.5,1579.4 L1674.4,1580.1 L1676.3,1580.7 L1678.2,1581.3 L1680.1,1581.9 L1682.0,1582.4 L1683.9,1582.9 L1685.9,1583.3 L1687.9,1583.7 L1689.8,1584.1 L1691.8,1584.4 L1693.8,1584.7 L1695.8,1584.9 L1697.8,1585.1 L1699.8,1585.3 L1701.8,1585.4 L1703.8,1585.5 L1705.8,1585.6 L1707.8,1585.6 L1709.9,1585.7 L1711.9,1585.6 L1713.9,1585.6 L1715.9,1585.6 L1717.9,1585.5 L1719.9,1585.4 L1721.9,1585.3 L1723.9,1585.2 L1726.0,1585.1 L1728.0,1585.0 L1730.0,1584.9 L1732.0,1584.8 L1734.0,1584.6 L1736.0,1584.5 L1738.0,1584.4 L1740.0,1584.3 L1742.1,1584.2 L1744.1,1584.1 L1746.1,1584.0 L1748.1,1584.0 L1750.1,1583.9 L1752.1,1583.9 L1754.1,1583.9 L1756.1,1583.9 L1758.0,1583.9 L1760.0,1584.0 L1762.0,1584.0 L1764.0,1584.1 L1766.0,1584.2 L1768.0,1584.2 L1770.0,1584.3 L1772.0,1584.4 L1774.0,1584.5 L1776.0,1584.5 L1778.0,1584.6 L1780.0,1584.6 L1781.9,1584.7 L1783.9,1584.7 L1785.9,1584.8 L1788.0,1584.8 L1790.0,1584.8 L1792.0,1584.7 L1794.0,1584.7 L1796.0,1584.6 L1798.0,1584.5 L1800.0,1584.4" stroke="#FF0000" stroke-dasharray="19.5 16.9"/>
<path d="M599.3,1583.8 L601.5,1584.0 L603.8,1584.3 L605.9,1584.5 L608.1,1584.6 L610.2,1584.7 L612.3,1584.8 L614.4,1584.9 L616.4,1584.9 L618.5,1585.0 L620.5,1585.0 L622.5,1584.9 L624.4,1584.9 L626.4,1584.9 L628.4,1584.8 L630.3,1584.7 L632.2,1584.6 L634.1,1584.6 L636.1,1584.5 L638.0,1584.4 L639.9,1584.3 L641.8,1584.2 L643.7,1584.1 L645.7,1584.1 L647.6,1584.0 L649.5,1583.9 L651.5,1583.9 L653.4,1583.8 L655.4,1583.8 L657.4,1583.8 L659.3,1583.9 L661.4,1583.9 L663.4,1584.0 L665.4,1584.1 L667.5,1584.2 L669.6,1584.3 L671.7,1584.4 L673.8,1584.6 L675.9,1584.7 L678.0,1584.8 L680.1,1585.0 L682.2,1585.1 L684.3,1585.2 L686.4,1585.4 L688.5,1585.5 L690.6,1585.5 L692.7,1585.6 L694.8,1585.6 L696.9,1585.6 L698.9,1585.6 L700.9,1585.6 L702.9,1585.5 L704.9,1585.3 L706.9,1585.1 L708.8,1584.9 L710.7,1584.6 L712.5,1584.3 L714.4,1583.9 L716.2,1583.4 L717.9,1582.9 L719.6,1582.3 L721.3,1581.6 L722.9,1580.9 L724.5,1580.1 L726.1,1579.2 L727.6,1578.2 L729.0,1577.2 L730.4,1576.1 L731.8,1574.9 L733.1,1573.7 L734.4,1572.4 L735.7,1571.1 L736.9,1569.7 L738.1,1568.2 L739.2,1566.7 L740.3,1565.2 L741.4,1563.6 L742.5,1561.9 L743.5,1560.3 L744.5,1558.6 L745.5,1556.8 L746.4,1555.0 L747.3,1553.2 L748.2,1551.4 L749.1,1549.6 L750.0,1547.7 L750.8,1545.8 L751.6,1543.9 L752.4,1542.0 L753.2,1540.0 L753.9,1538.1 L754.7,1536.2 L755.4,1534.2 L756.1,1532.3 L756.8,1530.3 L757.5,1528.4 L758.2,1526.4 L758.9,1524.5 L759.6,1522.6 L760.2,1520.6 L760.9,1518.7 L761.5,1516.8 L762.1,1514.8 L762.7,1512.9 L763.4,1511.0 L764.0,1509.0 L764.6,1507.1 L765.1,1505.2 L765.7,1503.3 L766.3,1501.3 L766.9,1499.4 L767.4,1497.5 L768.0,1495.6 L768.5,1493.7 L769.1,1491.7 L769.6,1489.8 L770.1,1487.9 L770.7,1486.0 L771.2,1484.1 L771.7,1482.1 L772.2,1480.2 L772.7,1478.3 L773.2,1476.4 L773.7,1474.5 L774.2,1472.5 L774.7,1470.6 L775.2,1468.7 L775.7,1466.7 L776.2,1464.8 L776.7,1462.9 L777.2,1461.0 L777.7,1459.0 L778.1,1457.1 L778.6,1455.2 L779.1,1453.2 L779.6,1451.3 L780.0,1449.4 L780.5,1447.4 L781.0,1445.5 L781.4,1443.6 L781.9,1441.6 L782.3,1439.7 L782.8,1437.7 L783.2,1435.8 L783.7,1433.9 L784.1,1431.9 L784.6,1430.0 L785.0,1428.0 L785.4,1426.1 L785.9,1424.1 L786.3,1422.2 L786.7,1420.3 L787.2,1418.3 L787.6,1416.4 L788.0,1414.4 L788.5,1412.5 L788.9,1410.5 L789.3,1408.6 L789.7,1406.6 L790.1,1404.7 L790.5,1402.7 L790.9,1400.8 L791.4,1398.8 L791.8,1396.8 L792.2,1394.9 L792.6,1392.9 L793.0,1391.0 L793.4,1389.0 L793.8,1387.1 L794.2,1385.1 L794.5,1383.2 L794.9,1381.2 L795.3,1379.2 L795.7,1377.3 L796.1,1375.3 L796.5,1373.4 L796.9,1371.4 L797.2,1369.4 L797.6,1367.5 L798.0,1365.5 L798.4,1363.5 L798.7,1361.6 L799.1,1359.6 L799.5,1357.7 L799.9,1355.7 L800.2,1353.7 L800.6,1351.8 L801.0,1349.8 L801.3,1347.8 L801.7,1345.9 L802.0,1343.9 L802.4,1341.9 L802.7,1340.0 L803.1,1338.0 L803.5,1336.0 L803.8,1334.1 L804.2,1332.1 L804.5,1330.1 L804.9,1328.1 L805.2,1326.2 L805.6,1324.2 L805.9,1322.2 L806.2,1320.3 L806.6,1318.3 L806.9,1316.3 L807.3,1314.3 L807.6,1312.4 L807.9,1310.4 L808.3,1308.4 L808.6,1306.5 L808.9,1304.5 L809.3,1302.5 L809.6,1300.5 L809.9,1298.6 L810.3,1296.6 L810.6,1294.6 L810.9,1292.6 L811.3,1290.7 L811.6,1288.7 L811.9,1286.7 L812.2,1284.7 L812.6,1282.8 L812.9,1280.8 L813.2,1278.8 L813.5,1276.8 L813.9,1274.9 L814.2,1272.9 L814.5,1270.9 L814.8,1268.9 L815.1,1267.0 L815.5,1265.0 L815.8,1263.0 L816.1,1261.0 L816.4,1259.0 L816.7,1257.1 L817.0,1255.1 L817.4,1253.1 L817.7,1251.1 L818.0,1249.2 L818.3,1247.2 L818.6,1245.2 L818.9,1243.2 L819.2,1241.3 L819.6,1239.3 L819.9,1237.3 L820.2,1235.3 L820.5,1233.3 L820.8,1231.4 L821.1,1229.4 L821.4,1227.4 L821.7,1225.4 L822.1,1223.5 L822.4,1221.5 L822.7,1219.5 L823.0,1217.5 L823.3,1215.6 L823.6,1213.6 L823.9,1211.6 L824.2,1209.6 L824.5,1207.7 L824.8,1205.7 L825.1,1203.7 L825.5,1201.7 L825.8,1199.7 L826.1,1197.8 L826.4,1195.8 L826.7,1193.8 L827.0,1191.8 L827.3,1189.9 L827.6,1187.9 L827.9,1185.9 L828.2,1183.9 L828.5,1182.0 L828.8,1180.0 L829.1,1178.0 L829.4,1176.0 L829.7,1174.1 L830.0,1172.1 L830.4,1170.1 L830.7,1168.1 L831.0,1166.2 L831.3,1164.2 L831.6,1162.2 L831.9,1160.2 L832.2,1158.3 L832.5,1156.3 L832.8,1154.3 L833.1,1152.3 L833.4,1150.3 L833.7,1148.4 L834.0,1146.4 L834.3,1144.4 L834.6,1142.4 L834.9,1140.5 L835.2,1138.5 L835.5,1136.5 L835.8,1134.5 L836.1,1132.6 L836.4,1130.6 L836.7,1128.6 L837.0,1126.6 L837.3,1124.7 L837.6,1122.7 L837.9,1120.7 L838.2,1118.7 L838.5,1116.8 L838.8,1114.8 L839.1,1112.8 L839.4,1110.8 L839.7,1108.9 L840.0,1106.9 L840.3,1104.9 L840.6,1102.9 L840.9,1101.0 L841.2,1099.0 L841.5,1097.0 L841.8,1095.0 L842.1,1093.1 L842.4,1091.1 L842.7,1089.1 L843.0,1087.1 L843.3,1085.1 L843.5,1083.2 L843.8,1081.2 L844.1,1079.2 L844.4,1077.2 L844.7,1075.3 L845.0,1073.3 L845.3,1071.3 L845.6,1069.3 L845.9,1067.4 L846.2,1065.4 L846.5,1063.4 L846.8,1061.4 L847.1,1059.5 L847.4,1057.5 L847.7,1055.5 L848.0,1053.5 L848.3,1051.6 L848.6,1049.6 L848.8,1047.6 L849.1,1045.6 L849.4,1043.6 L849.7,1041.7 L850.0,1039.7 L850.3,1037.7 L850.6,1035.7 L850.9,1033.8 L851.2,1031.8 L851.5,1029.8 L851.8,1027.8 L852.1,1025.9 L852.4,1023.9 L852.7,1021.9 L852.9,1019.9 L853.2,1018.0 L853.5,1016.0 L853.8,1014.0 L854.1,1012.0 L854.4,1010.0 L854.7,1008.1 L855.0,1006.1 L855.3,1004.1 L855.6,1002.1 L855.9,1000.2 L856.1,998.2 L856.4,996.2 L856.7,994.2 L857.0,992.3 L857.3,990.3 L857.6,988.3 L857.9,986.3 L858.2,984.3 L858.5,982.4 L858.8,980.4 L859.0,978.4 L859.3,976.4 L859.6,974.5 L859.9,972.5 L860.2,970.5 L860.5,968.5 L860.8,966.5 L861.1,964.6 L861.4,962.6 L861.7,960.6 L861.9,958.6 L862.2,956.7 L862.5,954.7 L862.8,952.7 L863.1,950.7 L863.4,948.7 L863.7,946.8 L864.0,944.8 L864.3,942.8 L864.6,940.8 L864.8,938.9 L865.1,936.9 L865.4,934.9 L865.7,932.9 L866.0,930.9 L866.3,929.0 L866.6,927.0 L866.9,925.0 L867.2,923.0 L867.5,921.1 L867.8,919.1 L868.1,917.1 L868.3,915.1 L868.6,913.1 L868.9,911.2 L869.2,909.2 L869.5,907.2 L869.8,905.2 L870.1,903.3 L870.4,901.3 L870.7,899.3 L871.0,897.3 L871.3,895.3 L871.6,893.4 L871.9,891.4 L872.2,889.4 L872.5,887.4 L872.8,885.5 L873.1,883.5 L873.4,881.5 L873.7,879.5 L874.0,877.6 L874.3,875.6 L874.6,873.6 L874.9,871.6 L875.2,869.6 L875.5,867.7 L875.8,865.7 L876.1,863.7 L876.4,861.7 L876.7,859.8 L877.0,857.8 L877.3,855.8 L877.6,853.8 L877.9,851.9 L878.2,849.9 L878.5,847.9 L878.8,845.9 L879.1,843.9 L879.4,842.0 L879.8,840.0 L880.1,838.0 L880.4,836.0 L880.7,834.1 L881.0,832.1 L881.3,830.1 L881.6,828.1 L881.9,826.2 L882.3,824.2 L882.6,822.2 L882.9,820.2 L883.2,818.3 L883.5,816.3 L883.8,814.3 L884.2,812.3 L884.5,810.4 L884.8,808.4 L885.1,806.4 L885.4,804.4 L885.8,802.5 L886.1,800.5 L886.4,798.5 L886.7,796.5 L887.0,794.6 L887.4,792.6 L887.7,790.6 L888.0,788.6 L888.4,786.7 L888.7,784.7 L889.0,782.7 L889.3,780.8 L889.7,778.8 L890.0,776.8 L890.3,774.8 L890.7,772.9 L891.0,770.9 L891.4,768.9 L891.7,766.9 L892.0,765.0 L892.4,763.0 L892.7,761.0 L893.1,759.1 L893.4,757.1 L893.7,755.1 L894.1,753.1 L894.4,751.2 L894.8,749.2 L895.1,747.2 L895.5,745.3 L895.8,743.3 L896.2,741.3 L896.5,739.4 L896.9,737.4 L897.2,735.4 L897.6,733.4 L897.9,731.5 L898.3,729.5 L898.7,727.5 L899.0,725.6 L899.4,723.6 L899.8,721.6 L900.1,719.7 L900.5,717.7 L900.9,715.7 L901.2,713.8 L901.6,711.8 L902.0,709.8 L902.4,707.9 L902.8,705.9 L903.1,704.0 L903.5,702.0 L903.9,700.0 L904.3,698.1 L904.7,696.1 L905.1,694.1 L905.5,692.2 L905.9,690.2 L906.3,688.3 L906.7,686.3 L907.1,684.4 L907.6,682.4 L908.0,680.5 L908.4,678.5 L908.8,676.5 L909.3,674.6 L909.7,672.6 L910.1,670.7 L910.6,668.7 L911.0,666.8 L911.5,664.8 L911.9,662.9 L912.4,661.0 L912.8,659.0 L913.3,657.1 L913.7,655.1 L914.2,653.2 L914.7,651.2 L915.2,649.3 L915.6,647.4 L916.1,645.4 L916.6,643.5 L917.1,641.6 L917.6,639.6 L918.1,637.7 L918.6,635.8 L919.1,633.8 L919.6,631.9 L920.2,630.0 L920.7,628.0 L921.2,626.1 L921.8,624.2 L922.3,622.3 L922.8,620.3 L923.4,618.4 L923.9,616.5 L924.5,614.6 L925.1,612.7 L925.6,610.8 L926.2,608.8 L926.8,606.9 L927.3,605.0 L927.9,603.1 L928.5,601.2 L929.1,599.3 L929.7,597.4 L930.3,595.5 L930.9,593.6 L931.5,591.7 L932.1,589.8 L932.8,587.9 L933.4,586.0 L934.0,584.1 L934.6,582.2 L935.3,580.3 L935.9,578.4 L936.6,576.5 L937.2,574.6 L937.9,572.7 L938.5,570.8 L939.2,568.9 L939.8,567.0 L940.5,565.2 L941.2,563.3 L941.9,561.4 L942.5,559.5 L943.2,557.6 L943.9,555.8 L944.6,553.9 L945.3,552.0 L946.0,550.1 L946.7,548.3 L947.4,546.4 L948.1,544.5 L948.8,542.6 L949.5,540.8 L950.2,538.9 L951.0,537.0 L951.7,535.2 L952.4,533.3 L953.2,531.4 L953.9,529.6 L954.6,527.7 L955.4,525.9 L956.1,524.0 L956.9,522.2 L957.6,520.3 L958.4,518.5 L959.1,516.6 L959.9,514.7 L960.7,512.9 L961.4,511.1 L962.2,509.2 L963.0,507.4 L963.8,505.5 L964.5,503.7 L965.3,501.8 L966.1,500.0 L966.9,498.1 L967.6,496.3 L968.4,494.4 L969.2,492.6 L970.0,490.7 L970.7,488.9 L971.5,487.0 L972.2,485.2 L973.0,483.3 L973.7,481.5 L974.5,479.6 L975.2,477.8 L975.9,475.9 L976.6,474.1 L977.4,472.2 L978.1,470.3 L978.8,468.4 L979.4,466.6 L980.1,464.7 L980.8,462.8 L981.4,460.9 L982.1,459.0 L982.7,457.1 L983.3,455.2 L983.9,453.3 L984.5,451.4 L985.1,449.5 L985.7,447.6 L986.3,445.7 L986.8,443.8 L987.4,441.9 L987.9,439.9 L988.4,438.0 L989.0,436.1 L989.5,434.1 L990.0,432.2 L990.5,430.3 L990.9,428.3 L991.4,426.4 L991.9,424.4 L992.4,422.5 L992.8,420.5 L993.3,418.6 L993.7,416.6 L994.2,414.7 L994.6,412.7 L995.0,410.8 L995.5,408.8 L995.9,406.8 L996.3,404.9 L996.7,402.9 L997.2,401.0 L997.6,399.0 L998.0,397.0 L998.4,395.1 L998.8,393.1 L999.2,391.2 L999.6,389.2 L1000.0,387.2 L1000.4,385.3 L1000.8,383.3 L1001.2,381.3 L1001.6,379.4 L1002.0,377.4 L1002.4,375.5 L1002.8,373.5 L1003.2,371.5 L1003.5,369.6 L1003.9,367.6 L1004.3,365.6 L1004.7,363.7 L1005.1,361.7 L1005.4,359.8 L1005.8,357.8 L1006.2,355.8 L1006.6,353.9 L1006.9,351.9 L1007.3,349.9 L1007.7,348.0 L1008.1,346.0 L1008.4,344.0 L1008.8,342.1 L1009.2,340.1 L1009.5,338.1 L1009.9,336.2 L1010.2,334.2 L1010.6,332.2 L1011.0,330.3 L1011.3,328.3 L1011.7,326.3 L1012.0,324.4 L1012.4,322.4 L1012.7,320.4 L1013.1,318.5 L1013.5,316.5 L1013.8,314.5 L1014.2,312.6 L1014.5,310.6 L1014.9,308.6 L1015.2,306.7 L1015.6,304.7 L1015.9,302.7 L1016.3,300.8 L1016.6,298.8 L1017.0,296.8 L1017.3,294.9 L1017.7,292.9 L1018.0,290.9 L1018.4,289.0 L1018.7,287.0 L1019.0,285.0 L1019.4,283.0 L1019.7,281.1 L1020.1,279.1 L1020.4,277.1 L1020.8,275.2 L1021.1,273.2 L1021.5,271.2 L1021.8,269.3 L1022.2,267.3 L1022.5,265.3 L1022.9,263.3 L1023.2,261.4 L1023.6,259.4 L1023.9,257.4 L1024.3,255.5 L1024.6,253.5 L1025.0,251.5 L1025.3,249.5 L1025.7,247.6 L1026.0,245.6 L1026.4,243.6 L1026.7,241.7 L1027.1,239.7 L1027.4,237.7 L1027.8,235.7 L1028.1,233.8 L1028.5,231.8 L1028.9,229.8 L1029.2,227.9 L1029.6,225.9 L1029.9,223.9 L1030.3,222.0 L1030.7,220.0 L1031.0,218.0 L1031.4,216.1 L1031.8,214.1 L1032.1,212.1 L1032.5,210.2 L1032.9,208.2 L1033.2,206.2 L1033.6,204.3 L1034.0,202.3 L1034.4,200.3 L1034.7,198.4 L1035.1,196.4 L1035.5,194.5 L1035.9,192.5 L1036.3,190.5 L1036.6,188.6 L1037.0,186.6 L1037.4,184.7 L1037.8,182.7 L1038.2,180.7 L1038.6,178.8 L1039.0,176.8 L1039.4,174.9 L1039.8,172.9 L1040.2,171.0 L1040.6,169.0 L1041.0,167.1 L1041.4,165.1 L1041.8,163.2 L1042.3,161.2 L1042.7,159.3 L1043.1,157.3 L1043.5,155.4 L1043.9,153.4 L1044.4,151.5 L1044.8,149.5 L1045.3,147.6 L1045.7,145.6 L1046.2,143.7 L1046.6,141.7 L1047.1,139.8 L1047.6,137.9 L1048.1,135.9 L1048.6,134.0 L1049.1,132.0 L1049.6,130.1 L1050.1,128.2 L1050.7,126.2 L1051.2,124.3 L1051.8,122.3 L1052.4,120.4 L1053.0,118.5 L1053.6,116.5 L1054.3,114.6 L1054.9,112.6 L1055.6,110.7 L1056.3,108.8 L1057.0,106.8 L1057.7,104.9 L1058.5,102.9 L1059.2,101.0 L1060.0,99.0 L1060.8,97.1 L1061.7,95.2 L1062.6,93.4 L1063.5,91.6 L1064.5,90.1 L1065.5,88.6 L1066.7,87.4 L1067.9,86.5 L1069.2,85.8 L1070.5,85.4 L1071.9,85.2 L1073.4,85.3 L1074.8,85.7 L1076.3,86.3 L1077.7,87.2 L1079.1,88.3 L1080.4,89.6 L1081.7,91.1 L1082.9,92.7 L1084.1,94.5 L1085.2,96.3 L1086.2,98.3 L1087.2,100.2 L1088.1,102.1 L1088.9,104.1 L1089.6,106.0 L1090.4,107.9 L1091.0,109.9 L1091.7,111.8 L1092.3,113.8 L1092.9,115.7 L1093.5,117.6 L1094.1,119.6 L1094.6,121.5 L1095.2,123.5 L1095.7,125.4 L1096.3,127.4 L1096.8,129.3 L1097.3,131.2 L1097.8,133.2 L1098.3,135.1 L1098.8,137.1 L1099.2,139.0 L1099.7,141.0 L1100.2,142.9 L1100.6,144.9 L1101.1,146.8 L1101.5,148.8 L1101.9,150.7 L1102.4,152.6 L1102.8,154.6 L1103.2,156.5 L1103.6,158.5 L1104.0,160.4 L1104.4,162.4 L1104.8,164.3 L1105.2,166.3 L1105.6,168.2 L1106.0,170.2 L1106.3,172.1 L1106.7,174.1 L1107.1,176.0 L1107.5,178.0 L1107.9,179.9 L1108.2,181.9 L1108.6,183.8 L1109.0,185.8 L1109.3,187.8 L1109.7,189.7 L1110.1,191.7 L1110.5,193.6 L1110.8,195.6 L1111.2,197.5 L1111.6,199.5 L1111.9,201.4 L1112.3,203.4 L1112.7,205.4 L1113.0,207.3 L1113.4,209.3 L1113.7,211.2 L1114.1,213.2 L1114.5,215.2 L1114.8,217.1 L1115.2,219.1 L1115.6,221.1 L1116.0,223.1 L1116.3,225.0 L1116.7,227.0 L1117.1,229.0 L1117.4,231.0 L1117.8,232.9 L1118.2,234.9 L1118.6,236.9 L1118.9,238.9 L1119.3,240.9 L1119.7,242.9 L1120.1,244.9 L1120.5,246.9 L1120.8,248.8 L1121.2,250.8 L1121.6,252.8 L1122.0,254.8 L1122.4,256.8 L1122.7,258.8 L1123.1,260.8 L1123.5,262.8 L1123.9,264.7 L1124.3,266.7 L1124.6,268.7 L1125.0,270.7 L1125.4,272.7 L1125.8,274.6 L1126.1,276.6 L1126.5,278.6 L1126.9,280.5 L1127.3,282.5 L1127.6,284.4 L1128.0,286.4 L1128.3,288.3 L1128.7,290.3 L1129.1,292.2 L1129.4,294.1 L1129.8,296.1 L1130.1,298.0 L1130.5,299.9 L1130.8,301.8 L1131.2,303.7 L1131.5,305.7 L1131.9,307.6 L1132.2,309.5 L1132.6,311.4 L1132.9,313.3 L1133.3,315.2 L1133.7,317.1 L1134.0,319.1 L1134.4,321.0 L1134.8,322.9 L1135.2,324.9 L1135.6,326.8 L1136.0,328.8 L1136.4,330.7 L1136.8,332.7 L1137.3,334.7 L1137.7,336.7 L1138.2,338.7 L1138.7,340.7 L1139.2,342.7 L1139.7,344.7 L1140.2,346.8 L1140.7,348.9 L1141.3,351.0 L1141.9,353.1 L1142.5,355.2 L1143.1,357.3 L1143.7,359.4 L1144.4,361.5 L1145.1,363.5 L1145.8,365.5 L1146.6,367.4 L1147.5,369.3 L1148.4,371.0 L1149.4,372.6 L1150.4,374.1 L1151.5,375.4 L1152.7,376.6 L1154.0,377.6 L1155.3,378.4 L1156.7,379.1 L1158.3,379.5 L1159.9,379.6 L1161.5,379.6 L1163.1,379.4 L1164.8,378.9 L1166.3,378.2 L1167.9,377.3 L1169.3,376.2 L1170.6,374.9 L1171.8,373.4 L1172.9,371.8 L1173.9,370.0 L1174.9,368.2 L1175.8,366.2 L1176.6,364.3 L1177.5,362.4 L1178.3,360.4 L1179.1,358.5 L1179.8,356.6 L1180.6,354.6 L1181.3,352.7 L1182.0,350.8 L1182.7,348.9 L1183.4,346.9 L1184.0,345.0 L1184.6,343.1 L1185.3,341.2 L1185.9,339.3 L1186.4,337.4 L1187.0,335.4 L1187.6,333.5 L1188.1,331.6 L1188.6,329.7 L1189.2,327.8 L1189.7,325.9 L1190.2,324.0 L1190.7,322.0 L1191.1,320.1 L1191.6,318.2 L1192.1,316.3 L1192.5,314.4 L1193.0,312.4 L1193.4,310.5 L1193.9,308.6 L1194.3,306.6 L1194.8,304.7 L1195.2,302.8 L1195.6,300.8 L1196.1,298.9 L1196.5,296.9 L1196.9,295.0 L1197.3,293.0 L1197.8,291.1 L1198.2,289.1 L1198.6,287.1 L1199.0,285.2 L1199.4,283.2 L1199.9,281.2 L1200.3,279.3 L1200.7,277.3 L1201.1,275.3 L1201.5,273.4 L1201.9,271.4 L1202.3,269.4 L1202.8,267.4 L1203.2,265.5 L1203.6,263.5 L1204.0,261.5 L1204.4,259.5 L1204.8,257.6 L1205.2,255.6 L1205.6,253.6 L1206.1,251.6 L1206.5,249.7 L1206.9,247.7 L1207.3,245.7 L1207.7,243.8 L1208.2,241.8 L1208.6,239.8 L1209.0,237.9 L1209.4,235.9 L1209.8,233.9 L1210.3,232.0 L1210.7,230.0 L1211.1,228.0 L1211.6,226.1 L1212.0,224.1 L1212.4,222.2 L1212.9,220.2 L1213.3,218.3 L1213.8,216.4 L1214.2,214.4 L1214.7,212.5 L1215.1,210.5 L1215.6,208.6 L1216.0,206.7 L1216.5,204.8 L1217.0,202.9 L1217.5,200.9 L1217.9,199.0 L1218.4,197.1 L1218.9,195.2 L1219.4,193.3 L1219.9,191.4 L1220.4,189.6 L1220.9,187.7 L1221.4,185.8 L1221.9,183.9 L1222.4,182.1 L1222.9,180.2 L1223.4,178.3 L1224.0,176.5 L1224.5,174.6 L1225.1,172.7 L1225.7,170.8 L1226.3,168.9 L1226.9,167.0 L1227.5,165.0 L1228.2,163.1 L1228.8,161.1 L1229.5,159.1 L1230.3,157.1 L1231.0,155.0 L1231.8,152.9 L1232.6,150.9 L1233.4,148.8 L1234.3,146.7 L1235.2,144.7 L1236.2,142.7 L1237.2,140.8 L1238.2,138.9 L1239.3,137.2 L1240.5,135.6 L1241.7,134.1 L1243.0,132.8 L1244.3,131.6 L1245.7,130.6 L1247.2,129.8 L1248.8,129.3 L1250.4,128.9 L1252.0,128.7 L1253.8,128.7 L1255.5,128.9 L1257.2,129.2 L1259.0,129.7 L1260.8,130.4 L1262.5,131.2 L1264.2,132.1 L1265.9,133.1 L1267.5,134.2 L1269.1,135.4 L1270.6,136.7 L1272.0,138.1 L1273.4,139.6 L1274.6,141.1 L1275.8,142.7 L1276.9,144.3 L1277.9,146.0 L1278.9,147.7 L1279.8,149.5 L1280.7,151.3 L1281.5,153.1 L1282.2,155.0 L1283.0,156.8 L1283.7,158.7 L1284.4,160.7 L1285.1,162.6 L1285.7,164.5 L1286.4,166.4 L1287.0,168.4 L1287.7,170.3 L1288.3,172.2 L1289.0,174.1 L1289.6,176.1 L1290.2,178.0 L1290.9,179.9 L1291.5,181.8 L1292.1,183.8 L1292.7,185.7 L1293.3,187.6 L1293.9,189.5 L1294.5,191.5 L1295.1,193.4 L1295.7,195.3 L1296.3,197.2 L1296.9,199.2 L1297.4,201.1 L1298.0,203.0 L1298.6,205.0 L1299.1,206.9 L1299.7,208.8 L1300.3,210.7 L1300.8,212.7 L1301.4,214.6 L1301.9,216.5 L1302.4,218.4 L1303.0,220.4 L1303.5,222.3 L1304.1,224.2 L1304.6,226.2 L1305.1,228.1 L1305.6,230.0 L1306.2,232.0 L1306.7,233.9 L1307.2,235.8 L1307.7,237.7 L1308.2,239.7 L1308.7,241.6 L1309.2,243.5 L1309.7,245.5 L1310.2,247.4 L1310.7,249.3 L1311.2,251.3 L1311.7,253.2 L1312.2,255.1 L1312.7,257.1 L1313.2,259.0 L1313.7,260.9 L1314.1,262.9 L1314.6,264.8 L1315.1,266.7 L1315.6,268.7 L1316.0,270.6 L1316.5,272.6 L1317.0,274.5 L1317.5,276.4 L1317.9,278.4 L1318.4,280.3 L1318.9,282.3 L1319.3,284.2 L1319.8,286.1 L1320.3,288.1 L1320.7,290.0 L1321.2,292.0 L1321.6,293.9 L1322.1,295.8 L1322.5,297.8 L1323.0,299.7 L1323.5,301.7 L1323.9,303.6 L1324.4,305.6 L1324.8,307.5 L1325.3,309.5 L1325.7,311.4 L1326.2,313.4 L1326.6,315.3 L1327.0,317.2 L1327.5,319.2 L1327.9,321.1 L1328.4,323.1 L1328.8,325.0 L1329.3,327.0 L1329.7,328.9 L1330.1,330.9 L1330.6,332.8 L1331.0,334.8 L1331.4,336.7 L1331.9,338.7 L1332.3,340.6 L1332.8,342.6 L1333.2,344.6 L1333.6,346.5 L1334.0,348.5 L1334.5,350.4 L1334.9,352.4 L1335.3,354.3 L1335.8,356.3 L1336.2,358.2 L1336.6,360.2 L1337.0,362.1 L1337.5,364.1 L1337.9,366.1 L1338.3,368.0 L1338.7,370.0 L1339.2,371.9 L1339.6,373.9 L1340.0,375.8 L1340.4,377.8 L1340.9,379.7 L1341.3,381.7 L1341.7,383.7 L1342.1,385.6 L1342.5,387.6 L1342.9,389.5 L1343.4,391.5 L1343.8,393.4 L1344.2,395.4 L1344.6,397.4 L1345.0,399.3 L1345.4,401.3 L1345.9,403.2 L1346.3,405.2 L1346.7,407.2 L1347.1,409.1 L1347.5,411.1 L1347.9,413.0 L1348.3,415.0 L1348.8,417.0 L1349.2,418.9 L1349.6,420.9 L1350.0,422.8 L1350.4,424.8 L1350.8,426.8 L1351.2,428.7 L1351.6,430.7 L1352.1,432.6 L1352.5,434.6 L1352.9,436.6 L1353.3,438.5 L1353.7,440.5 L1354.1,442.4 L1354.5,444.4 L1354.9,446.4 L1355.3,448.3 L1355.8,450.3 L1356.2,452.2 L1356.6,454.2 L1357.0,456.2 L1357.4,458.1 L1357.8,460.1 L1358.2,462.0 L1358.6,464.0 L1359.0,466.0 L1359.5,467.9 L1359.9,469.9 L1360.3,471.8 L1360.7,473.8 L1361.1,475.8 L1361.5,477.7 L1361.9,479.7 L1362.3,481.6 L1362.7,483.6 L1363.2,485.6 L1363.6,487.5 L1364.0,489.5 L1364.4,491.4 L1364.8,493.4 L1365.2,495.3 L1365.6,497.3 L1366.1,499.3 L1366.5,501.2 L1366.9,503.2 L1367.3,505.1 L1367.7,507.1 L1368.1,509.1 L1368.6,511.0 L1369.0,513.0 L1369.4,514.9 L1369.8,516.9 L1370.2,518.8 L1370.7,520.8 L1371.1,522.7 L1371.5,524.7 L1371.9,526.7 L1372.3,528.6 L1372.8,530.6 L1373.2,532.5 L1373.6,534.5 L1374.0,536.4 L1374.5,538.4 L1374.9,540.3 L1375.3,542.3 L1375.7,544.2 L1376.2,546.2 L1376.6,548.1 L1377.0,550.1 L1377.5,552.1 L1377.9,554.0 L1378.3,556.0 L1378.7,557.9 L1379.2,559.9 L1379.6,561.8 L1380.0,563.8 L1380.5,565.7 L1380.9,567.7 L1381.3,569.6 L1381.8,571.6 L1382.2,573.5 L1382.7,575.5 L1383.1,577.4 L1383.5,579.4 L1384.0,581.3 L1384.4,583.3 L1384.9,585.2 L1385.3,587.1 L1385.7,589.1 L1386.2,591.0 L1386.6,593.0 L1387.1,594.9 L1387.5,596.9 L1388.0,598.8 L1388.4,600.8 L1388.9,602.7 L1389.3,604.7 L1389.8,606.6 L1390.2,608.6 L1390.7,610.5 L1391.1,612.5 L1391.6,614.4 L1392.0,616.3 L1392.5,618.3 L1392.9,620.2 L1393.4,622.2 L1393.8,624.1 L1394.3,626.1 L1394.8,628.0 L1395.2,629.9 L1395.7,631.9 L1396.1,633.8 L1396.6,635.8 L1397.1,637.7 L1397.5,639.7 L1398.0,641.6 L1398.5,643.5 L1398.9,645.5 L1399.4,647.4 L1399.9,649.4 L1400.3,651.3 L1400.8,653.3 L1401.3,655.2 L1401.7,657.1 L1402.2,659.1 L1402.7,661.0 L1403.2,663.0 L1403.6,664.9 L1404.1,666.8 L1404.6,668.8 L1405.1,670.7 L1405.6,672.6 L1406.0,674.6 L1406.5,676.5 L1407.0,678.5 L1407.5,680.4 L1408.0,682.3 L1408.5,684.3 L1408.9,686.2 L1409.4,688.1 L1409.9,690.1 L1410.4,692.0 L1410.9,694.0 L1411.4,695.9 L1411.9,697.8 L1412.4,699.8 L1412.9,701.7 L1413.4,703.6 L1413.9,705.6 L1414.4,707.5 L1414.9,709.4 L1415.4,711.4 L1415.9,713.3 L1416.4,715.2 L1416.9,717.2 L1417.4,719.1 L1417.9,721.0 L1418.4,723.0 L1418.9,724.9 L1419.4,726.8 L1419.9,728.8 L1420.5,730.7 L1421.0,732.6 L1421.5,734.6 L1422.0,736.5 L1422.5,738.4 L1423.0,740.4 L1423.6,742.3 L1424.1,744.2 L1424.6,746.2 L1425.1,748.1 L1425.7,750.0 L1426.2,752.0 L1426.7,753.9 L1427.2,755.8 L1427.8,757.8 L1428.3,759.7 L1428.8,761.6 L1429.4,763.5 L1429.9,765.5 L1430.4,767.4 L1431.0,769.3 L1431.5,771.3 L1432.1,773.2 L1432.6,775.1 L1433.2,777.0 L1433.7,779.0 L1434.2,780.9 L1434.8,782.8 L1435.3,784.7 L1435.9,786.7 L1436.5,788.6 L1437.0,790.5 L1437.6,792.4 L1438.1,794.4 L1438.7,796.3 L1439.3,798.2 L1439.8,800.1 L1440.4,802.1 L1441.0,804.0 L1441.6,805.9 L1442.1,807.8 L1442.7,809.7 L1443.3,811.6 L1443.9,813.6 L1444.5,815.5 L1445.1,817.4 L1445.7,819.3 L1446.3,821.2 L1446.9,823.1 L1447.5,825.0 L1448.1,826.9 L1448.7,828.8 L1449.3,830.8 L1449.9,832.7 L1450.5,834.6 L1451.1,836.5 L1451.8,838.4 L1452.4,840.3 L1453.0,842.2 L1453.7,844.1 L1454.3,846.0 L1454.9,847.9 L1455.6,849.8 L1456.2,851.6 L1456.9,853.5 L1457.5,855.4 L1458.2,857.3 L1458.9,859.2 L1459.5,861.1 L1460.2,863.0 L1460.9,864.9 L1461.5,866.7 L1462.2,868.6 L1462.9,870.5 L1463.6,872.4 L1464.3,874.2 L1465.0,876.1 L1465.7,878.0 L1466.4,879.9 L1467.1,881.7 L1467.8,883.6 L1468.5,885.5 L1469.3,887.3 L1470.0,889.2 L1470.7,891.0 L1471.5,892.9 L1472.2,894.7 L1472.9,896.6 L1473.7,898.5 L1474.4,900.3 L1475.2,902.2 L1475.9,904.0 L1476.7,905.9 L1477.4,907.7 L1478.2,909.6 L1479.0,911.4 L1479.7,913.2 L1480.5,915.1 L1481.3,916.9 L1482.1,918.8 L1482.8,920.6 L1483.6,922.4 L1484.4,924.3 L1485.2,926.1 L1486.0,928.0 L1486.7,929.8 L1487.5,931.6 L1488.3,933.5 L1489.1,935.3 L1489.9,937.1 L1490.7,939.0 L1491.5,940.8 L1492.3,942.6 L1493.1,944.5 L1493.9,946.3 L1494.7,948.1 L1495.5,950.0 L1496.3,951.8 L1497.1,953.6 L1497.9,955.5 L1498.7,957.3 L1499.5,959.1 L1500.3,960.9 L1501.1,962.8 L1501.9,964.6 L1502.7,966.4 L1503.5,968.3 L1504.3,970.1 L1505.1,971.9 L1505.9,973.8 L1506.7,975.6 L1507.5,977.4 L1508.3,979.2 L1509.1,981.1 L1509.9,982.9 L1510.7,984.7 L1511.5,986.6 L1512.3,988.4 L1513.1,990.2 L1513.9,992.1 L1514.7,993.9 L1515.5,995.7 L1516.2,997.6 L1517.0,999.4 L1517.8,1001.3 L1518.6,1003.1 L1519.4,1004.9 L1520.1,1006.8 L1520.9,1008.6 L1521.7,1010.5 L1522.4,1012.3 L1523.2,1014.2 L1523.9,1016.0 L1524.7,1017.9 L1525.4,1019.7 L1526.1,1021.6 L1526.9,1023.4 L1527.6,1025.3 L1528.3,1027.2 L1529.0,1029.0 L1529.7,1030.9 L1530.4,1032.8 L1531.1,1034.6 L1531.8,1036.5 L1532.5,1038.4 L1533.1,1040.3 L1533.8,1042.2 L1534.5,1044.1 L1535.1,1046.0 L1535.7,1047.8 L1536.4,1049.7 L1537.0,1051.6 L1537.6,1053.6 L1538.2,1055.5 L1538.8,1057.4 L1539.4,1059.3 L1539.9,1061.2 L1540.5,1063.1 L1541.1,1065.0 L1541.6,1067.0 L1542.2,1068.9 L1542.7,1070.8 L1543.3,1072.7 L1543.8,1074.7 L1544.3,1076.6 L1544.9,1078.5 L1545.4,1080.5 L1545.9,1082.4 L1546.4,1084.4 L1546.9,1086.3 L1547.4,1088.2 L1547.9,1090.2 L1548.4,1092.1 L1548.9,1094.1 L1549.4,1096.0 L1549.9,1098.0 L1550.4,1099.9 L1550.9,1101.8 L1551.4,1103.8 L1551.8,1105.7 L1552.3,1107.7 L1552.8,1109.6 L1553.3,1111.6 L1553.8,1113.5 L1554.3,1115.5 L1554.8,1117.4 L1555.2,1119.3 L1555.7,1121.3 L1556.2,1123.2 L1556.7,1125.2 L1557.1,1127.1 L1557.6,1129.0 L1558.1,1131.0 L1558.6,1132.9 L1559.1,1134.9 L1559.5,1136.8 L1560.0,1138.7 L1560.5,1140.7 L1560.9,1142.6 L1561.4,1144.6 L1561.9,1146.5 L1562.3,1148.5 L1562.8,1150.4 L1563.3,1152.3 L1563.7,1154.3 L1564.2,1156.2 L1564.7,1158.2 L1565.1,1160.1 L1565.6,1162.0 L1566.0,1164.0 L1566.5,1165.9 L1566.9,1167.9 L1567.4,1169.8 L1567.8,1171.8 L1568.3,1173.7 L1568.7,1175.6 L1569.2,1177.6 L1569.6,1179.5 L1570.1,1181.5 L1570.5,1183.4 L1571.0,1185.4 L1571.4,1187.3 L1571.8,1189.3 L1572.3,1191.2 L1572.7,1193.1 L1573.2,1195.1 L1573.6,1197.0 L1574.0,1199.0 L1574.4,1200.9 L1574.9,1202.9 L1575.3,1204.8 L1575.7,1206.8 L1576.1,1208.7 L1576.6,1210.7 L1577.0,1212.6 L1577.4,1214.6 L1577.8,1216.5 L1578.2,1218.5 L1578.6,1220.5 L1579.0,1222.4 L1579.4,1224.4 L1579.8,1226.3 L1580.2,1228.3 L1580.6,1230.2 L1581.0,1232.2 L1581.4,1234.2 L1581.8,1236.1 L1582.2,1238.1 L1582.6,1240.0 L1583.0,1242.0 L1583.4,1244.0 L1583.8,1245.9 L1584.2,1247.9 L1584.5,1249.9 L1584.9,1251.8 L1585.3,1253.8 L1585.7,1255.8 L1586.1,1257.7 L1586.4,1259.7 L1586.8,1261.7 L1587.2,1263.6 L1587.6,1265.6 L1587.9,1267.6 L1588.3,1269.5 L1588.7,1271.5 L1589.1,1273.5 L1589.4,1275.4 L1589.8,1277.4 L1590.2,1279.4 L1590.5,1281.4 L1590.9,1283.3 L1591.3,1285.3 L1591.6,1287.3 L1592.0,1289.2 L1592.4,1291.2 L1592.7,1293.2 L1593.1,1295.1 L1593.5,1297.1 L1593.8,1299.1 L1594.2,1301.1 L1594.6,1303.0 L1594.9,1305.0 L1595.3,1307.0 L1595.6,1309.0 L1596.0,1310.9 L1596.4,1312.9 L1596.7,1314.9 L1597.1,1316.8 L1597.5,1318.8 L1597.8,1320.8 L1598.2,1322.8 L1598.6,1324.7 L1598.9,1326.7 L1599.3,1328.7 L1599.7,1330.6 L1600.0,1332.6 L1600.4,1334.6 L1600.8,1336.6 L1601.2,1338.5 L1601.5,1340.5 L1601.9,1342.5 L1602.3,1344.4 L1602.7,1346.4 L1603.0,1348.4 L1603.4,1350.3 L1603.8,1352.3 L1604.2,1354.3 L1604.6,1356.2 L1605.0,1358.2 L1605.3,1360.2 L1605.7,1362.1 L1606.1,1364.1 L1606.5,1366.1 L1606.9,1368.0 L1607.3,1370.0 L1607.7,1371.9 L1608.1,1373.9 L1608.5,1375.9 L1608.9,1377.8 L1609.3,1379.8 L1609.7,1381.8 L1610.1,1383.7 L1610.5,1385.7 L1610.9,1387.6 L1611.3,1389.6 L1611.7,1391.5 L1612.2,1393.5 L1612.6,1395.4 L1613.0,1397.4 L1613.4,1399.4 L1613.9,1401.3 L1614.3,1403.3 L1614.7,1405.2 L1615.2,1407.2 L1615.6,1409.1 L1616.0,1411.1 L1616.5,1413.0 L1616.9,1414.9 L1617.4,1416.9 L1617.8,1418.8 L1618.3,1420.8 L1618.7,1422.7 L1619.2,1424.7 L1619.7,1426.6 L1620.1,1428.5 L1620.6,1430.5 L1621.1,1432.4 L1621.6,1434.3 L1622.0,1436.3 L1622.5,1438.2 L1623.0,1440.1 L1623.5,1442.1 L1624.0,1444.0 L1624.5,1445.9 L1625.0,1447.9 L1625.5,1449.8 L1626.0,1451.7 L1626.5,1453.6 L1627.1,1455.5 L1627.6,1457.5 L1628.1,1459.4 L1628.6,1461.3 L1629.2,1463.2 L1629.7,1465.1 L1630.3,1467.0 L1630.8,1469.0 L1631.4,1470.9 L1631.9,1472.8 L1632.5,1474.7 L1633.1,1476.6 L1633.6,1478.5 L1634.2,1480.4 L1634.8,1482.3 L1635.4,1484.2 L1636.0,1486.1 L1636.6,1488.0 L1637.2,1489.9 L1637.9,1491.8 L1638.5,1493.7 L1639.1,1495.6 L1639.8,1497.5 L1640.4,1499.4 L1641.1,1501.2 L1641.8,1503.1 L1642.5,1505.0 L1643.2,1506.9 L1643.9,1508.8 L1644.6,1510.7 L1645.3,1512.5 L1646.1,1514.4 L1646.8,1516.3 L1647.6,1518.2 L1648.4,1520.1 L1649.1,1521.9 L1649.9,1523.8 L1650.8,1525.7 L1651.6,1527.5 L1652.4,1529.4 L1653.3,1531.2 L1654.2,1533.1 L1655.0,1534.9 L1655.9,1536.8 L1656.9,1538.6 L1657.8,1540.4 L1658.8,1542.2 L1659.8,1543.9 L1660.8,1545.7 L1661.8,1547.4 L1662.8,1549.1 L1663.9,1550.8 L1665.0,1552.5 L1666.1,1554.1 L1667.3,1555.8 L1668.4,1557.4 L1669.7,1558.9 L1670.9,1560.5 L1672.1,1562.0 L1673.4,1563.5 L1674.7,1564.9 L1676.1,1566.3 L1677.5,1567.7 L1678.9,1569.0 L1680.3,1570.3 L1681.8,1571.6 L1683.3,1572.8 L1684.9,1574.0 L1686.5,1575.1 L1688.1,1576.2 L1689.7,1577.3 L1691.4,1578.3 L1693.1,1579.2 L1694.8,1580.1 L1696.6,1580.9 L1698.4,1581.6 L1700.2,1582.3 L1702.0,1582.9 L1703.9,1583.5 L1705.8,1584.0 L1707.7,1584.4 L1709.6,1584.7 L1711.6,1585.0 L1713.6,1585.2 L1715.6,1585.3 L1717.6,1585.4 L1719.6,1585.4 L1721.6,1585.3 L1723.7,1585.3 L1725.7,1585.2 L1727.8,1585.1 L1729.8,1584.9 L1731.9,1584.8 L1734.0,1584.7 L1736.0,1584.5 L1738.1,1584.4 L1740.1,1584.3 L1742.1,1584.2 L1744.2,1584.1 L1746.2,1584.1 L1748.2,1584.1 L1750.2,1584.1 L1752.2,1584.1 L1754.2,1584.1 L1756.1,1584.1 L1758.1,1584.2 L1760.1,1584.2 L1762.1,1584.3 L1764.0,1584.3 L1766.0,1584.4 L1768.0,1584.5 L1770.0,1584.5 L1771.9,1584.6 L1773.9,1584.6 L1775.9,1584.7 L1777.9,1584.7 L1779.9,1584.8 L1781.9,1584.8 L1783.9,1584.8 L1785.9,1584.8 L1787.9,1584.7 L1789.9,1584.7 L1792.0,1584.6 L1794.0,1584.5 L1796.1,1584.4 L1798.1,1584.2 L1800.2,1584.1" stroke="#FF0000"/>
<path d="M599.9,1584.3 L602.0,1584.4 L604.0,1584.4 L606.0,1584.5 L608.0,1584.5 L610.0,1584.5 L612.0,1584.6 L614.0,1584.6 L616.0,1584.6 L618.0,1584.6 L620.0,1584.6 L622.0,1584.6 L624.0,1584.6 L626.0,1584.6 L628.0,1584.6 L630.0,1584.6 L632.0,1584.6 L634.0,1584.6 L636.0,1584.6 L638.0,1584.5 L640.0,1584.5 L642.0,1584.5 L644.0,1584.5 L646.0,1584.5 L648.0,1584.5 L650.0,1584.4 L652.0,1584.4 L654.0,1584.4 L656.0,1584.4 L658.0,1584.4 L660.0,1584.4 L662.0,1584.4 L664.0,1584.3 L666.0,1584.3 L668.0,1584.3 L670.0,1584.3 L672.0,1584.3 L674.0,1584.3 L676.0,1584.4 L678.0,1584.4 L680.0,1584.4 L682.0,1584.4 L684.0,1584.4 L686.0,1584.4 L688.0,1584.4 L690.0,1584.5 L692.0,1584.5 L694.0,1584.5 L696.0,1584.5 L698.0,1584.6 L700.0,1584.6 L702.1,1584.6 L704.1,1584.6 L706.1,1584.7 L708.1,1584.7 L710.1,1584.7 L712.1,1584.7 L714.1,1584.8 L716.1,1584.8 L718.2,1584.8 L720.2,1584.8 L722.2,1584.9 L724.2,1584.9 L726.2,1584.9 L728.2,1584.9 L730.3,1584.9 L732.3,1584.9 L734.3,1584.9 L736.3,1585.0 L738.3,1585.0 L740.3,1584.9 L742.3,1584.9 L744.3,1584.8 L746.2,1584.6 L748.1,1584.4 L749.9,1584.0 L751.7,1583.6 L753.3,1583.0 L754.9,1582.2 L756.5,1581.4 L757.9,1580.4 L759.3,1579.3 L760.6,1578.1 L761.8,1576.8 L763.0,1575.4 L764.1,1573.9 L765.2,1572.4 L766.2,1570.8 L767.2,1569.2 L768.1,1567.5 L769.0,1565.7 L769.9,1564.0 L770.7,1562.2 L771.5,1560.3 L772.2,1558.4 L772.9,1556.5 L773.6,1554.6 L774.3,1552.6 L774.9,1550.7 L775.5,1548.7 L776.2,1546.7 L776.8,1544.7 L777.4,1542.7 L777.9,1540.8 L778.5,1538.8 L779.1,1536.8 L779.7,1534.8 L780.2,1532.9 L780.8,1530.9 L781.3,1528.9 L781.9,1527.0 L782.4,1525.0 L783.0,1523.1 L783.5,1521.1 L784.0,1519.1 L784.5,1517.2 L785.1,1515.3 L785.6,1513.3 L786.1,1511.4 L786.6,1509.4 L787.1,1507.5 L787.6,1505.6 L788.1,1503.6 L788.6,1501.7 L789.1,1499.7 L789.5,1497.8 L790.0,1495.9 L790.5,1493.9 L791.0,1492.0 L791.5,1490.1 L791.9,1488.2 L792.4,1486.2 L792.9,1484.3 L793.3,1482.4 L793.8,1480.4 L794.3,1478.5 L794.7,1476.6 L795.2,1474.6 L795.6,1472.7 L796.1,1470.8 L796.6,1468.8 L797.0,1466.9 L797.5,1465.0 L797.9,1463.0 L798.4,1461.1 L798.8,1459.1 L799.3,1457.2 L799.7,1455.3 L800.2,1453.3 L800.6,1451.4 L801.1,1449.4 L801.5,1447.5 L802.0,1445.6 L802.4,1443.6 L802.9,1441.7 L803.3,1439.7 L803.8,1437.8 L804.2,1435.8 L804.6,1433.9 L805.1,1431.9 L805.5,1430.0 L805.9,1428.1 L806.4,1426.1 L806.8,1424.2 L807.2,1422.2 L807.7,1420.3 L808.1,1418.3 L808.5,1416.4 L809.0,1414.4 L809.4,1412.5 L809.8,1410.5 L810.3,1408.6 L810.7,1406.6 L811.1,1404.6 L811.5,1402.7 L811.9,1400.7 L812.4,1398.8 L812.8,1396.8 L813.2,1394.9 L813.6,1392.9 L814.0,1391.0 L814.5,1389.0 L814.9,1387.1 L815.3,1385.1 L815.7,1383.1 L816.1,1381.2 L816.5,1379.2 L817.0,1377.3 L817.4,1375.3 L817.8,1373.4 L818.2,1371.4 L818.6,1369.4 L819.0,1367.5 L819.4,1365.5 L819.8,1363.6 L820.2,1361.6 L820.6,1359.6 L821.0,1357.7 L821.4,1355.7 L821.8,1353.8 L822.2,1351.8 L822.6,1349.8 L823.0,1347.9 L823.5,1345.9 L823.8,1343.9 L824.2,1342.0 L824.6,1340.0 L825.0,1338.1 L825.4,1336.1 L825.8,1334.1 L826.2,1332.2 L826.6,1330.2 L827.0,1328.2 L827.4,1326.3 L827.8,1324.3 L828.2,1322.3 L828.6,1320.4 L829.0,1318.4 L829.4,1316.4 L829.8,1314.5 L830.2,1312.5 L830.5,1310.5 L830.9,1308.6 L831.3,1306.6 L831.7,1304.7 L832.1,1302.7 L832.5,1300.7 L832.9,1298.8 L833.2,1296.8 L833.6,1294.8 L834.0,1292.9 L834.4,1290.9 L834.8,1288.9 L835.2,1287.0 L835.5,1285.0 L835.9,1283.0 L836.3,1281.1 L836.7,1279.1 L837.1,1277.1 L837.4,1275.2 L837.8,1273.2 L838.2,1271.2 L838.6,1269.3 L838.9,1267.3 L839.3,1265.3 L839.7,1263.4 L840.1,1261.4 L840.4,1259.4 L840.8,1257.5 L841.2,1255.5 L841.6,1253.5 L841.9,1251.6 L842.3,1249.6 L842.7,1247.6 L843.1,1245.7 L843.4,1243.7 L843.8,1241.7 L844.2,1239.8 L844.5,1237.8 L844.9,1235.8 L845.3,1233.9 L845.7,1231.9 L846.0,1229.9 L846.4,1228.0 L846.8,1226.0 L847.1,1224.0 L847.5,1222.1 L847.9,1220.1 L848.2,1218.1 L848.6,1216.2 L849.0,1214.2 L849.3,1212.3 L849.7,1210.3 L850.1,1208.3 L850.4,1206.4 L850.8,1204.4 L851.2,1202.4 L851.5,1200.5 L851.9,1198.5 L852.3,1196.5 L852.6,1194.6 L853.0,1192.6 L853.4,1190.7 L853.7,1188.7 L854.1,1186.7 L854.5,1184.8 L854.8,1182.8 L855.2,1180.9 L855.6,1178.9 L856.0,1176.9 L856.3,1175.0 L856.7,1173.0 L857.1,1171.1 L857.5,1169.1 L857.8,1167.1 L858.2,1165.2 L858.6,1163.2 L859.0,1161.3 L859.4,1159.3 L859.8,1157.3 L860.1,1155.4 L860.5,1153.4 L860.9,1151.5 L861.3,1149.5 L861.7,1147.6 L862.1,1145.6 L862.5,1143.6 L862.9,1141.7 L863.3,1139.7 L863.7,1137.8 L864.1,1135.8 L864.5,1133.9 L864.9,1131.9 L865.4,1129.9 L865.8,1128.0 L866.2,1126.0 L866.6,1124.1 L867.0,1122.1 L867.5,1120.2 L867.9,1118.2 L868.3,1116.3 L868.8,1114.3 L869.2,1112.3 L869.6,1110.4 L870.1,1108.4 L870.5,1106.5 L871.0,1104.5 L871.4,1102.6 L871.9,1100.6 L872.3,1098.7 L872.8,1096.7 L873.3,1094.8 L873.7,1092.8 L874.2,1090.9 L874.7,1088.9 L875.2,1087.0 L875.7,1085.0 L876.1,1083.1 L876.6,1081.1 L877.1,1079.2 L877.6,1077.2 L878.1,1075.3 L878.6,1073.3 L879.2,1071.4 L879.7,1069.4 L880.2,1067.5 L880.7,1065.5 L881.2,1063.6 L881.7,1061.6 L882.3,1059.7 L882.8,1057.7 L883.3,1055.8 L883.8,1053.9 L884.3,1051.9 L884.9,1050.0 L885.4,1048.0 L885.9,1046.1 L886.4,1044.2 L887.0,1042.2 L887.5,1040.3 L888.0,1038.4 L888.5,1036.4 L889.0,1034.5 L889.5,1032.6 L890.1,1030.7 L890.6,1028.7 L891.1,1026.8 L891.6,1024.9 L892.1,1023.0 L892.6,1021.1 L893.1,1019.2 L893.6,1017.3 L894.0,1015.3 L894.5,1013.4 L895.0,1011.5 L895.5,1009.6 L896.0,1007.7 L896.4,1005.8 L896.9,1003.9 L897.4,1002.0 L897.8,1000.1 L898.3,998.2 L898.8,996.3 L899.3,994.5 L899.7,992.6 L900.2,990.7 L900.7,988.8 L901.2,986.9 L901.7,985.0 L902.2,983.1 L902.7,981.1 L903.2,979.2 L903.8,977.3 L904.3,975.4 L904.8,973.5 L905.4,971.6 L905.9,969.7 L906.5,967.7 L907.1,965.8 L907.7,963.9 L908.3,962.0 L908.9,960.0 L909.5,958.1 L910.2,956.1 L910.9,954.2 L911.5,952.2 L912.2,950.3 L912.9,948.3 L913.7,946.3 L914.4,944.4 L915.2,942.4 L915.9,940.5 L916.7,938.6 L917.6,936.6 L918.4,934.7 L919.3,932.8 L920.2,931.0 L921.1,929.1 L922.1,927.3 L923.0,925.5 L924.0,923.7 L925.1,922.0 L926.1,920.3 L927.2,918.6 L928.4,917.0 L929.5,915.4 L930.7,913.8 L931.9,912.3 L933.2,910.8 L934.5,909.4 L935.8,908.0 L937.2,906.7 L938.6,905.4 L940.0,904.2 L941.5,903.1 L943.0,902.0 L944.6,900.9 L946.2,900.0 L947.8,899.1 L949.5,898.2 L951.3,897.5 L953.1,896.8 L954.9,896.1 L956.7,895.5 L958.6,895.0 L960.5,894.5 L962.4,894.1 L964.4,893.7 L966.3,893.4 L968.3,893.1 L970.3,892.9 L972.3,892.7 L974.3,892.5 L976.4,892.3 L978.4,892.2 L980.4,892.1 L982.5,892.1 L984.5,892.0 L986.5,892.0 L988.5,892.0 L990.5,891.9 L992.5,891.9 L994.5,891.9 L996.5,891.9 L998.5,891.8 L1000.5,891.7 L1002.5,891.6 L1004.5,891.5 L1006.4,891.3 L1008.4,891.1 L1010.3,890.9 L1012.2,890.6 L1014.2,890.2 L1016.1,889.8 L1018.0,889.4 L1019.8,888.9 L1021.7,888.3 L1023.6,887.7 L1025.4,887.1 L1027.3,886.4 L1029.1,885.7 L1031.0,885.0 L1032.8,884.2 L1034.6,883.4 L1036.4,882.6 L1038.3,881.7 L1040.1,880.8 L1041.9,879.9 L1043.7,879.0 L1045.5,878.1 L1047.3,877.2 L1049.1,876.2 L1050.9,875.3 L1052.7,874.3 L1054.5,873.4 L1056.3,872.4 L1058.1,871.4 L1059.9,870.5 L1061.7,869.6 L1063.5,868.6 L1065.3,867.7 L1067.1,866.8 L1068.9,865.9 L1070.7,865.0 L1072.5,864.2 L1074.4,863.4 L1076.2,862.6 L1078.0,861.8 L1079.9,861.1 L1081.7,860.4 L1083.6,859.7 L1085.5,859.0 L1087.3,858.4 L1089.2,857.7 L1091.1,857.2 L1093.0,856.6 L1094.9,856.1 L1096.8,855.5 L1098.7,855.1 L1100.6,854.6 L1102.5,854.1 L1104.4,853.7 L1106.4,853.3 L1108.3,853.0 L1110.3,852.6 L1112.2,852.3 L1114.2,852.0 L1116.1,851.7 L1118.1,851.4 L1120.1,851.2 L1122.0,851.0 L1124.0,850.8 L1126.0,850.6 L1128.0,850.5 L1130.0,850.3 L1132.0,850.2 L1134.0,850.1 L1136.0,850.1 L1138.1,850.0 L1140.1,850.0 L1142.1,850.0 L1144.2,850.0 L1146.2,850.0 L1148.3,850.1 L1150.3,850.2 L1152.3,850.3 L1154.4,850.4 L1156.4,850.6 L1158.5,850.7 L1160.5,850.9 L1162.5,851.2 L1164.6,851.4 L1166.6,851.7 L1168.6,852.0 L1170.6,852.4 L1172.6,852.7 L1174.6,853.2 L1176.5,853.6 L1178.5,854.1 L1180.4,854.6 L1182.4,855.1 L1184.3,855.7 L1186.2,856.3 L1188.1,856.9 L1189.9,857.6 L1191.8,858.3 L1193.6,859.0 L1195.4,859.8 L1197.2,860.6 L1199.0,861.5 L1200.7,862.4 L1202.4,863.3 L1204.1,864.3 L1205.8,865.3 L1207.4,866.3 L1209.1,867.4 L1210.6,868.6 L1212.2,869.7 L1213.8,870.9 L1215.3,872.2 L1216.8,873.4 L1218.2,874.7 L1219.7,876.1 L1221.1,877.4 L1222.6,878.8 L1224.0,880.2 L1225.3,881.6 L1226.7,883.1 L1228.0,884.6 L1229.4,886.1 L1230.7,887.6 L1232.0,889.1 L1233.3,890.7 L1234.5,892.2 L1235.8,893.8 L1237.0,895.4 L1238.3,897.0 L1239.5,898.7 L1240.7,900.3 L1241.9,901.9 L1243.1,903.6 L1244.3,905.2 L1245.4,906.9 L1246.6,908.5 L1247.7,910.2 L1248.9,911.8 L1250.0,913.5 L1251.2,915.1 L1252.3,916.8 L1253.4,918.5 L1254.5,920.1 L1255.7,921.8 L1256.8,923.4 L1257.9,925.0 L1259.0,926.7 L1260.1,928.3 L1261.2,930.0 L1262.3,931.6 L1263.4,933.2 L1264.6,934.9 L1265.7,936.5 L1266.8,938.2 L1267.9,939.8 L1269.0,941.4 L1270.1,943.0 L1271.3,944.7 L1272.4,946.3 L1273.5,947.9 L1274.7,949.6 L1275.8,951.2 L1277.0,952.8 L1278.1,954.4 L1279.3,956.1 L1280.5,957.7 L1281.7,959.3 L1282.9,960.9 L1284.1,962.5 L1285.3,964.2 L1286.5,965.8 L1287.7,967.4 L1289.0,969.0 L1290.2,970.6 L1291.5,972.3 L1292.8,973.9 L1294.1,975.4 L1295.4,977.0 L1296.8,978.5 L1298.2,980.0 L1299.6,981.4 L1301.0,982.8 L1302.5,984.1 L1304.0,985.4 L1305.6,986.6 L1307.2,987.7 L1308.8,988.7 L1310.5,989.6 L1312.2,990.5 L1313.9,991.2 L1315.8,991.8 L1317.6,992.3 L1319.5,992.8 L1321.5,993.1 L1323.4,993.4 L1325.4,993.6 L1327.5,993.7 L1329.5,993.9 L1331.6,993.9 L1333.7,994.0 L1335.7,994.0 L1337.8,994.0 L1339.9,994.0 L1342.0,994.1 L1344.0,994.1 L1346.1,994.2 L1348.1,994.3 L1350.1,994.5 L1352.1,994.8 L1354.0,995.1 L1355.9,995.5 L1357.7,995.9 L1359.5,996.5 L1361.2,997.2 L1362.8,998.0 L1364.3,999.0 L1365.8,1000.0 L1367.1,1001.2 L1368.5,1002.5 L1369.7,1003.8 L1370.9,1005.2 L1372.0,1006.7 L1373.1,1008.3 L1374.2,1009.9 L1375.1,1011.5 L1376.1,1013.2 L1377.0,1014.9 L1377.9,1016.7 L1378.8,1018.5 L1379.6,1020.3 L1380.4,1022.1 L1381.2,1024.0 L1381.9,1025.8 L1382.6,1027.7 L1383.3,1029.6 L1384.0,1031.6 L1384.7,1033.5 L1385.4,1035.4 L1386.0,1037.4 L1386.7,1039.3 L1387.3,1041.2 L1388.0,1043.2 L1388.6,1045.1 L1389.3,1047.0 L1389.9,1049.0 L1390.5,1050.9 L1391.2,1052.8 L1391.8,1054.7 L1392.4,1056.7 L1393.0,1058.6 L1393.6,1060.5 L1394.3,1062.4 L1394.9,1064.3 L1395.5,1066.3 L1396.1,1068.2 L1396.7,1070.1 L1397.2,1072.0 L1397.8,1073.9 L1398.4,1075.8 L1399.0,1077.8 L1399.6,1079.7 L1400.1,1081.6 L1400.7,1083.5 L1401.3,1085.4 L1401.8,1087.3 L1402.4,1089.2 L1402.9,1091.2 L1403.4,1093.1 L1404.0,1095.0 L1404.5,1096.9 L1405.0,1098.8 L1405.6,1100.8 L1406.1,1102.7 L1406.6,1104.6 L1407.1,1106.5 L1407.6,1108.4 L1408.1,1110.4 L1408.6,1112.3 L1409.1,1114.2 L1409.6,1116.2 L1410.1,1118.1 L1410.6,1120.0 L1411.0,1122.0 L1411.5,1123.9 L1412.0,1125.8 L1412.4,1127.8 L1412.9,1129.7 L1413.4,1131.7 L1413.8,1133.6 L1414.3,1135.5 L1414.7,1137.5 L1415.2,1139.4 L1415.6,1141.4 L1416.0,1143.3 L1416.5,1145.3 L1416.9,1147.2 L1417.3,1149.2 L1417.7,1151.1 L1418.1,1153.1 L1418.5,1155.0 L1419.0,1157.0 L1419.4,1159.0 L1419.8,1160.9 L1420.2,1162.9 L1420.6,1164.8 L1421.0,1166.8 L1421.4,1168.7 L1421.7,1170.7 L1422.1,1172.7 L1422.5,1174.6 L1422.9,1176.6 L1423.3,1178.5 L1423.6,1180.5 L1424.0,1182.5 L1424.4,1184.4 L1424.8,1186.4 L1425.1,1188.4 L1425.5,1190.3 L1425.8,1192.3 L1426.2,1194.3 L1426.6,1196.2 L1426.9,1198.2 L1427.3,1200.2 L1427.6,1202.2 L1428.0,1204.1 L1428.3,1206.1 L1428.6,1208.1 L1429.0,1210.0 L1429.3,1212.0 L1429.7,1214.0 L1430.0,1216.0 L1430.3,1217.9 L1430.7,1219.9 L1431.0,1221.9 L1431.3,1223.9 L1431.7,1225.8 L1432.0,1227.8 L1432.3,1229.8 L1432.6,1231.8 L1433.0,1233.7 L1433.3,1235.7 L1433.6,1237.7 L1433.9,1239.7 L1434.2,1241.6 L1434.6,1243.6 L1434.9,1245.6 L1435.2,1247.6 L1435.5,1249.6 L1435.8,1251.5 L1436.1,1253.5 L1436.4,1255.5 L1436.8,1257.5 L1437.1,1259.4 L1437.4,1261.4 L1437.7,1263.4 L1438.0,1265.4 L1438.3,1267.4 L1438.6,1269.3 L1438.9,1271.3 L1439.2,1273.3 L1439.5,1275.3 L1439.8,1277.2 L1440.2,1279.2 L1440.5,1281.2 L1440.8,1283.2 L1441.1,1285.2 L1441.4,1287.1 L1441.7,1289.1 L1442.0,1291.1 L1442.3,1293.1 L1442.6,1295.1 L1442.9,1297.0 L1443.2,1299.0 L1443.5,1301.0 L1443.8,1303.0 L1444.2,1304.9 L1444.5,1306.9 L1444.8,1308.9 L1445.1,1310.9 L1445.4,1312.8 L1445.7,1314.8 L1446.0,1316.8 L1446.3,1318.8 L1446.6,1320.8 L1447.0,1322.7 L1447.3,1324.7 L1447.6,1326.7 L1447.9,1328.7 L1448.2,1330.6 L1448.5,1332.6 L1448.9,1334.6 L1449.2,1336.6 L1449.5,1338.5 L1449.8,1340.5 L1450.2,1342.5 L1450.5,1344.4 L1450.8,1346.4 L1451.1,1348.4 L1451.5,1350.4 L1451.8,1352.3 L1452.1,1354.3 L1452.5,1356.3 L1452.8,1358.2 L1453.2,1360.2 L1453.5,1362.2 L1453.8,1364.2 L1454.2,1366.1 L1454.5,1368.1 L1454.9,1370.1 L1455.2,1372.0 L1455.6,1374.0 L1455.9,1376.0 L1456.3,1377.9 L1456.6,1379.9 L1457.0,1381.9 L1457.4,1383.8 L1457.7,1385.8 L1458.1,1387.8 L1458.5,1389.7 L1458.8,1391.7 L1459.2,1393.6 L1459.6,1395.6 L1460.0,1397.6 L1460.4,1399.5 L1460.7,1401.5 L1461.1,1403.4 L1461.5,1405.4 L1461.9,1407.4 L1462.3,1409.3 L1462.7,1411.3 L1463.1,1413.2 L1463.5,1415.2 L1463.9,1417.1 L1464.3,1419.1 L1464.7,1421.1 L1465.2,1423.0 L1465.6,1425.0 L1466.0,1426.9 L1466.4,1428.9 L1466.8,1430.8 L1467.3,1432.8 L1467.7,1434.7 L1468.2,1436.7 L1468.6,1438.6 L1469.0,1440.6 L1469.5,1442.5 L1470.0,1444.5 L1470.4,1446.4 L1470.9,1448.3 L1471.3,1450.3 L1471.8,1452.2 L1472.3,1454.2 L1472.8,1456.1 L1473.2,1458.0 L1473.7,1460.0 L1474.2,1461.9 L1474.7,1463.9 L1475.2,1465.8 L1475.7,1467.7 L1476.2,1469.7 L1476.7,1471.6 L1477.2,1473.5 L1477.7,1475.5 L1478.3,1477.4 L1478.8,1479.3 L1479.3,1481.3 L1479.9,1483.2 L1480.4,1485.1 L1481.0,1487.0 L1481.5,1489.0 L1482.1,1490.9 L1482.6,1492.8 L1483.2,1494.7 L1483.7,1496.7 L1484.3,1498.6 L1484.9,1500.5 L1485.5,1502.4 L1486.1,1504.3 L1486.7,1506.2 L1487.3,1508.1 L1487.9,1510.1 L1488.5,1512.0 L1489.2,1513.9 L1489.8,1515.8 L1490.5,1517.6 L1491.2,1519.5 L1491.8,1521.4 L1492.5,1523.3 L1493.3,1525.2 L1494.0,1527.0 L1494.7,1528.9 L1495.5,1530.7 L1496.3,1532.6 L1497.1,1534.4 L1497.9,1536.2 L1498.7,1538.1 L1499.5,1539.9 L1500.4,1541.7 L1501.3,1543.5 L1502.2,1545.3 L1503.2,1547.0 L1504.1,1548.8 L1505.1,1550.5 L1506.1,1552.3 L1507.1,1554.0 L1508.2,1555.7 L1509.3,1557.4 L1510.4,1559.1 L1511.5,1560.8 L1512.7,1562.5 L1513.9,1564.1 L1515.1,1565.7 L1516.4,1567.3 L1517.7,1568.9 L1519.0,1570.3 L1520.3,1571.8 L1521.7,1573.2 L1523.2,1574.5 L1524.6,1575.8 L1526.2,1577.0 L1527.7,1578.1 L1529.3,1579.1 L1530.9,1580.1 L1532.6,1581.0 L1534.3,1581.7 L1536.1,1582.4 L1537.9,1583.0 L1539.8,1583.4 L1541.7,1583.8 L1543.6,1584.2 L1545.5,1584.4 L1547.5,1584.6 L1549.5,1584.8 L1551.5,1584.9 L1553.5,1584.9 L1555.6,1584.9 L1557.6,1584.9 L1559.7,1584.9 L1561.8,1584.8 L1563.8,1584.8 L1565.9,1584.7 L1567.9,1584.7 L1570.0,1584.6 L1572.0,1584.6 L1574.1,1584.6 L1576.1,1584.5 L1578.1,1584.5 L1580.1,1584.5 L1582.2,1584.4 L1584.2,1584.4 L1586.2,1584.4 L1588.2,1584.4 L1590.2,1584.4 L1592.2,1584.4 L1594.2,1584.4 L1596.2,1584.4 L1598.1,1584.4 L1600.1,1584.4 L1602.1,1584.4 L1604.1,1584.4 L1606.1,1584.4 L1608.1,1584.4 L1610.0,1584.4 L1612.0,1584.4 L1614.0,1584.5 L1616.0,1584.5 L1618.0,1584.5 L1619.9,1584.5 L1621.9,1584.5 L1623.9,1584.5 L1625.9,1584.5 L1627.9,1584.5 L1629.9,1584.5 L1631.9,1584.6 L1633.9,1584.6 L1635.9,1584.6 L1637.9,1584.6 L1639.9,1584.6 L1641.9,1584.6 L1643.9,1584.6 L1645.9,1584.6 L1647.9,1584.5 L1649.9,1584.5 L1651.9,1584.5 L1653.9,1584.5 L1656.0,1584.5 L1658.0,1584.5 L1660.0,1584.5 L1662.0,1584.5 L1664.0,1584.5 L1666.0,1584.5 L1668.0,1584.5 L1670.1,1584.5 L1672.1,1584.5 L1674.1,1584.5 L1676.1,1584.5 L1678.1,1584.5 L1680.1,1584.5 L1682.1,1584.5 L1684.1,1584.5 L1686.1,1584.5 L1688.0,1584.5 L1690.0,1584.5 L1692.0,1584.5 L1694.0,1584.5 L1695.9,1584.5 L1697.9,1584.5 L1699.9,1584.6" stroke="#0080FF" stroke-dasharray="19.5 16.9"/>
<path d="M600.0,1584.6 L602.0,1584.6 L604.0,1584.5 L606.0,1584.5 L608.0,1584.5 L610.0,1584.5 L612.0,1584.5 L614.0,1584.5 L616.0,1584.5 L618.0,1584.4 L620.0,1584.4 L622.0,1584.4 L624.0,1584.4 L626.0,1584.4 L628.0,1584.4 L630.0,1584.4 L632.0,1584.4 L634.0,1584.5 L636.0,1584.5 L638.0,1584.5 L640.0,1584.5 L642.0,1584.5 L644.0,1584.5 L646.0,1584.5 L648.0,1584.5 L650.0,1584.5 L652.0,1584.5 L654.0,1584.5 L656.0,1584.5 L658.0,1584.6 L660.0,1584.6 L662.0,1584.6 L664.1,1584.6 L666.1,1584.6 L668.1,1584.6 L670.1,1584.6 L672.1,1584.6 L674.1,1584.6 L676.1,1584.6 L678.1,1584.6 L680.1,1584.6 L682.1,1584.6 L684.1,1584.6 L686.1,1584.6 L688.1,1584.6 L690.1,1584.6 L692.1,1584.5 L694.1,1584.5 L696.1,1584.5 L698.1,1584.5 L700.1,1584.5 L702.1,1584.5 L704.1,1584.5 L706.1,1584.5 L708.1,1584.4 L710.1,1584.4 L712.1,1584.4 L714.1,1584.4 L716.1,1584.4 L718.1,1584.4 L720.1,1584.4 L722.1,1584.4 L724.1,1584.4 L726.1,1584.4 L728.1,1584.3 L730.1,1584.3 L732.0,1584.3 L734.0,1584.3 L736.0,1584.3 L738.0,1584.3 L740.0,1584.3 L742.0,1584.4 L744.0,1584.4 L746.0,1584.4 L748.0,1584.4 L750.0,1584.4 L752.0,1584.4 L754.0,1584.4 L756.0,1584.5 L758.0,1584.5 L760.0,1584.5 L762.0,1584.6 L764.0,1584.6 L766.0,1584.6 L768.0,1584.7 L770.1,1584.7 L772.1,1584.8 L774.1,1584.8 L776.2,1584.9 L778.3,1584.9 L780.3,1585.0 L782.4,1585.1 L784.5,1585.1 L786.6,1585.2 L788.8,1585.3 L790.9,1585.4 L793.0,1585.4 L795.2,1585.4 L797.2,1585.4 L799.3,1585.2 L801.2,1585.0 L803.1,1584.6 L804.8,1584.1 L806.4,1583.3 L807.9,1582.4 L809.2,1581.3 L810.4,1580.1 L811.5,1578.7 L812.5,1577.2 L813.5,1575.6 L814.3,1573.9 L815.2,1572.2 L816.0,1570.4 L816.7,1568.6 L817.5,1566.8 L818.2,1565.0 L818.9,1563.2 L819.6,1561.4 L820.3,1559.6 L821.0,1557.7 L821.6,1555.9 L822.2,1554.0 L822.8,1552.2 L823.4,1550.3 L824.0,1548.4 L824.6,1546.5 L825.1,1544.6 L825.7,1542.7 L826.2,1540.8 L826.7,1538.9 L827.2,1537.0 L827.7,1535.1 L828.2,1533.1 L828.7,1531.2 L829.1,1529.3 L829.6,1527.3 L830.0,1525.4 L830.5,1523.4 L830.9,1521.4 L831.3,1519.5 L831.7,1517.5 L832.1,1515.6 L832.5,1513.6 L832.9,1511.6 L833.3,1509.6 L833.7,1507.7 L834.1,1505.7 L834.4,1503.7 L834.8,1501.7 L835.2,1499.8 L835.6,1497.8 L835.9,1495.8 L836.3,1493.8 L836.7,1491.8 L837.0,1489.9 L837.4,1487.9 L837.7,1485.9 L838.1,1483.9 L838.4,1482.0 L838.8,1480.0 L839.1,1478.0 L839.5,1476.0 L839.8,1474.0 L840.2,1472.1 L840.5,1470.1 L840.9,1468.1 L841.2,1466.1 L841.5,1464.1 L841.9,1462.2 L842.2,1460.2 L842.5,1458.2 L842.8,1456.2 L843.2,1454.2 L843.5,1452.3 L843.8,1450.3 L844.1,1448.3 L844.5,1446.3 L844.8,1444.3 L845.1,1442.4 L845.4,1440.4 L845.7,1438.4 L846.0,1436.4 L846.3,1434.4 L846.6,1432.5 L846.9,1430.5 L847.2,1428.5 L847.5,1426.5 L847.8,1424.5 L848.1,1422.5 L848.4,1420.6 L848.7,1418.6 L849.0,1416.6 L849.3,1414.6 L849.6,1412.6 L849.9,1410.7 L850.2,1408.7 L850.5,1406.7 L850.8,1404.7 L851.0,1402.7 L851.3,1400.7 L851.6,1398.8 L851.9,1396.8 L852.2,1394.8 L852.4,1392.8 L852.7,1390.8 L853.0,1388.8 L853.3,1386.9 L853.5,1384.9 L853.8,1382.9 L854.1,1380.9 L854.3,1378.9 L854.6,1376.9 L854.9,1375.0 L855.1,1373.0 L855.4,1371.0 L855.6,1369.0 L855.9,1367.0 L856.2,1365.0 L856.4,1363.1 L856.7,1361.1 L856.9,1359.1 L857.2,1357.1 L857.4,1355.1 L857.7,1353.1 L857.9,1351.2 L858.2,1349.2 L858.4,1347.2 L858.7,1345.2 L858.9,1343.2 L859.2,1341.2 L859.4,1339.3 L859.7,1337.3 L859.9,1335.3 L860.2,1333.3 L860.4,1331.3 L860.6,1329.3 L860.9,1327.3 L861.1,1325.4 L861.4,1323.4 L861.6,1321.4 L861.8,1319.4 L862.1,1317.4 L862.3,1315.4 L862.5,1313.4 L862.8,1311.5 L863.0,1309.5 L863.2,1307.5 L863.5,1305.5 L863.7,1303.5 L863.9,1301.5 L864.1,1299.5 L864.4,1297.6 L864.6,1295.6 L864.8,1293.6 L865.1,1291.6 L865.3,1289.6 L865.5,1287.6 L865.7,1285.6 L865.9,1283.7 L866.2,1281.7 L866.4,1279.7 L866.6,1277.7 L866.8,1275.7 L867.1,1273.7 L867.3,1271.7 L867.5,1269.8 L867.7,1267.8 L867.9,1265.8 L868.2,1263.8 L868.4,1261.8 L868.6,1259.8 L868.8,1257.8 L869.0,1255.8 L869.2,1253.9 L869.5,1251.9 L869.7,1249.9 L869.9,1247.9 L870.1,1245.9 L870.3,1243.9 L870.5,1241.9 L870.8,1239.9 L871.0,1238.0 L871.2,1236.0 L871.4,1234.0 L871.6,1232.0 L871.8,1230.0 L872.0,1228.0 L872.3,1226.0 L872.5,1224.0 L872.7,1222.1 L872.9,1220.1 L873.1,1218.1 L873.3,1216.1 L873.5,1214.1 L873.7,1212.1 L874.0,1210.1 L874.2,1208.1 L874.4,1206.2 L874.6,1204.2 L874.8,1202.2 L875.0,1200.2 L875.2,1198.2 L875.5,1196.2 L875.7,1194.2 L875.9,1192.2 L876.1,1190.2 L876.3,1188.3 L876.5,1186.3 L876.7,1184.3 L877.0,1182.3 L877.2,1180.3 L877.4,1178.3 L877.6,1176.3 L877.8,1174.3 L878.0,1172.4 L878.2,1170.4 L878.5,1168.4 L878.7,1166.4 L878.9,1164.4 L879.1,1162.4 L879.3,1160.4 L879.5,1158.4 L879.8,1156.4 L880.0,1154.5 L880.2,1152.5 L880.4,1150.5 L880.6,1148.5 L880.8,1146.5 L881.1,1144.5 L881.3,1142.5 L881.5,1140.5 L881.7,1138.5 L881.9,1136.6 L882.2,1134.6 L882.4,1132.6 L882.6,1130.6 L882.8,1128.6 L883.0,1126.6 L883.3,1124.6 L883.5,1122.6 L883.7,1120.7 L883.9,1118.7 L884.1,1116.7 L884.4,1114.7 L884.6,1112.7 L884.8,1110.7 L885.0,1108.7 L885.3,1106.7 L885.5,1104.7 L885.7,1102.8 L885.9,1100.8 L886.2,1098.8 L886.4,1096.8 L886.6,1094.8 L886.9,1092.8 L887.1,1090.8 L887.3,1088.8 L887.5,1086.9 L887.8,1084.9 L888.0,1082.9 L888.2,1080.9 L888.5,1078.9 L888.7,1076.9 L888.9,1074.9 L889.2,1072.9 L889.4,1070.9 L889.6,1069.0 L889.9,1067.0 L890.1,1065.0 L890.3,1063.0 L890.6,1061.0 L890.8,1059.0 L891.1,1057.0 L891.3,1055.0 L891.5,1053.1 L891.8,1051.1 L892.0,1049.1 L892.3,1047.1 L892.5,1045.1 L892.7,1043.1 L893.0,1041.1 L893.2,1039.2 L893.5,1037.2 L893.7,1035.2 L894.0,1033.2 L894.2,1031.2 L894.5,1029.2 L894.7,1027.2 L895.0,1025.2 L895.2,1023.3 L895.5,1021.3 L895.7,1019.3 L896.0,1017.3 L896.2,1015.3 L896.5,1013.3 L896.7,1011.3 L897.0,1009.4 L897.2,1007.4 L897.5,1005.4 L897.8,1003.4 L898.0,1001.4 L898.3,999.4 L898.5,997.4 L898.8,995.5 L899.1,993.5 L899.3,991.5 L899.6,989.5 L899.9,987.5 L900.1,985.5 L900.4,983.5 L900.7,981.6 L900.9,979.6 L901.2,977.6 L901.5,975.6 L901.7,973.6 L902.0,971.6 L902.3,969.7 L902.6,967.7 L902.8,965.7 L903.1,963.7 L903.4,961.7 L903.7,959.7 L904.0,957.8 L904.2,955.8 L904.5,953.8 L904.8,951.8 L905.1,949.8 L905.4,947.8 L905.7,945.9 L906.0,943.9 L906.2,941.9 L906.5,939.9 L906.8,937.9 L907.1,935.9 L907.4,934.0 L907.7,932.0 L908.0,930.0 L908.3,928.0 L908.6,926.0 L908.9,924.1 L909.2,922.1 L909.5,920.1 L909.8,918.1 L910.1,916.1 L910.4,914.2 L910.7,912.2 L911.0,910.2 L911.3,908.2 L911.7,906.2 L912.0,904.3 L912.3,902.3 L912.6,900.3 L912.9,898.3 L913.3,896.3 L913.6,894.4 L913.9,892.4 L914.3,890.4 L914.6,888.5 L915.0,886.5 L915.4,884.5 L915.8,882.6 L916.2,880.6 L916.6,878.7 L917.0,876.7 L917.5,874.8 L917.9,872.8 L918.4,870.9 L918.9,869.0 L919.4,867.0 L919.9,865.1 L920.5,863.2 L921.1,861.3 L921.7,859.4 L922.3,857.5 L922.9,855.6 L923.6,853.7 L924.2,851.8 L925.0,849.9 L925.7,848.1 L926.5,846.2 L927.2,844.4 L928.1,842.5 L928.9,840.7 L929.8,838.9 L930.7,837.0 L931.7,835.2 L932.6,833.5 L933.7,831.8 L934.7,830.1 L935.9,828.6 L937.1,827.2 L938.3,826.0 L939.7,825.0 L941.1,824.1 L942.6,823.5 L944.2,823.2 L945.9,823.1 L947.7,823.2 L949.4,823.5 L951.2,824.1 L953.0,824.8 L954.8,825.6 L956.5,826.6 L958.2,827.7 L959.8,828.9 L961.4,830.2 L962.9,831.6 L964.3,833.1 L965.7,834.6 L967.0,836.2 L968.3,837.8 L969.5,839.5 L970.8,841.3 L972.0,843.1 L973.1,844.8 L974.3,846.7 L975.4,848.5 L976.6,850.3 L977.8,852.1 L978.9,853.9 L980.1,855.7 L981.3,857.4 L982.5,859.1 L983.8,860.8 L985.1,862.3 L986.4,863.9 L987.8,865.3 L989.2,866.6 L990.6,867.8 L992.1,868.9 L993.7,869.8 L995.4,870.6 L997.1,871.3 L998.8,871.8 L1000.6,872.1 L1002.5,872.2 L1004.3,872.3 L1006.2,872.1 L1008.0,871.9 L1009.8,871.4 L1011.5,870.9 L1013.3,870.2 L1014.9,869.3 L1016.5,868.4 L1018.1,867.3 L1019.6,866.1 L1021.1,864.9 L1022.6,863.5 L1024.0,862.1 L1025.4,860.6 L1026.7,859.1 L1028.1,857.5 L1029.4,855.9 L1030.7,854.2 L1032.0,852.5 L1033.2,850.9 L1034.5,849.2 L1035.7,847.5 L1037.0,845.8 L1038.3,844.2 L1039.5,842.6 L1040.8,841.0 L1042.1,839.4 L1043.4,837.9 L1044.8,836.4 L1046.2,835.0 L1047.7,833.5 L1049.2,832.1 L1050.8,830.7 L1052.5,829.4 L1054.2,828.1 L1056.0,826.8 L1057.8,825.7 L1059.7,824.7 L1061.6,823.8 L1063.4,823.0 L1065.3,822.5 L1067.1,822.1 L1068.9,821.9 L1070.7,821.9 L1072.4,822.1 L1074.1,822.4 L1075.7,823.0 L1077.3,823.7 L1078.9,824.5 L1080.4,825.5 L1081.9,826.5 L1083.4,827.7 L1084.8,829.0 L1086.2,830.4 L1087.5,831.8 L1088.8,833.3 L1090.1,834.9 L1091.4,836.5 L1092.6,838.2 L1093.8,839.8 L1095.0,841.5 L1096.1,843.2 L1097.2,844.9 L1098.3,846.6 L1099.4,848.3 L1100.4,850.0 L1101.4,851.7 L1102.4,853.4 L1103.3,855.2 L1104.3,856.9 L1105.2,858.7 L1106.1,860.4 L1107.0,862.2 L1107.9,864.0 L1108.8,865.8 L1109.6,867.5 L1110.4,869.3 L1111.3,871.1 L1112.1,872.9 L1112.9,874.7 L1113.7,876.5 L1114.5,878.4 L1115.3,880.2 L1116.1,882.0 L1116.9,883.8 L1117.7,885.7 L1118.4,887.5 L1119.2,889.4 L1120.0,891.2 L1120.8,893.1 L1121.6,894.9 L1122.4,896.8 L1123.3,898.6 L1124.1,900.5 L1124.9,902.3 L1125.8,904.2 L1126.6,906.1 L1127.5,907.9 L1128.4,909.8 L1129.3,911.6 L1130.2,913.5 L1131.2,915.3 L1132.1,917.2 L1133.1,919.0 L1134.1,920.8 L1135.2,922.6 L1136.2,924.3 L1137.4,926.0 L1138.5,927.7 L1139.7,929.3 L1140.9,930.9 L1142.1,932.5 L1143.4,933.9 L1144.8,935.4 L1146.1,936.8 L1147.6,938.1 L1149.1,939.4 L1150.6,940.5 L1152.1,941.7 L1153.8,942.7 L1155.4,943.5 L1157.1,944.3 L1158.8,944.9 L1160.6,945.3 L1162.3,945.6 L1164.1,945.6 L1165.9,945.5 L1167.7,945.2 L1169.4,944.6 L1171.2,943.9 L1173.0,943.1 L1174.7,942.1 L1176.4,941.1 L1178.0,939.9 L1179.6,938.7 L1181.2,937.4 L1182.7,936.0 L1184.1,934.6 L1185.5,933.2 L1186.9,931.7 L1188.2,930.2 L1189.5,928.6 L1190.7,927.0 L1191.9,925.4 L1193.1,923.7 L1194.3,922.0 L1195.4,920.3 L1196.6,918.6 L1197.7,916.9 L1198.8,915.1 L1199.8,913.4 L1200.9,911.6 L1202.0,909.9 L1203.1,908.2 L1204.1,906.4 L1205.2,904.7 L1206.3,903.0 L1207.4,901.3 L1208.6,899.7 L1209.7,898.0 L1210.9,896.4 L1212.1,894.8 L1213.3,893.3 L1214.6,891.7 L1215.9,890.2 L1217.2,888.8 L1218.6,887.4 L1220.1,886.0 L1221.6,884.7 L1223.1,883.4 L1224.7,882.2 L1226.4,881.1 L1228.1,880.0 L1229.9,879.0 L1231.8,878.0 L1233.7,877.2 L1235.6,876.5 L1237.5,875.8 L1239.4,875.3 L1241.3,875.0 L1243.2,874.8 L1245.1,874.8 L1247.0,874.9 L1248.8,875.2 L1250.6,875.7 L1252.4,876.3 L1254.1,877.0 L1255.9,877.8 L1257.6,878.7 L1259.2,879.6 L1260.9,880.6 L1262.5,881.7 L1264.2,882.8 L1265.8,883.9 L1267.3,885.0 L1268.9,886.2 L1270.5,887.4 L1272.0,888.6 L1273.6,889.9 L1275.1,891.1 L1276.6,892.4 L1278.1,893.7 L1279.6,895.1 L1281.1,896.4 L1282.6,897.7 L1284.0,899.1 L1285.5,900.5 L1287.0,901.9 L1288.4,903.3 L1289.9,904.7 L1291.3,906.1 L1292.8,907.5 L1294.2,908.9 L1295.7,910.3 L1297.1,911.7 L1298.5,913.1 L1300.0,914.5 L1301.4,916.0 L1302.8,917.4 L1304.2,918.8 L1305.6,920.3 L1307.0,921.7 L1308.4,923.2 L1309.8,924.6 L1311.2,926.1 L1312.6,927.5 L1314.0,929.0 L1315.3,930.5 L1316.7,931.9 L1318.1,933.4 L1319.4,934.9 L1320.8,936.4 L1322.1,937.9 L1323.5,939.4 L1324.8,940.9 L1326.1,942.4 L1327.4,943.9 L1328.7,945.5 L1330.0,947.0 L1331.3,948.5 L1332.6,950.0 L1333.9,951.6 L1335.2,953.1 L1336.4,954.7 L1337.7,956.2 L1338.9,957.8 L1340.2,959.4 L1341.4,960.9 L1342.6,962.5 L1343.9,964.1 L1345.1,965.7 L1346.3,967.3 L1347.5,968.9 L1348.6,970.5 L1349.8,972.1 L1351.0,973.7 L1352.1,975.3 L1353.3,977.0 L1354.4,978.6 L1355.5,980.2 L1356.7,981.9 L1357.8,983.5 L1358.9,985.2 L1359.9,986.9 L1361.0,988.5 L1362.1,990.2 L1363.1,991.9 L1364.2,993.6 L1365.2,995.3 L1366.2,997.0 L1367.2,998.7 L1368.2,1000.4 L1369.2,1002.1 L1370.2,1003.8 L1371.2,1005.5 L1372.1,1007.3 L1373.1,1009.0 L1374.0,1010.8 L1374.9,1012.5 L1375.8,1014.3 L1376.7,1016.1 L1377.6,1017.8 L1378.4,1019.6 L1379.3,1021.4 L1380.1,1023.2 L1381.0,1025.0 L1381.8,1026.8 L1382.6,1028.6 L1383.4,1030.4 L1384.2,1032.3 L1384.9,1034.1 L1385.7,1035.9 L1386.4,1037.8 L1387.2,1039.6 L1387.9,1041.5 L1388.6,1043.3 L1389.3,1045.2 L1390.0,1047.1 L1390.7,1048.9 L1391.3,1050.8 L1392.0,1052.7 L1392.6,1054.6 L1393.3,1056.5 L1393.9,1058.4 L1394.5,1060.3 L1395.1,1062.2 L1395.7,1064.1 L1396.3,1066.0 L1396.9,1067.9 L1397.5,1069.9 L1398.1,1071.8 L1398.6,1073.7 L1399.2,1075.6 L1399.7,1077.6 L1400.3,1079.5 L1400.8,1081.4 L1401.4,1083.4 L1401.9,1085.3 L1402.4,1087.3 L1402.9,1089.2 L1403.4,1091.2 L1403.9,1093.1 L1404.4,1095.1 L1404.9,1097.1 L1405.4,1099.0 L1405.8,1101.0 L1406.3,1102.9 L1406.8,1104.9 L1407.3,1106.9 L1407.7,1108.8 L1408.2,1110.8 L1408.6,1112.8 L1409.1,1114.7 L1409.5,1116.7 L1410.0,1118.7 L1410.4,1120.7 L1410.8,1122.6 L1411.3,1124.6 L1411.7,1126.6 L1412.1,1128.6 L1412.6,1130.5 L1413.0,1132.5 L1413.4,1134.5 L1413.8,1136.4 L1414.2,1138.4 L1414.7,1140.4 L1415.1,1142.3 L1415.5,1144.3 L1415.9,1146.3 L1416.3,1148.3 L1416.8,1150.2 L1417.2,1152.2 L1417.6,1154.1 L1418.0,1156.1 L1418.4,1158.1 L1418.8,1160.0 L1419.3,1162.0 L1419.7,1163.9 L1420.1,1165.9 L1420.5,1167.8 L1421.0,1169.8 L1421.4,1171.7 L1421.8,1173.6 L1422.3,1175.6 L1422.7,1177.5 L1423.1,1179.5 L1423.5,1181.4 L1424.0,1183.3 L1424.4,1185.3 L1424.8,1187.2 L1425.2,1189.1 L1425.6,1191.1 L1426.1,1193.0 L1426.5,1194.9 L1426.9,1196.9 L1427.3,1198.8 L1427.7,1200.8 L1428.1,1202.7 L1428.5,1204.6 L1428.9,1206.6 L1429.3,1208.5 L1429.7,1210.5 L1430.0,1212.4 L1430.4,1214.4 L1430.8,1216.3 L1431.1,1218.3 L1431.5,1220.2 L1431.8,1222.2 L1432.2,1224.1 L1432.5,1226.1 L1432.8,1228.1 L1433.2,1230.0 L1433.5,1232.0 L1433.8,1234.0 L1434.1,1236.0 L1434.4,1238.0 L1434.6,1240.0 L1434.9,1242.0 L1435.2,1244.0 L1435.4,1246.0 L1435.7,1248.0 L1435.9,1250.0 L1436.2,1252.0 L1436.5,1254.0 L1436.7,1256.0 L1437.0,1258.0 L1437.3,1260.0 L1437.6,1262.0 L1437.9,1264.0 L1438.2,1266.0 L1438.5,1267.9 L1438.9,1269.9 L1439.2,1271.9 L1439.6,1273.9 L1440.0,1275.8 L1440.4,1277.8 L1440.9,1279.7 L1441.4,1281.7 L1441.8,1283.6 L1442.4,1285.5 L1442.9,1287.5 L1443.4,1289.4 L1444.0,1291.3 L1444.5,1293.2 L1445.1,1295.1 L1445.7,1297.0 L1446.2,1298.9 L1446.8,1300.8 L1447.4,1302.7 L1448.0,1304.6 L1448.6,1306.5 L1449.2,1308.4 L1449.8,1310.4 L1450.4,1312.3 L1450.9,1314.2 L1451.5,1316.1 L1452.1,1318.0 L1452.6,1319.9 L1453.2,1321.8 L1453.8,1323.7 L1454.3,1325.6 L1454.9,1327.6 L1455.4,1329.5 L1456.0,1331.4 L1456.5,1333.3 L1457.0,1335.2 L1457.6,1337.2 L1458.1,1339.1 L1458.6,1341.0 L1459.2,1342.9 L1459.7,1344.9 L1460.2,1346.8 L1460.7,1348.7 L1461.2,1350.7 L1461.7,1352.6 L1462.3,1354.5 L1462.8,1356.5 L1463.3,1358.4 L1463.8,1360.3 L1464.3,1362.3 L1464.8,1364.2 L1465.3,1366.1 L1465.8,1368.1 L1466.3,1370.0 L1466.8,1372.0 L1467.3,1373.9 L1467.8,1375.8 L1468.3,1377.8 L1468.7,1379.7 L1469.2,1381.7 L1469.7,1383.6 L1470.2,1385.5 L1470.7,1387.5 L1471.2,1389.4 L1471.7,1391.4 L1472.2,1393.3 L1472.7,1395.2 L1473.2,1397.2 L1473.7,1399.1 L1474.1,1401.1 L1474.6,1403.0 L1475.1,1405.0 L1475.6,1406.9 L1476.1,1408.8 L1476.6,1410.8 L1477.1,1412.7 L1477.6,1414.7 L1478.1,1416.6 L1478.6,1418.5 L1479.1,1420.5 L1479.6,1422.4 L1480.1,1424.4 L1480.6,1426.3 L1481.1,1428.2 L1481.6,1430.2 L1482.1,1432.1 L1482.6,1434.0 L1483.2,1436.0 L1483.7,1437.9 L1484.2,1439.9 L1484.7,1441.8 L1485.2,1443.7 L1485.8,1445.6 L1486.3,1447.6 L1486.8,1449.5 L1487.4,1451.4 L1487.9,1453.4 L1488.5,1455.3 L1489.0,1457.2 L1489.6,1459.1 L1490.1,1461.1 L1490.7,1463.0 L1491.2,1464.9 L1491.8,1466.8 L1492.4,1468.7 L1492.9,1470.7 L1493.5,1472.6 L1494.1,1474.5 L1494.7,1476.4 L1495.3,1478.3 L1495.9,1480.2 L1496.5,1482.1 L1497.1,1484.0 L1497.7,1485.9 L1498.3,1487.8 L1498.9,1489.7 L1499.5,1491.6 L1500.2,1493.5 L1500.8,1495.4 L1501.4,1497.3 L1502.1,1499.2 L1502.7,1501.1 L1503.4,1503.0 L1504.0,1504.9 L1504.7,1506.8 L1505.4,1508.6 L1506.0,1510.5 L1506.7,1512.4 L1507.4,1514.3 L1508.1,1516.1 L1508.8,1518.0 L1509.5,1519.9 L1510.2,1521.7 L1510.9,1523.6 L1511.7,1525.5 L1512.4,1527.3 L1513.1,1529.2 L1513.9,1531.0 L1514.7,1532.9 L1515.4,1534.7 L1516.2,1536.6 L1517.0,1538.4 L1517.9,1540.2 L1518.7,1542.0 L1519.6,1543.8 L1520.4,1545.6 L1521.3,1547.4 L1522.3,1549.2 L1523.2,1551.0 L1524.2,1552.8 L1525.2,1554.5 L1526.2,1556.3 L1527.3,1558.0 L1528.3,1559.7 L1529.5,1561.4 L1530.6,1563.1 L1531.8,1564.8 L1533.0,1566.4 L1534.2,1568.0 L1535.5,1569.6 L1536.9,1571.1 L1538.2,1572.5 L1539.6,1573.9 L1541.0,1575.3 L1542.5,1576.5 L1544.0,1577.7 L1545.6,1578.8 L1547.2,1579.8 L1548.8,1580.8 L1550.5,1581.6 L1552.2,1582.4 L1554.0,1583.0 L1555.8,1583.6 L1557.7,1584.0 L1559.6,1584.4 L1561.5,1584.7 L1563.4,1584.9 L1565.4,1585.1 L1567.4,1585.2 L1569.4,1585.3 L1571.5,1585.3 L1573.5,1585.2 L1575.6,1585.2 L1577.7,1585.1 L1579.7,1585.0 L1581.8,1584.8 L1583.9,1584.7 L1586.0,1584.6 L1588.0,1584.5 L1590.1,1584.4 L1592.1,1584.3 L1594.2,1584.2 L1596.2,1584.2 L1598.2,1584.2 L1600.2,1584.1 L1602.2,1584.1 L1604.2,1584.1 L1606.2,1584.2 L1608.2,1584.2 L1610.1,1584.2 L1612.1,1584.3 L1614.1,1584.3 L1616.0,1584.4 L1618.0,1584.4 L1620.0,1584.4 L1621.9,1584.5 L1623.9,1584.5 L1625.9,1584.6 L1627.9,1584.6 L1629.8,1584.6 L1631.8,1584.6 L1633.8,1584.7 L1635.8,1584.7 L1637.8,1584.7 L1639.8,1584.7 L1641.8,1584.7 L1643.8,1584.7 L1645.9,1584.6 L1647.9,1584.6 L1649.9,1584.6 L1651.9,1584.6 L1653.9,1584.6 L1655.9,1584.6 L1657.9,1584.5 L1660.0,1584.5 L1662.0,1584.5 L1664.0,1584.5 L1666.0,1584.5 L1668.0,1584.4 L1670.0,1584.4 L1672.1,1584.4 L1674.1,1584.4 L1676.1,1584.4 L1678.1,1584.4 L1680.1,1584.4 L1682.1,1584.4 L1684.1,1584.4 L1686.1,1584.4 L1688.0,1584.4 L1690.0,1584.5 L1692.0,1584.5 L1694.0,1584.5 L1695.9,1584.6 L1697.9,1584.6 L1699.9,1584.7" stroke="#0080FF"/>
<path d="M205.0,1440.3 L205.7,1442.3 L206.4,1444.2 L207.1,1446.2 L207.8,1448.2 L208.5,1450.1 L209.2,1452.0 L209.9,1454.0 L210.6,1455.9 L211.3,1457.8 L212.0,1459.7 L212.7,1461.6 L213.4,1463.5 L214.2,1465.4 L214.9,1467.3 L215.6,1469.1 L216.4,1471.0 L217.1,1472.8 L217.9,1474.7 L218.6,1476.5 L219.4,1478.4 L220.2,1480.2 L220.9,1482.0 L221.7,1483.9 L222.5,1485.7 L223.3,1487.5 L224.1,1489.3 L224.9,1491.1 L225.7,1492.9 L226.5,1494.7 L227.3,1496.5 L228.2,1498.3 L229.0,1500.1 L229.8,1501.9 L230.7,1503.6 L231.5,1505.4 L232.4,1507.2 L233.3,1509.0 L234.2,1510.7 L235.0,1512.5 L235.9,1514.2 L236.8,1516.0 L237.8,1517.8 L238.7,1519.5 L239.6,1521.3 L240.5,1523.0 L241.5,1524.8 L242.4,1526.5 L243.4,1528.3 L244.4,1530.0 L245.4,1531.8 L246.4,1533.5 L247.4,1535.3 L248.4,1537.0 L249.4,1538.8 L250.4,1540.6 L251.4,1542.3 L252.5,1544.1 L253.6,1545.8 L254.6,1547.6 L255.7,1549.3 L256.8,1551.1 L257.9,1552.8 L259.0,1554.6 L260.1,1556.4 L261.3,1558.1 L262.4,1559.9 L263.6,1561.6 L264.8,1563.3 L266.0,1565.0 L267.2,1566.6 L268.5,1568.2 L269.8,1569.7 L271.1,1571.2 L272.5,1572.6 L273.9,1574.0 L275.3,1575.3 L276.8,1576.4 L278.3,1577.5 L279.9,1578.5 L281.5,1579.4 L283.2,1580.2 L284.9,1580.9 L286.7,1581.5 L288.5,1582.1 L290.3,1582.5 L292.1,1582.9 L294.0,1583.3 L295.9,1583.6 L297.9,1583.8 L299.8,1584.0 L301.8,1584.1 L303.8,1584.3 L305.7,1584.4 L307.7,1584.4 L309.7,1584.5 L311.7,1584.6 L313.7,1584.6 L315.8,1584.7 L317.8,1584.7 L319.8,1584.7 L321.8,1584.8 L323.8,1584.8 L325.8,1584.8 L327.8,1584.8 L329.8,1584.9 L331.8,1584.9 L333.8,1584.9 L335.8,1584.9 L337.8,1584.9 L339.8,1584.9 L341.8,1584.9 L343.8,1584.8 L345.8,1584.8 L347.9,1584.8 L349.9,1584.8 L351.9,1584.8 L353.9,1584.8 L355.9,1584.7 L357.9,1584.7 L359.9,1584.7 L361.9,1584.7 L363.9,1584.7 L365.9,1584.6 L367.9,1584.6 L369.9,1584.6 L371.9,1584.6 L373.9,1584.5 L375.9,1584.5 L377.9,1584.5 L379.9,1584.5 L381.9,1584.5 L384.0,1584.5 L386.0,1584.5 L388.0,1584.4 L390.0,1584.4 L392.0,1584.4 L394.0,1584.4 L396.0,1584.4 L398.0,1584.4 L400.0,1584.4 L401.9,1584.4 L403.9,1584.4 L405.9,1584.4 L407.9,1584.4 L409.9,1584.4 L411.9,1584.3 L413.9,1584.3 L415.9,1584.3 L417.9,1584.3 L419.9,1584.3 L421.9,1584.3 L423.9,1584.3 L425.9,1584.3 L427.9,1584.3 L429.9,1584.3 L431.9,1584.3 L433.9,1584.4 L435.9,1584.4 L437.9,1584.4 L439.9,1584.4 L441.9,1584.4 L443.9,1584.4 L445.9,1584.4 L447.9,1584.4 L449.9,1584.4 L451.9,1584.4 L453.9,1584.4 L455.9,1584.4 L457.9,1584.4 L459.9,1584.4 L461.9,1584.4 L463.9,1584.5 L465.9,1584.5 L467.9,1584.5 L469.9,1584.5 L471.9,1584.5 L473.9,1584.5 L475.9,1584.5 L477.9,1584.5 L479.9,1584.5 L481.9,1584.5 L483.9,1584.5 L485.9,1584.6 L487.9,1584.6 L489.9,1584.6 L491.9,1584.6 L493.9,1584.6 L495.9,1584.6 L497.9,1584.6 L500.0,1584.6 L502.0,1584.6 L504.0,1584.7 L506.0,1584.7 L508.0,1584.7 L510.0,1584.7 L512.0,1584.7 L514.0,1584.7 L516.0,1584.7 L518.0,1584.7 L520.1,1584.7 L522.1,1584.7 L524.1,1584.7 L526.1,1584.7 L528.1,1584.7 L530.1,1584.7 L532.1,1584.7 L534.1,1584.7 L536.1,1584.7 L538.1,1584.7 L540.1,1584.6 L542.1,1584.6 L544.1,1584.6 L546.1,1584.6 L548.0,1584.5 L550.0,1584.5 L552.0,1584.5 L554.0,1584.4 L556.0,1584.4 L557.9,1584.3 L559.9,1584.3 L561.9,1584.2 L563.9,1584.2 L565.8,1584.1 L567.8,1584.1 L569.8,1584.0 L571.7,1584.0 L573.7,1583.9 L575.7,1583.9 L577.7,1583.9 L579.7,1583.9 L581.7,1583.9 L583.7,1584.0 L585.7,1584.0 L587.7,1584.1 L589.8,1584.2 L591.8,1584.4 L593.9,1584.5 L596.0,1584.7 L598.1,1584.9 L600.2,1585.1 L602.3,1585.3 L604.4,1585.4 L606.5,1585.6 L608.6,1585.7 L610.7,1585.8 L612.7,1585.8 L614.7,1585.8 L616.7,1585.8 L618.7,1585.6 L620.6,1585.4 L622.5,1585.1 L624.4,1584.7 L626.2,1584.2 L628.0,1583.6 L629.7,1582.9 L631.4,1582.2 L633.1,1581.3 L634.7,1580.4 L636.2,1579.4 L637.7,1578.4 L639.2,1577.2 L640.6,1576.0 L642.0,1574.7 L643.3,1573.4 L644.5,1572.0 L645.8,1570.6 L646.9,1569.0 L648.0,1567.5 L649.1,1565.8 L650.1,1564.2 L651.1,1562.5 L652.0,1560.7 L652.9,1558.9 L653.8,1557.1 L654.6,1555.2 L655.4,1553.3 L656.1,1551.4 L656.9,1549.5 L657.6,1547.6 L658.3,1545.6 L658.9,1543.7 L659.6,1541.7 L660.2,1539.7 L660.9,1537.8 L661.5,1535.8 L662.1,1533.9 L662.7,1531.9 L663.3,1530.0 L663.8,1528.0 L664.4,1526.1 L665.0,1524.1 L665.5,1522.2 L666.0,1520.2 L666.5,1518.3 L667.1,1516.3 L667.6,1514.4 L668.1,1512.4 L668.5,1510.5 L669.0,1508.6 L669.5,1506.6 L670.0,1504.7 L670.4,1502.7 L670.9,1500.8 L671.3,1498.8 L671.7,1496.9 L672.1,1495.0 L672.6,1493.0 L673.0,1491.1 L673.4,1489.1 L673.8,1487.2 L674.2,1485.2 L674.5,1483.3 L674.9,1481.3 L675.3,1479.4 L675.6,1477.4 L676.0,1475.5 L676.4,1473.5 L676.7,1471.6 L677.1,1469.6 L677.4,1467.7 L677.7,1465.7 L678.1,1463.7 L678.4,1461.8 L678.7,1459.8 L679.0,1457.8 L679.3,1455.9 L679.6,1453.9 L679.9,1451.9 L680.2,1450.0 L680.5,1448.0 L680.8,1446.0 L681.1,1444.0 L681.4,1442.1 L681.7,1440.1 L681.9,1438.1 L682.2,1436.1 L682.5,1434.2 L682.7,1432.2 L683.0,1430.2 L683.2,1428.2 L683.5,1426.2 L683.7,1424.2 L684.0,1422.3 L684.2,1420.3 L684.5,1418.3 L684.7,1416.3 L685.0,1414.3 L685.2,1412.3 L685.4,1410.3 L685.6,1408.4 L685.9,1406.4 L686.1,1404.4 L686.3,1402.4 L686.5,1400.4 L686.7,1398.4 L687.0,1396.4 L687.2,1394.4 L687.4,1392.4 L687.6,1390.4 L687.8,1388.4 L688.0,1386.4 L688.2,1384.4 L688.4,1382.5 L688.6,1380.5 L688.8,1378.5 L689.0,1376.5 L689.2,1374.5 L689.4,1372.5 L689.6,1370.5 L689.8,1368.5 L690.0,1366.5 L690.2,1364.5 L690.4,1362.5 L690.6,1360.5 L690.8,1358.5 L691.0,1356.5 L691.2,1354.5 L691.4,1352.5 L691.6,1350.5 L691.8,1348.5 L691.9,1346.5 L692.1,1344.5 L692.3,1342.6 L692.5,1340.6 L692.7,1338.6 L692.9,1336.6 L693.1,1334.6 L693.3,1332.6 L693.5,1330.6 L693.7,1328.6 L693.9,1326.6 L694.1,1324.6 L694.3,1322.6 L694.5,1320.6 L694.7,1318.6 L694.8,1316.6 L695.0,1314.6 L695.2,1312.6 L695.4,1310.7 L695.6,1308.7 L695.8,1306.7 L696.0,1304.7 L696.2,1302.7 L696.4,1300.7 L696.6,1298.7 L696.8,1296.7 L697.0,1294.7 L697.1,1292.7 L697.3,1290.7 L697.5,1288.7 L697.7,1286.7 L697.9,1284.7 L698.1,1282.8 L698.3,1280.8 L698.5,1278.8 L698.7,1276.8 L698.9,1274.8 L699.0,1272.8 L699.2,1270.8 L699.4,1268.8 L699.6,1266.8 L699.8,1264.8 L700.0,1262.8 L700.2,1260.8 L700.4,1258.9 L700.6,1256.9 L700.8,1254.9 L700.9,1252.9 L701.1,1250.9 L701.3,1248.9 L701.5,1246.9 L701.7,1244.9 L701.9,1242.9 L702.1,1240.9 L702.3,1238.9 L702.4,1237.0 L702.6,1235.0 L702.8,1233.0 L703.0,1231.0 L703.2,1229.0 L703.4,1227.0 L703.6,1225.0 L703.8,1223.0 L703.9,1221.0 L704.1,1219.0 L704.3,1217.0 L704.5,1215.1 L704.7,1213.1 L704.9,1211.1 L705.1,1209.1 L705.2,1207.1 L705.4,1205.1 L705.6,1203.1 L705.8,1201.1 L706.0,1199.1 L706.2,1197.1 L706.3,1195.1 L706.5,1193.2 L706.7,1191.2 L706.9,1189.2 L707.1,1187.2 L707.3,1185.2 L707.5,1183.2 L707.6,1181.2 L707.8,1179.2 L708.0,1177.2 L708.2,1175.2 L708.4,1173.2 L708.6,1171.3 L708.7,1169.3 L708.9,1167.3 L709.1,1165.3 L709.3,1163.3 L709.5,1161.3 L709.6,1159.3 L709.8,1157.3 L710.0,1155.3 L710.2,1153.3 L710.4,1151.3 L710.5,1149.4 L710.7,1147.4 L710.9,1145.4 L711.1,1143.4 L711.3,1141.4 L711.5,1139.4 L711.6,1137.4 L711.8,1135.4 L712.0,1133.4 L712.2,1131.4 L712.3,1129.4 L712.5,1127.4 L712.7,1125.5 L712.9,1123.5 L713.1,1121.5 L713.2,1119.5 L713.4,1117.5 L713.6,1115.5 L713.8,1113.5 L714.0,1111.5 L714.1,1109.5 L714.3,1107.5 L714.5,1105.5 L714.7,1103.5 L714.8,1101.6 L715.0,1099.6 L715.2,1097.6 L715.4,1095.6 L715.5,1093.6 L715.7,1091.6 L715.9,1089.6 L716.1,1087.6 L716.2,1085.6 L716.4,1083.6 L716.6,1081.6 L716.8,1079.6 L716.9,1077.6 L717.1,1075.6 L717.3,1073.7 L717.5,1071.7 L717.6,1069.7 L717.8,1067.7 L718.0,1065.7 L718.2,1063.7 L718.3,1061.7 L718.5,1059.7 L718.7,1057.7 L718.9,1055.7 L719.0,1053.7 L719.2,1051.7 L719.4,1049.7 L719.6,1047.7 L719.7,1045.8 L719.9,1043.8 L720.1,1041.8 L720.2,1039.8 L720.4,1037.8 L720.6,1035.8 L720.8,1033.8 L720.9,1031.8 L721.1,1029.8 L721.3,1027.8 L721.5,1025.8 L721.6,1023.8 L721.8,1021.8 L722.0,1019.8 L722.1,1017.8 L722.3,1015.8 L722.5,1013.9 L722.7,1011.9 L722.8,1009.9 L723.0,1007.9 L723.2,1005.9 L723.3,1003.9 L723.5,1001.9 L723.7,999.9 L723.9,997.9 L724.0,995.9 L724.2,993.9 L724.4,991.9 L724.5,989.9 L724.7,987.9 L724.9,985.9 L725.1,983.9 L725.2,982.0 L725.4,980.0 L725.6,978.0 L725.8,976.0 L725.9,974.0 L726.1,972.0 L726.3,970.0 L726.4,968.0 L726.6,966.0 L726.8,964.0 L727.0,962.0 L727.1,960.0 L727.3,958.0 L727.5,956.0 L727.6,954.0 L727.8,952.0 L728.0,950.1 L728.2,948.1 L728.3,946.1 L728.5,944.1 L728.7,942.1 L728.8,940.1 L729.0,938.1 L729.2,936.1 L729.4,934.1 L729.5,932.1 L729.7,930.1 L729.9,928.1 L730.1,926.1 L730.2,924.1 L730.4,922.1 L730.6,920.2 L730.8,918.2 L730.9,916.2 L731.1,914.2 L731.3,912.2 L731.4,910.2 L731.6,908.2 L731.8,906.2 L732.0,904.2 L732.1,902.2 L732.3,900.2 L732.5,898.2 L732.7,896.2 L732.8,894.2 L733.0,892.3 L733.2,890.3 L733.4,888.3 L733.5,886.3 L733.7,884.3 L733.9,882.3 L734.1,880.3 L734.2,878.3 L734.4,876.3 L734.6,874.3 L734.8,872.3 L735.0,870.3 L735.1,868.4 L735.3,866.4 L735.5,864.4 L735.7,862.4 L735.8,860.4 L736.0,858.4 L736.2,856.4 L736.4,854.4 L736.5,852.4 L736.7,850.4 L736.9,848.4 L737.1,846.4 L737.3,844.5 L737.4,842.5 L737.6,840.5 L737.8,838.5 L738.0,836.5 L738.2,834.5 L738.3,832.5 L738.5,830.5 L738.7,828.5 L738.9,826.5 L739.1,824.5 L739.2,822.6 L739.4,820.6 L739.6,818.6 L739.8,816.6 L740.0,814.6 L740.1,812.6 L740.3,810.6 L740.5,808.6 L740.7,806.6 L740.9,804.6 L741.0,802.6 L741.2,800.7 L741.4,798.7 L741.6,796.7 L741.8,794.7 L741.9,792.7 L742.1,790.7 L742.3,788.7 L742.5,786.7 L742.6,784.7 L742.8,782.7 L743.0,780.7 L743.2,778.7 L743.4,776.8 L743.5,774.8 L743.7,772.8 L743.9,770.8 L744.1,768.8 L744.2,766.8 L744.4,764.8 L744.6,762.8 L744.8,760.8 L744.9,758.8 L745.1,756.8 L745.3,754.8 L745.5,752.8 L745.6,750.8 L745.8,748.9 L746.0,746.9 L746.2,744.9 L746.3,742.9 L746.5,740.9 L746.7,738.9 L746.8,736.9 L747.0,734.9 L747.2,732.9 L747.4,730.9 L747.5,728.9 L747.7,726.9 L747.9,724.9 L748.0,722.9 L748.2,720.9 L748.4,718.9 L748.5,716.9 L748.7,714.9 L748.9,712.9 L749.0,710.9 L749.2,708.9 L749.4,706.9 L749.6,704.9 L749.7,702.9 L749.9,700.9 L750.1,698.9 L750.3,697.0 L750.4,695.0 L750.6,693.0 L750.8,691.0 L751.0,689.0 L751.1,687.0 L751.3,685.0 L751.5,683.0 L751.7,681.0 L751.9,679.0 L752.1,677.0 L752.3,675.0 L752.4,673.0 L752.6,671.0 L752.8,669.0 L753.0,667.0 L753.2,665.0 L753.4,663.0 L753.6,661.1 L753.8,659.1 L754.0,657.1 L754.3,655.1 L754.5,653.1 L754.7,651.1 L754.9,649.1 L755.1,647.1 L755.3,645.1 L755.6,643.2 L755.8,641.2 L756.0,639.2 L756.3,637.2 L756.5,635.2 L756.7,633.2 L757.0,631.3 L757.2,629.3 L757.5,627.3 L757.8,625.3 L758.0,623.3 L758.3,621.4 L758.5,619.4 L758.8,617.4 L759.1,615.4 L759.4,613.5 L759.7,611.5 L759.9,609.5 L760.2,607.5 L760.5,605.6 L760.8,603.6 L761.1,601.6 L761.4,599.7 L761.7,597.7 L762.1,595.7 L762.4,593.8 L762.7,591.8 L763.0,589.8 L763.4,587.9 L763.7,585.9 L764.0,584.0 L764.4,582.0 L764.7,580.0 L765.1,578.1 L765.4,576.1 L765.8,574.1 L766.1,572.2 L766.5,570.2 L766.9,568.3 L767.2,566.3 L767.6,564.3 L768.0,562.4 L768.3,560.4 L768.7,558.5 L769.1,556.5 L769.5,554.5 L769.9,552.6 L770.3,550.6 L770.7,548.6 L771.1,546.7 L771.4,544.7 L771.8,542.8 L772.2,540.8 L772.7,538.8 L773.1,536.9 L773.5,534.9 L773.9,532.9 L774.3,531.0 L774.7,529.0 L775.1,527.0 L775.5,525.0 L776.0,523.1 L776.4,521.1 L776.8,519.1 L777.2,517.2 L777.7,515.2 L778.1,513.2 L778.5,511.2 L778.9,509.2 L779.4,507.3 L779.8,505.3 L780.2,503.3 L780.7,501.3 L781.1,499.3 L781.6,497.3 L782.0,495.4 L782.4,493.4 L782.9,491.4 L783.3,489.4 L783.8,487.4 L784.2,485.4 L784.7,483.4 L785.1,481.4 L785.6,479.4 L786.1,477.5 L786.6,475.5 L787.2,473.6 L787.9,471.8 L788.6,470.0 L789.4,468.2 L790.2,466.5 L791.2,464.9 L792.2,463.3 L793.4,461.8 L794.6,460.4 L796.0,459.1 L797.5,457.9 L799.1,456.8 L800.9,455.8 L802.7,454.9 L804.5,454.2 L806.5,453.7 L808.4,453.4 L810.3,453.2 L812.2,453.3 L814.0,453.6 L815.8,454.1 L817.6,454.7 L819.2,455.6 L820.8,456.6 L822.3,457.7 L823.8,459.0 L825.1,460.3 L826.4,461.8 L827.5,463.3 L828.6,465.0 L829.7,466.7 L830.6,468.4 L831.6,470.2 L832.4,472.1 L833.3,474.0 L834.1,476.0 L834.9,477.9 L835.6,479.9 L836.4,481.9 L837.1,483.9 L837.8,485.8 L838.6,487.8 L839.3,489.7 L840.1,491.7 L840.9,493.6 L841.6,495.4 L842.4,497.3 L843.2,499.2 L844.0,501.0 L844.8,502.8 L845.5,504.7 L846.3,506.5 L847.1,508.3 L847.9,510.1 L848.7,511.9 L849.5,513.7 L850.2,515.6 L851.0,517.4 L851.8,519.2 L852.5,521.0 L853.3,522.8 L854.0,524.7 L854.8,526.5 L855.5,528.4 L856.2,530.2 L857.0,532.0 L857.7,533.9 L858.4,535.7 L859.1,537.6 L859.8,539.4 L860.5,541.3 L861.2,543.2 L861.9,545.0 L862.6,546.9 L863.3,548.8 L864.0,550.6 L864.7,552.5 L865.4,554.4 L866.0,556.3 L866.7,558.1 L867.4,560.0 L868.0,561.9 L868.7,563.8 L869.3,565.7 L870.0,567.6 L870.6,569.5 L871.2,571.4 L871.9,573.3 L872.5,575.2 L873.1,577.1 L873.7,579.0 L874.4,580.9 L875.0,582.8 L875.6,584.7 L876.2,586.6 L876.8,588.5 L877.4,590.4 L878.0,592.4 L878.6,594.3 L879.2,596.2 L879.8,598.1 L880.3,600.0 L880.9,601.9 L881.5,603.9 L882.1,605.8 L882.6,607.7 L883.2,609.6 L883.8,611.6 L884.3,613.5 L884.9,615.4 L885.4,617.4 L886.0,619.3 L886.5,621.2 L887.1,623.1 L887.6,625.1 L888.2,627.0 L888.7,628.9 L889.2,630.9 L889.8,632.8 L890.3,634.7 L890.8,636.7 L891.4,638.6 L891.9,640.5 L892.4,642.5 L892.9,644.4 L893.4,646.3 L893.9,648.3 L894.4,650.2 L895.0,652.2 L895.5,654.1 L896.0,656.0 L896.5,658.0 L897.0,659.9 L897.5,661.8 L898.0,663.8 L898.4,665.7 L898.9,667.7 L899.4,669.6 L899.9,671.5 L900.4,673.5 L900.9,675.4 L901.4,677.3 L901.8,679.3 L902.3,681.2 L902.8,683.2 L903.3,685.1 L903.7,687.0 L904.2,689.0 L904.7,690.9 L905.1,692.9 L905.6,694.8 L906.1,696.8 L906.5,698.7 L907.0,700.6 L907.5,702.6 L907.9,704.5 L908.4,706.5 L908.8,708.4 L909.3,710.4 L909.7,712.3 L910.2,714.2 L910.6,716.2 L911.1,718.1 L911.5,720.1 L912.0,722.0 L912.4,724.0 L912.9,725.9 L913.3,727.9 L913.8,729.8 L914.2,731.8 L914.6,733.7 L915.1,735.6 L915.5,737.6 L916.0,739.5 L916.4,741.5 L916.8,743.4 L917.3,745.4 L917.7,747.3 L918.2,749.3 L918.6,751.2 L919.0,753.2 L919.5,755.1 L919.9,757.1 L920.3,759.0 L920.8,761.0 L921.2,762.9 L921.6,764.9 L922.1,766.8 L922.5,768.8 L922.9,770.7 L923.3,772.7 L923.8,774.6 L924.2,776.6 L924.6,778.5 L925.1,780.5 L925.5,782.4 L925.9,784.4 L926.3,786.3 L926.8,788.3 L927.2,790.2 L927.6,792.2 L928.0,794.1 L928.5,796.1 L928.9,798.0 L929.3,800.0 L929.8,801.9 L930.2,803.9 L930.6,805.9 L931.0,807.8 L931.5,809.8 L931.9,811.7 L932.3,813.7 L932.7,815.6 L933.1,817.6 L933.6,819.5 L934.0,821.5 L934.4,823.4 L934.8,825.4 L935.3,827.3 L935.7,829.3 L936.1,831.2 L936.5,833.2 L937.0,835.2 L937.4,837.1 L937.8,839.1 L938.2,841.0 L938.7,843.0 L939.1,844.9 L939.5,846.9 L939.9,848.8 L940.4,850.8 L940.8,852.7 L941.2,854.7 L941.6,856.6 L942.1,858.6 L942.5,860.6 L942.9,862.5 L943.3,864.5 L943.8,866.4 L944.2,868.4 L944.6,870.3 L945.1,872.3 L945.5,874.2 L945.9,876.2 L946.3,878.1 L946.8,880.1 L947.2,882.0 L947.6,884.0 L948.1,885.9 L948.5,887.9 L948.9,889.9 L949.4,891.8 L949.8,893.8 L950.2,895.7 L950.7,897.7 L951.1,899.6 L951.5,901.6 L952.0,903.5 L952.4,905.5 L952.8,907.4 L953.3,909.4 L953.7,911.3 L954.1,913.3 L954.6,915.2 L955.0,917.2 L955.5,919.1 L955.9,921.1 L956.3,923.0 L956.8,925.0 L957.2,926.9 L957.7,928.9 L958.1,930.8 L958.5,932.8 L959.0,934.7 L959.4,936.7 L959.9,938.6 L960.3,940.6 L960.8,942.5 L961.2,944.5 L961.7,946.4 L962.1,948.4 L962.6,950.3 L963.0,952.3 L963.5,954.2 L963.9,956.2 L964.4,958.1 L964.8,960.1 L965.3,962.0 L965.8,964.0 L966.2,965.9 L966.7,967.9 L967.1,969.8 L967.6,971.8 L968.1,973.7 L968.5,975.7 L969.0,977.6 L969.5,979.6 L969.9,981.5 L970.4,983.4 L970.9,985.4 L971.3,987.3 L971.8,989.3 L972.3,991.2 L972.7,993.2 L973.2,995.1 L973.7,997.1 L974.2,999.0 L974.7,1000.9 L975.1,1002.9 L975.6,1004.8 L976.1,1006.8 L976.6,1008.7 L977.1,1010.6 L977.6,1012.6 L978.0,1014.5 L978.5,1016.5 L979.0,1018.4 L979.5,1020.3 L980.0,1022.3 L980.5,1024.2 L981.0,1026.2 L981.5,1028.1 L982.0,1030.0 L982.5,1032.0 L983.0,1033.9 L983.5,1035.8 L984.0,1037.8 L984.5,1039.7 L985.0,1041.6 L985.5,1043.6 L986.1,1045.5 L986.6,1047.4 L987.1,1049.4 L987.6,1051.3 L988.1,1053.2 L988.7,1055.2 L989.2,1057.1 L989.7,1059.0 L990.2,1060.9 L990.8,1062.9 L991.3,1064.8 L991.8,1066.7 L992.4,1068.6 L992.9,1070.6 L993.5,1072.5 L994.0,1074.4 L994.6,1076.3 L995.1,1078.2 L995.7,1080.2 L996.2,1082.1 L996.8,1084.0 L997.3,1085.9 L997.9,1087.8 L998.5,1089.8 L999.0,1091.7 L999.6,1093.6 L1000.2,1095.5 L1000.8,1097.4 L1001.3,1099.3 L1001.9,1101.2 L1002.5,1103.1 L1003.1,1105.0 L1003.7,1106.9 L1004.3,1108.8 L1004.9,1110.8 L1005.5,1112.7 L1006.1,1114.6 L1006.7,1116.5 L1007.3,1118.4 L1007.9,1120.3 L1008.5,1122.2 L1009.1,1124.1 L1009.7,1125.9 L1010.4,1127.8 L1011.0,1129.7 L1011.6,1131.6 L1012.2,1133.5 L1012.9,1135.4 L1013.5,1137.3 L1014.2,1139.2 L1014.8,1141.1 L1015.5,1143.0 L1016.1,1144.8 L1016.8,1146.7 L1017.5,1148.6 L1018.1,1150.5 L1018.8,1152.4 L1019.5,1154.3 L1020.2,1156.1 L1020.9,1158.0 L1021.6,1159.9 L1022.3,1161.8 L1023.0,1163.6 L1023.7,1165.5 L1024.4,1167.4 L1025.1,1169.3 L1025.8,1171.1 L1026.6,1173.0 L1027.3,1174.9 L1028.0,1176.7 L1028.8,1178.6 L1029.5,1180.5 L1030.3,1182.3 L1031.1,1184.2 L1031.9,1186.1 L1032.6,1187.9 L1033.4,1189.8 L1034.2,1191.6 L1035.0,1193.5 L1035.9,1195.3 L1036.7,1197.2 L1037.6,1199.0 L1038.4,1200.8 L1039.3,1202.6 L1040.2,1204.4 L1041.1,1206.2 L1042.0,1208.0 L1043.0,1209.7 L1043.9,1211.5 L1044.9,1213.2 L1045.9,1214.9 L1046.9,1216.6 L1048.0,1218.3 L1049.0,1220.0 L1050.1,1221.7 L1051.2,1223.3 L1052.3,1225.0 L1053.5,1226.6 L1054.6,1228.2 L1055.8,1229.7 L1057.1,1231.3 L1058.3,1232.8 L1059.6,1234.3 L1060.9,1235.8 L1062.2,1237.3 L1063.6,1238.7 L1065.0,1240.1 L1066.4,1241.5 L1067.8,1242.9 L1069.3,1244.2 L1070.7,1245.5 L1072.2,1246.8 L1073.8,1248.1 L1075.3,1249.4 L1076.9,1250.6 L1078.4,1251.8 L1080.1,1253.0 L1081.7,1254.2 L1083.3,1255.4 L1085.0,1256.5 L1086.6,1257.6 L1088.3,1258.7 L1090.0,1259.8 L1091.8,1260.8 L1093.5,1261.8 L1095.2,1262.8 L1097.0,1263.8 L1098.8,1264.8 L1100.6,1265.7 L1102.4,1266.6 L1104.2,1267.5 L1106.0,1268.4 L1107.8,1269.2 L1109.6,1270.1 L1111.5,1270.9 L1113.3,1271.7 L1115.2,1272.5 L1117.0,1273.2 L1118.9,1274.0 L1120.8,1274.7 L1122.6,1275.4 L1124.5,1276.2 L1126.4,1276.9 L1128.2,1277.6 L1130.1,1278.3 L1131.9,1279.1 L1133.8,1279.8 L1135.6,1280.5 L1137.4,1281.3 L1139.3,1282.1 L1141.1,1282.9 L1142.9,1283.7 L1144.6,1284.5 L1146.4,1285.4 L1148.2,1286.2 L1149.9,1287.1 L1151.6,1288.1 L1153.3,1289.0 L1155.0,1290.1 L1156.6,1291.1 L1158.2,1292.2 L1159.8,1293.3 L1161.4,1294.5 L1163.0,1295.7 L1164.5,1297.0 L1166.0,1298.3 L1167.4,1299.7 L1168.8,1301.1 L1170.2,1302.6 L1171.6,1304.1 L1172.9,1305.6 L1174.2,1307.2 L1175.5,1308.8 L1176.8,1310.5 L1178.0,1312.1 L1179.2,1313.8 L1180.3,1315.5 L1181.5,1317.3 L1182.5,1319.0 L1183.6,1320.7 L1184.6,1322.5 L1185.7,1324.2 L1186.6,1326.0 L1187.6,1327.8 L1188.5,1329.5 L1189.4,1331.3 L1190.3,1333.0 L1191.2,1334.8 L1192.1,1336.5 L1193.0,1338.2 L1193.8,1340.0 L1194.7,1341.7 L1195.6,1343.5 L1196.5,1345.2 L1197.4,1346.9 L1198.3,1348.6 L1199.2,1350.4 L1200.1,1352.1 L1201.1,1353.8 L1202.0,1355.5 L1203.0,1357.2 L1204.0,1358.9 L1205.0,1360.6 L1206.1,1362.3 L1207.1,1364.0 L1208.1,1365.6 L1209.2,1367.3 L1210.2,1369.0 L1211.3,1370.7 L1212.4,1372.3 L1213.5,1374.0 L1214.6,1375.7 L1215.7,1377.4 L1216.8,1379.0 L1217.9,1380.7 L1219.0,1382.4 L1220.1,1384.1 L1221.2,1385.7 L1222.3,1387.4 L1223.4,1389.1 L1224.6,1390.8 L1225.7,1392.4 L1226.8,1394.1 L1227.9,1395.8 L1229.0,1397.5 L1230.1,1399.2 L1231.2,1400.9 L1232.3,1402.6 L1233.3,1404.3 L1234.4,1406.0 L1235.5,1407.7 L1236.5,1409.4 L1237.6,1411.1 L1238.6,1412.8 L1239.7,1414.5 L1240.7,1416.2 L1241.8,1418.0 L1242.8,1419.7 L1243.9,1421.4 L1244.9,1423.1 L1245.9,1424.8 L1246.9,1426.5 L1248.0,1428.3 L1249.0,1430.0 L1250.0,1431.7 L1251.1,1433.4 L1252.1,1435.1 L1253.1,1436.8 L1254.1,1438.5 L1255.2,1440.2 L1256.2,1441.9 L1257.3,1443.6 L1258.3,1445.3 L1259.3,1447.0 L1260.4,1448.7 L1261.4,1450.4 L1262.5,1452.0 L1263.5,1453.7 L1264.6,1455.4 L1265.7,1457.0 L1266.8,1458.7 L1267.8,1460.3 L1268.9,1462.0 L1270.0,1463.6 L1271.2,1465.2 L1272.3,1466.9 L1273.4,1468.5 L1274.6,1470.1 L1275.7,1471.7 L1276.9,1473.3 L1278.1,1475.0 L1279.4,1476.6 L1280.6,1478.2 L1281.9,1479.8 L1283.2,1481.4 L1284.5,1483.0 L1285.9,1484.6 L1287.2,1486.2 L1288.6,1487.8 L1290.1,1489.3 L1291.5,1490.8 L1293.0,1492.2 L1294.5,1493.6 L1296.1,1494.9 L1297.7,1496.1 L1299.3,1497.3 L1300.9,1498.3 L1302.6,1499.2 L1304.4,1500.1 L1306.1,1500.8 L1307.9,1501.3 L1309.8,1501.7 L1311.6,1502.0 L1313.5,1502.2 L1315.4,1502.3 L1317.4,1502.2 L1319.3,1502.0 L1321.2,1501.7 L1323.1,1501.3 L1325.0,1500.8 L1326.9,1500.2 L1328.8,1499.5 L1330.6,1498.7 L1332.4,1497.8 L1334.2,1496.9 L1335.9,1495.9 L1337.5,1494.8 L1339.1,1493.6 L1340.7,1492.4 L1342.2,1491.1 L1343.7,1489.8 L1345.1,1488.4 L1346.5,1487.0 L1347.8,1485.5 L1349.2,1484.0 L1350.5,1482.5 L1351.8,1480.9 L1353.1,1479.3 L1354.3,1477.7 L1355.6,1476.2 L1356.8,1474.6 L1358.1,1473.0 L1359.3,1471.4 L1360.6,1469.8 L1361.8,1468.2 L1363.1,1466.6 L1364.3,1465.0 L1365.6,1463.4 L1366.9,1461.8 L1368.1,1460.3 L1369.3,1458.7 L1370.6,1457.1 L1371.8,1455.5 L1373.1,1453.9 L1374.3,1452.3 L1375.5,1450.8 L1376.8,1449.2 L1378.0,1447.6 L1379.2,1446.0 L1380.4,1444.4 L1381.6,1442.8 L1382.8,1441.2 L1384.0,1439.6 L1385.2,1438.0 L1386.4,1436.4 L1387.6,1434.8 L1388.7,1433.2 L1389.9,1431.6 L1391.1,1429.9 L1392.2,1428.3 L1393.3,1426.7 L1394.5,1425.0 L1395.6,1423.4 L1396.7,1421.8 L1397.8,1420.1 L1398.9,1418.4 L1399.9,1416.8 L1401.0,1415.1 L1402.1,1413.4 L1403.2,1411.8 L1404.2,1410.1 L1405.3,1408.4 L1406.3,1406.7 L1407.4,1405.1 L1408.5,1403.4 L1409.5,1401.7 L1410.6,1400.0 L1411.6,1398.3 L1412.7,1396.7 L1413.8,1395.0 L1414.9,1393.3 L1415.9,1391.6 L1417.0,1390.0 L1418.1,1388.3 L1419.2,1386.6 L1420.3,1385.0 L1421.4,1383.3 L1422.6,1381.6 L1423.7,1380.0 L1424.9,1378.3 L1426.0,1376.7 L1427.2,1375.1 L1428.4,1373.4 L1429.6,1371.8 L1430.9,1370.2 L1432.1,1368.6 L1433.4,1367.0 L1434.6,1365.4 L1435.9,1363.9 L1437.3,1362.3 L1438.6,1360.8 L1439.9,1359.2 L1441.3,1357.7 L1442.7,1356.3 L1444.1,1354.8 L1445.5,1353.4 L1447.0,1352.0 L1448.4,1350.6 L1449.9,1349.2 L1451.4,1347.9 L1453.0,1346.6 L1454.5,1345.4 L1456.1,1344.2 L1457.7,1343.0 L1459.3,1341.8 L1460.9,1340.7 L1462.6,1339.7 L1464.2,1338.6 L1465.9,1337.7 L1467.7,1336.7 L1469.4,1335.9 L1471.2,1335.0 L1473.0,1334.2 L1474.8,1333.5 L1476.6,1332.8 L1478.5,1332.2 L1480.4,1331.7 L1482.3,1331.1 L1484.2,1330.7 L1486.2,1330.2 L1488.2,1329.9 L1490.1,1329.5 L1492.1,1329.2 L1494.1,1328.9 L1496.2,1328.6 L1498.2,1328.4 L1500.2,1328.1 L1502.3,1327.9 L1504.3,1327.7 L1506.3,1327.5 L1508.4,1327.3 L1510.4,1327.1 L1512.4,1326.8 L1514.5,1326.6 L1516.5,1326.4 L1518.5,1326.1 L1520.5,1325.8 L1522.5,1325.5 L1524.5,1325.2 L1526.4,1324.8 L1528.4,1324.4 L1530.3,1324.0 L1532.2,1323.5 L1534.1,1322.9 L1535.9,1322.3 L1537.7,1321.7 L1539.5,1321.0 L1541.3,1320.2 L1543.0,1319.4 L1544.8,1318.5 L1546.4,1317.6 L1548.1,1316.6 L1549.7,1315.6 L1551.3,1314.5 L1552.9,1313.4 L1554.5,1312.2 L1556.0,1311.0 L1557.5,1309.7 L1559.0,1308.4 L1560.5,1307.1 L1561.9,1305.7 L1563.3,1304.3 L1564.7,1302.9 L1566.0,1301.4 L1567.4,1299.9 L1568.7,1298.4 L1570.0,1296.8 L1571.3,1295.3 L1572.5,1293.7 L1573.8,1292.1 L1575.0,1290.4 L1576.2,1288.8 L1577.3,1287.1 L1578.5,1285.4 L1579.6,1283.7 L1580.7,1282.0 L1581.8,1280.3 L1582.9,1278.6 L1584.0,1276.9 L1585.0,1275.1 L1586.0,1273.4 L1587.1,1271.7 L1588.0,1269.9 L1589.0,1268.2 L1590.0,1266.4 L1591.0,1264.7 L1591.9,1262.9 L1592.8,1261.1 L1593.8,1259.4 L1594.7,1257.6 L1595.6,1255.8 L1596.5,1254.0 L1597.4,1252.3 L1598.3,1250.5 L1599.2,1248.7 L1600.0,1246.9 L1600.9,1245.1 L1601.8,1243.3 L1602.6,1241.5 L1603.5,1239.8 L1604.4,1238.0 L1605.2,1236.2 L1606.1,1234.4 L1607.0,1232.6 L1607.9,1230.8 L1608.7,1229.0 L1609.6,1227.2 L1610.5,1225.4 L1611.4,1223.7 L1612.3,1221.9 L1613.2,1220.1 L1614.1,1218.3 L1615.0,1216.5 L1615.9,1214.8 L1616.8,1213.0 L1617.7,1211.2 L1618.7,1209.4 L1619.6,1207.7 L1620.5,1205.9 L1621.4,1204.1 L1622.4,1202.3 L1623.3,1200.6 L1624.2,1198.8 L1625.1,1197.0 L1626.0,1195.2 L1626.9,1193.4 L1627.9,1191.7 L1628.8,1189.9 L1629.7,1188.1 L1630.6,1186.3 L1631.4,1184.5 L1632.3,1182.7 L1633.2,1180.9 L1634.1,1179.1 L1634.9,1177.3 L1635.8,1175.5 L1636.6,1173.6 L1637.4,1171.8 L1638.2,1170.0 L1639.1,1168.2 L1639.8,1166.3 L1640.6,1164.5 L1641.4,1162.6 L1642.1,1160.8 L1642.9,1158.9 L1643.6,1157.1 L1644.3,1155.2 L1645.1,1153.3 L1645.8,1151.5 L1646.5,1149.6 L1647.2,1147.7 L1647.9,1145.8 L1648.6,1143.9 L1649.2,1142.1 L1649.9,1140.2 L1650.6,1138.3 L1651.3,1136.4 L1651.9,1134.5 L1652.6,1132.6 L1653.3,1130.7 L1653.9,1128.9 L1654.6,1127.0 L1655.3,1125.1 L1656.0,1123.2 L1656.6,1121.3 L1657.3,1119.4 L1658.0,1117.6 L1658.7,1115.7 L1659.4,1113.8 L1660.1,1112.0 L1660.8,1110.1 L1661.5,1108.2 L1662.2,1106.4 L1663.0,1104.5 L1663.7,1102.7 L1664.4,1100.8 L1665.2,1099.0 L1666.0,1097.1 L1666.8,1095.3 L1667.6,1093.5 L1668.4,1091.7 L1669.2,1089.9 L1670.0,1088.1 L1670.9,1086.3 L1671.7,1084.5 L1672.6,1082.7 L1673.5,1080.9 L1674.4,1079.2 L1675.4,1077.4 L1676.3,1075.6 L1677.3,1073.9 L1678.3,1072.2 L1679.3,1070.5 L1680.4,1068.7 L1681.4,1067.1 L1682.5,1065.4 L1683.6,1063.7 L1684.8,1062.0 L1685.9,1060.4 L1687.1,1058.7 L1688.3,1057.1 L1689.5,1055.5 L1690.8,1053.9 L1692.1,1052.3 L1693.4,1050.7 L1694.8,1049.2 L1696.2,1047.7 L1697.7,1046.2 L1699.2,1044.8 L1700.7,1043.4 L1702.3,1042.1 L1704.0,1040.9 L1705.7,1039.8 L1707.4,1038.7 L1709.2,1037.8 L1711.0,1037.0 L1712.8,1036.4 L1714.6,1035.9 L1716.4,1035.6 L1718.2,1035.5 L1720.0,1035.5 L1721.8,1035.7 L1723.6,1036.1 L1725.4,1036.6 L1727.1,1037.2 L1728.9,1038.0 L1730.6,1038.8 L1732.3,1039.7 L1734.0,1040.8 L1735.6,1041.9 L1737.3,1043.1 L1738.9,1044.3 L1740.4,1045.6 L1742.0,1047.0 L1743.5,1048.4 L1744.9,1049.8 L1746.4,1051.2 L1747.8,1052.7 L1749.2,1054.1 L1750.5,1055.6 L1751.9,1057.2 L1753.2,1058.7 L1754.4,1060.3 L1755.7,1061.9 L1756.9,1063.5 L1758.1,1065.1 L1759.3,1066.7 L1760.4,1068.4 L1761.6,1070.0 L1762.7,1071.7 L1763.8,1073.3 L1764.9,1075.0 L1766.0,1076.7 L1767.1,1078.4 L1768.1,1080.1 L1769.2,1081.8 L1770.2,1083.5 L1771.2,1085.2 L1772.2,1086.9 L1773.3,1088.6 L1774.3,1090.3 L1775.3,1092.0 L1776.2,1093.7 L1777.2,1095.5 L1778.2,1097.2 L1779.2,1098.9 L1780.2,1100.6 L1781.2,1102.4 L1782.2,1104.1 L1783.2,1105.8 L1784.1,1107.6 L1785.1,1109.3 L1786.1,1111.0 L1787.1,1112.8 L1788.1,1114.5 L1789.1,1116.2 L1790.1,1118.0 L1791.1,1119.7 L1792.1,1121.5 L1793.1,1123.2 L1794.1,1124.9 L1795.1,1126.6 L1796.1,1128.4 L1797.1,1130.1 L1798.2,1131.8 L1799.2,1133.5 L1800.2,1135.3 L1801.2,1137.0 L1802.3,1138.7 L1803.3,1140.4 L1804.4,1142.1 L1805.4,1143.8 L1806.5,1145.5 L1807.6,1147.2 L1808.6,1148.9 L1809.7,1150.6 L1810.8,1152.3 L1811.9,1153.9 L1813.0,1155.6 L1814.1,1157.3 L1815.2,1158.9 L1816.4,1160.6 L1817.5,1162.2 L1818.6,1163.9 L1819.8,1165.5 L1821.0,1167.1 L1822.1,1168.7 L1823.3,1170.4 L1824.5,1172.0 L1825.7,1173.6 L1826.9,1175.1 L1828.2,1176.7 L1829.4,1178.3 L1830.6,1179.9 L1831.9,1181.4 L1833.2,1183.0 L1834.4,1184.5 L1835.7,1186.0 L1837.0,1187.6 L1838.4,1189.1 L1839.7,1190.6 L1841.0,1192.0 L1842.4,1193.5 L1843.8,1195.0 L1845.2,1196.5 L1846.6,1197.9 L1848.0,1199.3 L1849.4,1200.7 L1850.9,1202.1 L1852.4,1203.5 L1853.9,1204.8 L1855.4,1206.0 L1857.0,1207.1 L1858.7,1208.2 L1860.4,1209.1 L1862.1,1209.8 L1864.0,1210.4 L1865.8,1210.9 L1867.7,1211.3 L1869.6,1211.5 L1871.6,1211.5 L1873.5,1211.4 L1875.5,1211.2 L1877.4,1210.8 L1879.3,1210.3 L1881.1,1209.7 L1883.0,1209.0 L1884.9,1208.2 L1886.7,1207.4 L1888.5,1206.5 L1890.4,1205.5 L1892.2,1204.6 L1894.0,1203.6 L1895.8,1202.6 L1897.6,1201.7 L1899.5,1200.8 L1901.3,1199.9 L1903.1,1199.1 L1905.0,1198.5 L1906.8,1197.9 L1908.7,1197.3 L1910.6,1196.9 L1912.5,1196.6 L1914.4,1196.4 L1916.3,1196.2 L1918.2,1196.1 L1920.2,1196.0 L1922.1,1196.1 L1924.0,1196.1 L1926.0,1196.2 L1928.0,1196.4 L1929.9,1196.6 L1931.9,1196.8 L1933.9,1197.1 L1935.9,1197.3 L1937.9,1197.6 L1939.9,1197.9 L1941.9,1198.2 L1943.8,1198.6 L1945.8,1198.9 L1947.8,1199.3 L1949.7,1199.7 L1951.6,1200.1 L1953.5,1200.5 L1955.4,1201.0 L1957.2,1201.4 L1959.0,1201.9 L1960.7,1202.5 L1962.4,1203.0 L1964.1,1203.6 L1965.7,1204.2 L1967.2,1204.9 L1968.7,1205.6 L1970.1,1206.3 L1971.5,1207.2 L1972.9,1208.1 L1974.2,1209.1 L1975.4,1210.2 L1976.6,1211.4 L1977.7,1212.7 L1978.9,1214.1 L1979.9,1215.6 L1981.0,1217.2 L1982.1,1218.8 L1983.1,1220.4 L1984.1,1222.1 L1985.1,1223.8 L1986.2,1225.6 L1987.2,1227.3 L1988.2,1229.0 L1989.2,1230.8 L1990.2,1232.6 L1991.2,1234.4 L1992.2,1236.2 L1993.2,1238.0 L1994.1,1239.8 L1995.1,1241.6 L1996.1,1243.5 L1997.0,1245.3 L1997.9,1247.1 L1998.8,1248.9 L1999.7,1250.8 L2000.5,1252.6 L2001.4,1254.4 L2002.2,1256.3 L2003.0,1258.1 L2003.9,1259.9 L2004.7,1261.7 L2005.4,1263.6 L2006.2,1265.4 L2007.0,1267.2 L2007.8,1269.0 L2008.5,1270.8 L2009.3,1272.7 L2010.1,1274.5 L2010.8,1276.3 L2011.6,1278.1 L2012.3,1280.0 L2013.1,1281.8 L2013.8,1283.6 L2014.6,1285.4 L2015.4,1287.3 L2016.2,1289.1 L2016.9,1290.9 L2017.7,1292.7 L2018.5,1294.6 L2019.4,1296.4 L2020.2,1298.2 L2021.0,1300.1 L2021.9,1301.9 L2022.8,1303.8 L2023.7,1305.6" stroke="#404040" stroke-dasharray="19.5 16.9"/>
<path d="M205.0,1440.4 L205.7,1442.4 L206.4,1444.3 L207.1,1446.2 L207.8,1448.2 L208.5,1450.1 L209.2,1452.0 L209.9,1453.9 L210.6,1455.9 L211.3,1457.8 L212.0,1459.7 L212.7,1461.5 L213.5,1463.4 L214.2,1465.3 L214.9,1467.2 L215.7,1469.1 L216.4,1470.9 L217.1,1472.8 L217.9,1474.6 L218.6,1476.5 L219.4,1478.3 L220.2,1480.2 L220.9,1482.0 L221.7,1483.8 L222.5,1485.6 L223.3,1487.5 L224.1,1489.3 L224.9,1491.1 L225.7,1492.9 L226.5,1494.7 L227.3,1496.5 L228.1,1498.3 L229.0,1500.1 L229.8,1501.9 L230.7,1503.7 L231.5,1505.4 L232.4,1507.2 L233.3,1509.0 L234.1,1510.8 L235.0,1512.5 L235.9,1514.3 L236.8,1516.1 L237.7,1517.8 L238.6,1519.6 L239.6,1521.4 L240.5,1523.1 L241.4,1524.9 L242.4,1526.6 L243.4,1528.4 L244.3,1530.1 L245.3,1531.9 L246.3,1533.6 L247.3,1535.3 L248.3,1537.1 L249.3,1538.8 L250.4,1540.6 L251.4,1542.3 L252.5,1544.1 L253.5,1545.8 L254.6,1547.5 L255.7,1549.3 L256.8,1551.0 L257.9,1552.7 L259.0,1554.5 L260.2,1556.2 L261.3,1557.9 L262.5,1559.7 L263.6,1561.4 L264.8,1563.1 L266.0,1564.8 L267.3,1566.4 L268.6,1568.0 L269.8,1569.5 L271.2,1571.0 L272.5,1572.5 L273.9,1573.9 L275.3,1575.2 L276.8,1576.4 L278.3,1577.5 L279.9,1578.6 L281.5,1579.5 L283.1,1580.3 L284.8,1581.1 L286.6,1581.7 L288.3,1582.3 L290.2,1582.8 L292.0,1583.2 L293.9,1583.5 L295.8,1583.8 L297.7,1584.0 L299.7,1584.2 L301.7,1584.3 L303.6,1584.4 L305.6,1584.5 L307.7,1584.6 L309.7,1584.6 L311.7,1584.6 L313.7,1584.6 L315.7,1584.7 L317.7,1584.7 L319.7,1584.7 L321.7,1584.7 L323.8,1584.7 L325.8,1584.7 L327.8,1584.7 L329.8,1584.7 L331.8,1584.7 L333.8,1584.7 L335.8,1584.7 L337.8,1584.7 L339.8,1584.7 L341.8,1584.7 L343.8,1584.7 L345.9,1584.7 L347.9,1584.7 L349.9,1584.7 L351.9,1584.7 L353.9,1584.7 L355.9,1584.7 L357.9,1584.6 L359.9,1584.6 L361.9,1584.6 L363.9,1584.6 L365.9,1584.6 L367.9,1584.6 L369.9,1584.6 L371.9,1584.5 L373.9,1584.5 L375.9,1584.5 L377.9,1584.5 L379.9,1584.5 L381.9,1584.5 L383.9,1584.5 L385.9,1584.5 L387.9,1584.5 L389.9,1584.5 L391.9,1584.5 L393.9,1584.4 L395.9,1584.4 L397.9,1584.4 L399.9,1584.4 L401.9,1584.4 L403.9,1584.4 L405.9,1584.4 L407.9,1584.4 L409.9,1584.4 L411.9,1584.4 L413.9,1584.4 L415.9,1584.4 L417.9,1584.4 L419.9,1584.4 L421.9,1584.4 L423.9,1584.4 L425.9,1584.4 L427.9,1584.4 L429.8,1584.4 L431.8,1584.4 L433.8,1584.4 L435.8,1584.4 L437.8,1584.4 L439.8,1584.4 L441.8,1584.4 L443.8,1584.4 L445.8,1584.4 L447.8,1584.4 L449.8,1584.4 L451.8,1584.4 L453.8,1584.4 L455.8,1584.4 L457.8,1584.5 L459.8,1584.5 L461.8,1584.5 L463.8,1584.5 L465.8,1584.5 L467.8,1584.5 L469.8,1584.5 L471.8,1584.5 L473.8,1584.5 L475.8,1584.5 L477.8,1584.5 L479.8,1584.5 L481.8,1584.5 L483.8,1584.5 L485.8,1584.5 L487.8,1584.5 L489.9,1584.5 L491.9,1584.5 L493.9,1584.5 L495.9,1584.6 L497.9,1584.6 L499.9,1584.6 L501.9,1584.6 L503.9,1584.6 L505.9,1584.6 L507.9,1584.6 L509.9,1584.6 L511.9,1584.6 L513.9,1584.6 L516.0,1584.6 L518.0,1584.6 L520.0,1584.6 L522.0,1584.6 L524.0,1584.6 L526.0,1584.6 L528.0,1584.6 L530.0,1584.6 L532.0,1584.6 L534.0,1584.6 L536.0,1584.6 L538.0,1584.6 L540.0,1584.6 L542.0,1584.6 L544.0,1584.6 L546.0,1584.6 L548.0,1584.6 L550.0,1584.5 L552.0,1584.5 L554.0,1584.5 L556.0,1584.5 L557.9,1584.5 L559.9,1584.4 L561.9,1584.4 L563.9,1584.4 L565.8,1584.4 L567.8,1584.3 L569.8,1584.3 L571.7,1584.3 L573.7,1584.2 L575.7,1584.2 L577.6,1584.2 L579.6,1584.2 L581.6,1584.1 L583.6,1584.1 L585.6,1584.1 L587.5,1584.2 L589.6,1584.2 L591.6,1584.2 L593.6,1584.3 L595.7,1584.4 L597.7,1584.5 L599.8,1584.6 L601.9,1584.7 L604.0,1584.9 L606.2,1585.0 L608.3,1585.1 L610.4,1585.3 L612.5,1585.4 L614.6,1585.4 L616.7,1585.5 L618.7,1585.4 L620.7,1585.3 L622.7,1585.2 L624.7,1584.9 L626.5,1584.6 L628.4,1584.2 L630.1,1583.6 L631.8,1583.0 L633.5,1582.2 L635.0,1581.3 L636.5,1580.2 L638.0,1579.1 L639.3,1577.9 L640.6,1576.5 L641.9,1575.1 L643.1,1573.7 L644.2,1572.1 L645.3,1570.5 L646.4,1568.8 L647.4,1567.1 L648.3,1565.3 L649.3,1563.5 L650.1,1561.7 L651.0,1559.9 L651.8,1558.0 L652.6,1556.2 L653.3,1554.3 L654.0,1552.4 L654.7,1550.5 L655.4,1548.6 L656.0,1546.7 L656.6,1544.8 L657.2,1542.8 L657.8,1540.9 L658.4,1539.0 L658.9,1537.0 L659.4,1535.1 L660.0,1533.2 L660.5,1531.2 L661.0,1529.3 L661.5,1527.3 L661.9,1525.4 L662.4,1523.4 L662.9,1521.4 L663.3,1519.5 L663.8,1517.5 L664.2,1515.6 L664.7,1513.6 L665.1,1511.7 L665.5,1509.7 L666.0,1507.8 L666.4,1505.8 L666.8,1503.8 L667.2,1501.9 L667.6,1499.9 L668.0,1497.9 L668.3,1496.0 L668.7,1494.0 L669.1,1492.1 L669.5,1490.1 L669.8,1488.1 L670.2,1486.2 L670.5,1484.2 L670.9,1482.2 L671.2,1480.3 L671.6,1478.3 L671.9,1476.3 L672.2,1474.3 L672.6,1472.4 L672.9,1470.4 L673.2,1468.4 L673.5,1466.5 L673.8,1464.5 L674.1,1462.5 L674.5,1460.5 L674.8,1458.6 L675.1,1456.6 L675.4,1454.6 L675.6,1452.6 L675.9,1450.7 L676.2,1448.7 L676.5,1446.7 L676.8,1444.7 L677.1,1442.7 L677.3,1440.8 L677.6,1438.8 L677.9,1436.8 L678.2,1434.8 L678.4,1432.8 L678.7,1430.9 L678.9,1428.9 L679.2,1426.9 L679.5,1424.9 L679.7,1422.9 L680.0,1421.0 L680.2,1419.0 L680.4,1417.0 L680.7,1415.0 L680.9,1413.0 L681.2,1411.0 L681.4,1409.0 L681.6,1407.1 L681.9,1405.1 L682.1,1403.1 L682.3,1401.1 L682.6,1399.1 L682.8,1397.1 L683.0,1395.1 L683.2,1393.2 L683.4,1391.2 L683.7,1389.2 L683.9,1387.2 L684.1,1385.2 L684.3,1383.2 L684.5,1381.2 L684.7,1379.2 L684.9,1377.2 L685.2,1375.3 L685.4,1373.3 L685.6,1371.3 L685.8,1369.3 L686.0,1367.3 L686.2,1365.3 L686.4,1363.3 L686.6,1361.3 L686.8,1359.3 L687.0,1357.3 L687.2,1355.4 L687.4,1353.4 L687.6,1351.4 L687.8,1349.4 L688.0,1347.4 L688.2,1345.4 L688.4,1343.4 L688.6,1341.4 L688.8,1339.4 L689.0,1337.4 L689.2,1335.4 L689.4,1333.5 L689.5,1331.5 L689.7,1329.5 L689.9,1327.5 L690.1,1325.5 L690.3,1323.5 L690.5,1321.5 L690.7,1319.5 L690.9,1317.5 L691.1,1315.5 L691.3,1313.5 L691.5,1311.5 L691.7,1309.6 L691.9,1307.6 L692.0,1305.6 L692.2,1303.6 L692.4,1301.6 L692.6,1299.6 L692.8,1297.6 L693.0,1295.6 L693.2,1293.6 L693.4,1291.6 L693.6,1289.6 L693.8,1287.6 L693.9,1285.6 L694.1,1283.7 L694.3,1281.7 L694.5,1279.7 L694.7,1277.7 L694.9,1275.7 L695.1,1273.7 L695.3,1271.7 L695.4,1269.7 L695.6,1267.7 L695.8,1265.7 L696.0,1263.7 L696.2,1261.7 L696.4,1259.7 L696.6,1257.8 L696.7,1255.8 L696.9,1253.8 L697.1,1251.8 L697.3,1249.8 L697.5,1247.8 L697.7,1245.8 L697.8,1243.8 L698.0,1241.8 L698.2,1239.8 L698.4,1237.8 L698.6,1235.8 L698.8,1233.8 L698.9,1231.9 L699.1,1229.9 L699.3,1227.9 L699.5,1225.9 L699.7,1223.9 L699.9,1221.9 L700.0,1219.9 L700.2,1217.9 L700.4,1215.9 L700.6,1213.9 L700.8,1211.9 L701.0,1209.9 L701.1,1207.9 L701.3,1205.9 L701.5,1204.0 L701.7,1202.0 L701.9,1200.0 L702.0,1198.0 L702.2,1196.0 L702.4,1194.0 L702.6,1192.0 L702.8,1190.0 L702.9,1188.0 L703.1,1186.0 L703.3,1184.0 L703.5,1182.0 L703.7,1180.0 L703.8,1178.1 L704.0,1176.1 L704.2,1174.1 L704.4,1172.1 L704.6,1170.1 L704.7,1168.1 L704.9,1166.1 L705.1,1164.1 L705.3,1162.1 L705.4,1160.1 L705.6,1158.1 L705.8,1156.1 L706.0,1154.1 L706.2,1152.1 L706.3,1150.2 L706.5,1148.2 L706.7,1146.2 L706.9,1144.2 L707.1,1142.2 L707.2,1140.2 L707.4,1138.2 L707.6,1136.2 L707.8,1134.2 L707.9,1132.2 L708.1,1130.2 L708.3,1128.2 L708.5,1126.2 L708.7,1124.3 L708.8,1122.3 L709.0,1120.3 L709.2,1118.3 L709.4,1116.3 L709.5,1114.3 L709.7,1112.3 L709.9,1110.3 L710.1,1108.3 L710.3,1106.3 L710.4,1104.3 L710.6,1102.3 L710.8,1100.4 L711.0,1098.4 L711.1,1096.4 L711.3,1094.4 L711.5,1092.4 L711.7,1090.4 L711.8,1088.4 L712.0,1086.4 L712.2,1084.4 L712.4,1082.4 L712.6,1080.4 L712.7,1078.4 L712.9,1076.5 L713.1,1074.5 L713.3,1072.5 L713.4,1070.5 L713.6,1068.5 L713.8,1066.5 L714.0,1064.5 L714.2,1062.5 L714.3,1060.5 L714.5,1058.5 L714.7,1056.5 L714.9,1054.5 L715.0,1052.6 L715.2,1050.6 L715.4,1048.6 L715.6,1046.6 L715.8,1044.6 L715.9,1042.6 L716.1,1040.6 L716.3,1038.6 L716.5,1036.6 L716.6,1034.6 L716.8,1032.6 L717.0,1030.7 L717.2,1028.7 L717.4,1026.7 L717.5,1024.7 L717.7,1022.7 L717.9,1020.7 L718.1,1018.7 L718.2,1016.7 L718.4,1014.7 L718.6,1012.7 L718.8,1010.7 L718.9,1008.8 L719.1,1006.8 L719.3,1004.8 L719.5,1002.8 L719.7,1000.8 L719.8,998.8 L720.0,996.8 L720.2,994.8 L720.4,992.8 L720.5,990.8 L720.7,988.8 L720.9,986.9 L721.1,984.9 L721.3,982.9 L721.4,980.9 L721.6,978.9 L721.8,976.9 L722.0,974.9 L722.1,972.9 L722.3,970.9 L722.5,968.9 L722.7,966.9 L722.8,965.0 L723.0,963.0 L723.2,961.0 L723.4,959.0 L723.5,957.0 L723.7,955.0 L723.9,953.0 L724.1,951.0 L724.3,949.0 L724.4,947.0 L724.6,945.0 L724.8,943.1 L725.0,941.1 L725.1,939.1 L725.3,937.1 L725.5,935.1 L725.7,933.1 L725.8,931.1 L726.0,929.1 L726.2,927.1 L726.4,925.1 L726.5,923.1 L726.7,921.1 L726.9,919.2 L727.1,917.2 L727.2,915.2 L727.4,913.2 L727.6,911.2 L727.8,909.2 L727.9,907.2 L728.1,905.2 L728.3,903.2 L728.5,901.2 L728.6,899.2 L728.8,897.2 L729.0,895.2 L729.2,893.3 L729.3,891.3 L729.5,889.3 L729.7,887.3 L729.9,885.3 L730.0,883.3 L730.2,881.3 L730.4,879.3 L730.6,877.3 L730.7,875.3 L730.9,873.3 L731.1,871.3 L731.2,869.3 L731.4,867.4 L731.6,865.4 L731.8,863.4 L731.9,861.4 L732.1,859.4 L732.3,857.4 L732.5,855.4 L732.6,853.4 L732.8,851.4 L733.0,849.4 L733.1,847.4 L733.3,845.4 L733.5,843.4 L733.7,841.4 L733.8,839.4 L734.0,837.4 L734.2,835.5 L734.3,833.5 L734.5,831.5 L734.7,829.5 L734.9,827.5 L735.0,825.5 L735.2,823.5 L735.4,821.5 L735.5,819.5 L735.7,817.5 L735.9,815.5 L736.1,813.5 L736.2,811.5 L736.4,809.5 L736.6,807.5 L736.7,805.5 L736.9,803.5 L737.1,801.5 L737.2,799.5 L737.4,797.6 L737.6,795.6 L737.8,793.6 L737.9,791.6 L738.1,789.6 L738.3,787.6 L738.4,785.6 L738.6,783.6 L738.8,781.6 L738.9,779.6 L739.1,777.6 L739.3,775.6 L739.5,773.6 L739.6,771.6 L739.8,769.6 L740.0,767.6 L740.1,765.6 L740.3,763.6 L740.5,761.6 L740.7,759.6 L740.8,757.6 L741.0,755.7 L741.2,753.7 L741.4,751.7 L741.5,749.7 L741.7,747.7 L741.9,745.7 L742.0,743.7 L742.2,741.7 L742.4,739.7 L742.6,737.7 L742.7,735.7 L742.9,733.7 L743.1,731.7 L743.3,729.7 L743.4,727.7 L743.6,725.7 L743.8,723.7 L744.0,721.7 L744.1,719.7 L744.3,717.8 L744.5,715.8 L744.7,713.8 L744.9,711.8 L745.0,709.8 L745.2,707.8 L745.4,705.8 L745.6,703.8 L745.8,701.8 L745.9,699.8 L746.1,697.8 L746.3,695.8 L746.5,693.8 L746.7,691.8 L746.8,689.8 L747.0,687.9 L747.2,685.9 L747.4,683.9 L747.6,681.9 L747.8,679.9 L748.0,677.9 L748.1,675.9 L748.3,673.9 L748.5,671.9 L748.7,669.9 L748.9,667.9 L749.1,665.9 L749.3,664.0 L749.5,662.0 L749.6,660.0 L749.8,658.0 L750.0,656.0 L750.2,654.0 L750.4,652.0 L750.6,650.0 L750.8,648.0 L751.0,646.0 L751.2,644.1 L751.4,642.1 L751.6,640.1 L751.8,638.1 L752.0,636.1 L752.2,634.1 L752.4,632.1 L752.6,630.1 L752.8,628.2 L753.0,626.2 L753.2,624.2 L753.4,622.2 L753.6,620.2 L753.8,618.2 L754.0,616.2 L754.2,614.3 L754.4,612.3 L754.6,610.3 L754.8,608.3 L755.0,606.3 L755.3,604.3 L755.5,602.3 L755.7,600.4 L755.9,598.4 L756.1,596.4 L756.3,594.4 L756.5,592.4 L756.7,590.4 L757.0,588.5 L757.2,586.5 L757.4,584.5 L757.6,582.5 L757.8,580.5 L758.1,578.6 L758.3,576.6 L758.5,574.6 L758.7,572.6 L759.0,570.6 L759.2,568.7 L759.4,566.7 L759.6,564.7 L759.9,562.7 L760.1,560.7 L760.3,558.8 L760.6,556.8 L760.8,554.8 L761.1,552.8 L761.3,550.9 L761.5,548.9 L761.8,546.9 L762.0,544.9 L762.3,543.0 L762.5,541.0 L762.8,539.0 L763.1,537.0 L763.3,535.0 L763.6,533.1 L763.9,531.1 L764.1,529.1 L764.4,527.1 L764.7,525.2 L765.0,523.2 L765.3,521.2 L765.6,519.2 L765.8,517.2 L766.2,515.3 L766.5,513.3 L766.8,511.3 L767.1,509.3 L767.4,507.4 L767.7,505.4 L768.0,503.4 L768.4,501.4 L768.7,499.4 L769.1,497.5 L769.4,495.5 L769.8,493.5 L770.1,491.5 L770.5,489.5 L770.9,487.5 L771.2,485.6 L771.6,483.6 L772.0,481.6 L772.4,479.6 L772.8,477.6 L773.2,475.6 L773.6,473.6 L774.1,471.7 L774.5,469.7 L774.9,467.7 L775.4,465.7 L775.8,463.7 L776.3,461.7 L776.7,459.7 L777.2,457.7 L777.7,455.7 L778.2,453.7 L778.7,451.7 L779.2,449.8 L779.7,447.8 L780.2,445.8 L780.7,443.8 L781.3,441.8 L781.9,439.8 L782.4,437.9 L783.1,435.9 L783.7,434.0 L784.4,432.1 L785.2,430.3 L786.0,428.5 L786.8,426.7 L787.7,425.0 L788.6,423.3 L789.7,421.7 L790.7,420.2 L791.9,418.7 L793.1,417.3 L794.4,416.0 L795.8,414.8 L797.2,413.7 L798.7,412.8 L800.2,412.0 L801.8,411.5 L803.4,411.1 L805.0,411.0 L806.6,411.1 L808.2,411.4 L809.8,411.8 L811.4,412.5 L813.0,413.3 L814.5,414.3 L815.9,415.4 L817.3,416.6 L818.7,418.0 L820.0,419.4 L821.2,421.0 L822.4,422.6 L823.5,424.3 L824.6,426.1 L825.7,427.9 L826.7,429.8 L827.6,431.8 L828.5,433.7 L829.4,435.7 L830.3,437.7 L831.1,439.7 L831.9,441.7 L832.7,443.8 L833.4,445.7 L834.2,447.7 L834.9,449.7 L835.6,451.6 L836.3,453.5 L836.9,455.5 L837.6,457.4 L838.2,459.3 L838.8,461.2 L839.4,463.0 L840.0,464.9 L840.6,466.8 L841.2,468.7 L841.8,470.5 L842.4,472.4 L843.0,474.3 L843.6,476.2 L844.1,478.0 L844.7,479.9 L845.3,481.8 L845.9,483.7 L846.4,485.5 L847.0,487.4 L847.6,489.3 L848.1,491.2 L848.7,493.1 L849.3,495.0 L849.8,496.9 L850.4,498.8 L851.0,500.7 L851.5,502.6 L852.1,504.5 L852.7,506.4 L853.2,508.3 L853.8,510.2 L854.3,512.1 L854.9,514.0 L855.5,515.9 L856.0,517.9 L856.6,519.8 L857.1,521.7 L857.7,523.6 L858.2,525.5 L858.8,527.4 L859.3,529.4 L859.9,531.3 L860.4,533.2 L861.0,535.1 L861.5,537.1 L862.1,539.0 L862.6,540.9 L863.1,542.8 L863.7,544.8 L864.2,546.7 L864.8,548.6 L865.3,550.6 L865.8,552.5 L866.4,554.4 L866.9,556.4 L867.4,558.3 L868.0,560.2 L868.5,562.2 L869.0,564.1 L869.6,566.1 L870.1,568.0 L870.6,569.9 L871.1,571.9 L871.7,573.8 L872.2,575.7 L872.7,577.7 L873.2,579.6 L873.8,581.6 L874.3,583.5 L874.8,585.4 L875.3,587.4 L875.8,589.3 L876.4,591.3 L876.9,593.2 L877.4,595.1 L877.9,597.1 L878.4,599.0 L878.9,601.0 L879.4,602.9 L879.9,604.8 L880.4,606.8 L880.9,608.7 L881.5,610.7 L882.0,612.6 L882.5,614.5 L883.0,616.5 L883.5,618.4 L884.0,620.4 L884.5,622.3 L885.0,624.2 L885.5,626.2 L886.0,628.1 L886.5,630.1 L887.0,632.0 L887.4,633.9 L887.9,635.9 L888.4,637.8 L888.9,639.7 L889.4,641.7 L889.9,643.6 L890.4,645.6 L890.9,647.5 L891.4,649.4 L891.8,651.4 L892.3,653.3 L892.8,655.2 L893.3,657.2 L893.8,659.1 L894.3,661.1 L894.7,663.0 L895.2,664.9 L895.7,666.9 L896.2,668.8 L896.6,670.8 L897.1,672.7 L897.6,674.6 L898.1,676.6 L898.5,678.5 L899.0,680.5 L899.5,682.4 L899.9,684.3 L900.4,686.3 L900.9,688.2 L901.3,690.2 L901.8,692.1 L902.3,694.0 L902.7,696.0 L903.2,697.9 L903.7,699.9 L904.1,701.8 L904.6,703.7 L905.0,705.7 L905.5,707.6 L906.0,709.6 L906.4,711.5 L906.9,713.5 L907.3,715.4 L907.8,717.3 L908.2,719.3 L908.7,721.2 L909.1,723.2 L909.6,725.1 L910.0,727.1 L910.5,729.0 L910.9,731.0 L911.4,732.9 L911.8,734.8 L912.3,736.8 L912.7,738.7 L913.2,740.7 L913.6,742.6 L914.0,744.6 L914.5,746.5 L914.9,748.5 L915.4,750.4 L915.8,752.4 L916.3,754.3 L916.7,756.3 L917.1,758.2 L917.6,760.2 L918.0,762.1 L918.4,764.1 L918.9,766.0 L919.3,768.0 L919.7,769.9 L920.2,771.9 L920.6,773.8 L921.1,775.8 L921.5,777.7 L921.9,779.7 L922.3,781.6 L922.8,783.6 L923.2,785.5 L923.6,787.5 L924.1,789.4 L924.5,791.4 L924.9,793.3 L925.4,795.3 L925.8,797.2 L926.2,799.2 L926.7,801.1 L927.1,803.1 L927.5,805.0 L927.9,807.0 L928.4,808.9 L928.8,810.9 L929.2,812.8 L929.6,814.8 L930.1,816.7 L930.5,818.7 L930.9,820.6 L931.4,822.6 L931.8,824.5 L932.2,826.5 L932.6,828.5 L933.1,830.4 L933.5,832.4 L933.9,834.3 L934.3,836.3 L934.8,838.2 L935.2,840.2 L935.6,842.1 L936.0,844.1 L936.5,846.0 L936.9,848.0 L937.3,849.9 L937.7,851.9 L938.2,853.8 L938.6,855.8 L939.0,857.8 L939.4,859.7 L939.9,861.7 L940.3,863.6 L940.7,865.6 L941.2,867.5 L941.6,869.5 L942.0,871.4 L942.4,873.4 L942.9,875.3 L943.3,877.3 L943.7,879.2 L944.1,881.2 L944.6,883.2 L945.0,885.1 L945.4,887.1 L945.9,889.0 L946.3,891.0 L946.7,892.9 L947.2,894.9 L947.6,896.8 L948.0,898.8 L948.4,900.7 L948.9,902.7 L949.3,904.6 L949.7,906.6 L950.2,908.5 L950.6,910.5 L951.0,912.4 L951.5,914.4 L951.9,916.4 L952.4,918.3 L952.8,920.3 L953.2,922.2 L953.7,924.2 L954.1,926.1 L954.5,928.1 L955.0,930.0 L955.4,932.0 L955.9,933.9 L956.3,935.9 L956.7,937.8 L957.2,939.8 L957.6,941.7 L958.1,943.7 L958.5,945.6 L959.0,947.6 L959.4,949.5 L959.9,951.5 L960.3,953.4 L960.8,955.4 L961.2,957.3 L961.7,959.3 L962.1,961.2 L962.6,963.2 L963.0,965.1 L963.5,967.1 L963.9,969.0 L964.4,971.0 L964.8,972.9 L965.3,974.8 L965.7,976.8 L966.2,978.7 L966.7,980.7 L967.1,982.6 L967.6,984.6 L968.1,986.5 L968.5,988.5 L969.0,990.4 L969.5,992.4 L969.9,994.3 L970.4,996.2 L970.9,998.2 L971.3,1000.1 L971.8,1002.1 L972.3,1004.0 L972.8,1006.0 L973.2,1007.9 L973.7,1009.8 L974.2,1011.8 L974.7,1013.7 L975.2,1015.7 L975.7,1017.6 L976.1,1019.5 L976.6,1021.5 L977.1,1023.4 L977.6,1025.4 L978.1,1027.3 L978.6,1029.2 L979.1,1031.2 L979.6,1033.1 L980.1,1035.0 L980.6,1037.0 L981.1,1038.9 L981.6,1040.8 L982.1,1042.8 L982.7,1044.7 L983.2,1046.6 L983.7,1048.6 L984.2,1050.5 L984.7,1052.4 L985.3,1054.3 L985.8,1056.3 L986.3,1058.2 L986.8,1060.1 L987.4,1062.1 L987.9,1064.0 L988.4,1065.9 L989.0,1067.8 L989.5,1069.7 L990.1,1071.7 L990.6,1073.6 L991.2,1075.5 L991.7,1077.4 L992.3,1079.3 L992.8,1081.3 L993.4,1083.2 L994.0,1085.1 L994.5,1087.0 L995.1,1088.9 L995.7,1090.8 L996.3,1092.8 L996.8,1094.7 L997.4,1096.6 L998.0,1098.5 L998.6,1100.4 L999.2,1102.3 L999.8,1104.2 L1000.4,1106.1 L1001.0,1108.0 L1001.6,1109.9 L1002.2,1111.8 L1002.8,1113.7 L1003.4,1115.6 L1004.0,1117.5 L1004.6,1119.4 L1005.3,1121.3 L1005.9,1123.2 L1006.5,1125.1 L1007.2,1127.0 L1007.8,1128.9 L1008.4,1130.8 L1009.1,1132.7 L1009.7,1134.6 L1010.4,1136.5 L1011.0,1138.3 L1011.7,1140.2 L1012.3,1142.1 L1013.0,1144.0 L1013.7,1145.9 L1014.4,1147.8 L1015.0,1149.6 L1015.7,1151.5 L1016.4,1153.4 L1017.1,1155.3 L1017.8,1157.2 L1018.5,1159.0 L1019.2,1160.9 L1019.9,1162.8 L1020.6,1164.6 L1021.3,1166.5 L1022.0,1168.4 L1022.8,1170.2 L1023.5,1172.1 L1024.2,1174.0 L1025.0,1175.8 L1025.7,1177.7 L1026.4,1179.6 L1027.2,1181.4 L1027.9,1183.3 L1028.7,1185.1 L1029.5,1187.0 L1030.2,1188.8 L1031.0,1190.7 L1031.8,1192.5 L1032.5,1194.4 L1033.3,1196.2 L1034.1,1198.1 L1034.9,1199.9 L1035.7,1201.8 L1036.5,1203.6 L1037.3,1205.4 L1038.1,1207.3 L1039.0,1209.1 L1039.8,1210.9 L1040.6,1212.8 L1041.4,1214.6 L1042.3,1216.4 L1043.1,1218.3 L1044.0,1220.1 L1044.8,1221.9 L1045.7,1223.7 L1046.6,1225.5 L1047.5,1227.3 L1048.4,1229.1 L1049.3,1230.9 L1050.2,1232.7 L1051.2,1234.4 L1052.1,1236.2 L1053.1,1237.9 L1054.1,1239.7 L1055.1,1241.4 L1056.1,1243.1 L1057.1,1244.8 L1058.2,1246.5 L1059.3,1248.1 L1060.4,1249.8 L1061.5,1251.4 L1062.6,1253.0 L1063.8,1254.6 L1065.0,1256.2 L1066.2,1257.8 L1067.4,1259.3 L1068.7,1260.9 L1070.0,1262.4 L1071.3,1263.8 L1072.6,1265.3 L1074.0,1266.7 L1075.4,1268.1 L1076.8,1269.5 L1078.3,1270.9 L1079.8,1272.2 L1081.3,1273.5 L1082.9,1274.7 L1084.5,1275.9 L1086.1,1277.1 L1087.7,1278.3 L1089.4,1279.4 L1091.1,1280.4 L1092.8,1281.4 L1094.6,1282.4 L1096.4,1283.3 L1098.2,1284.1 L1100.0,1284.9 L1101.9,1285.6 L1103.8,1286.3 L1105.7,1287.0 L1107.7,1287.6 L1109.6,1288.1 L1111.6,1288.7 L1113.6,1289.2 L1115.6,1289.7 L1117.6,1290.2 L1119.6,1290.7 L1121.5,1291.1 L1123.5,1291.6 L1125.5,1292.1 L1127.4,1292.7 L1129.4,1293.2 L1131.3,1293.8 L1133.2,1294.5 L1135.0,1295.1 L1136.9,1295.8 L1138.7,1296.6 L1140.5,1297.4 L1142.3,1298.2 L1144.0,1299.0 L1145.8,1299.9 L1147.5,1300.8 L1149.2,1301.8 L1150.8,1302.8 L1152.5,1303.8 L1154.1,1304.8 L1155.7,1305.9 L1157.3,1307.0 L1158.9,1308.1 L1160.4,1309.3 L1162.0,1310.5 L1163.5,1311.7 L1165.0,1312.9 L1166.5,1314.2 L1167.9,1315.5 L1169.4,1316.8 L1170.8,1318.1 L1172.3,1319.5 L1173.7,1320.9 L1175.0,1322.3 L1176.4,1323.7 L1177.8,1325.1 L1179.1,1326.6 L1180.5,1328.1 L1181.8,1329.6 L1183.1,1331.1 L1184.4,1332.6 L1185.7,1334.1 L1186.9,1335.7 L1188.2,1337.3 L1189.4,1338.9 L1190.7,1340.5 L1191.9,1342.1 L1193.1,1343.7 L1194.3,1345.3 L1195.5,1347.0 L1196.7,1348.6 L1197.9,1350.3 L1199.1,1352.0 L1200.3,1353.7 L1201.4,1355.3 L1202.6,1357.0 L1203.7,1358.7 L1204.9,1360.4 L1206.0,1362.1 L1207.1,1363.9 L1208.2,1365.6 L1209.4,1367.3 L1210.5,1369.0 L1211.6,1370.7 L1212.7,1372.4 L1213.8,1374.1 L1214.9,1375.9 L1216.0,1377.6 L1217.1,1379.3 L1218.2,1381.0 L1219.3,1382.7 L1220.4,1384.4 L1221.5,1386.1 L1222.5,1387.7 L1223.6,1389.4 L1224.7,1391.1 L1225.8,1392.8 L1226.9,1394.4 L1227.9,1396.1 L1229.0,1397.8 L1230.1,1399.4 L1231.2,1401.1 L1232.2,1402.8 L1233.3,1404.4 L1234.4,1406.1 L1235.4,1407.7 L1236.5,1409.4 L1237.6,1411.1 L1238.6,1412.7 L1239.7,1414.4 L1240.7,1416.0 L1241.8,1417.7 L1242.8,1419.4 L1243.8,1421.0 L1244.9,1422.7 L1245.9,1424.4 L1246.9,1426.1 L1248.0,1427.7 L1249.0,1429.4 L1250.0,1431.1 L1251.0,1432.8 L1252.0,1434.5 L1253.0,1436.2 L1254.0,1437.9 L1255.0,1439.6 L1256.0,1441.3 L1257.0,1443.0 L1258.0,1444.8 L1259.0,1446.5 L1260.0,1448.2 L1261.0,1449.9 L1262.1,1451.7 L1263.1,1453.4 L1264.1,1455.1 L1265.2,1456.8 L1266.2,1458.5 L1267.3,1460.2 L1268.4,1461.9 L1269.5,1463.6 L1270.6,1465.3 L1271.7,1466.9 L1272.9,1468.6 L1274.0,1470.2 L1275.2,1471.9 L1276.4,1473.5 L1277.7,1475.1 L1278.9,1476.7 L1280.2,1478.3 L1281.6,1479.8 L1282.9,1481.4 L1284.3,1482.9 L1285.7,1484.4 L1287.2,1485.9 L1288.6,1487.4 L1290.2,1488.9 L1291.7,1490.3 L1293.3,1491.7 L1294.9,1493.0 L1296.6,1494.3 L1298.2,1495.6 L1299.9,1496.8 L1301.7,1497.9 L1303.4,1498.9 L1305.1,1499.8 L1306.9,1500.7 L1308.7,1501.4 L1310.4,1502.0 L1312.2,1502.4 L1314.0,1502.8 L1315.8,1502.9 L1317.5,1503.0 L1319.3,1502.8 L1321.0,1502.5 L1322.7,1502.1 L1324.5,1501.5 L1326.2,1500.8 L1327.9,1499.9 L1329.5,1499.0 L1331.2,1498.0 L1332.9,1496.9 L1334.5,1495.7 L1336.1,1494.4 L1337.7,1493.1 L1339.3,1491.8 L1340.9,1490.4 L1342.4,1489.0 L1344.0,1487.6 L1345.5,1486.1 L1347.0,1484.7 L1348.5,1483.3 L1349.9,1481.8 L1351.4,1480.4 L1352.8,1478.9 L1354.2,1477.5 L1355.6,1476.0 L1357.0,1474.5 L1358.4,1473.0 L1359.7,1471.6 L1361.0,1470.1 L1362.4,1468.6 L1363.7,1467.1 L1365.0,1465.6 L1366.2,1464.0 L1367.5,1462.5 L1368.8,1461.0 L1370.0,1459.5 L1371.2,1457.9 L1372.5,1456.4 L1373.7,1454.8 L1374.9,1453.2 L1376.0,1451.7 L1377.2,1450.1 L1378.4,1448.5 L1379.5,1446.9 L1380.7,1445.3 L1381.8,1443.7 L1383.0,1442.0 L1384.1,1440.4 L1385.2,1438.8 L1386.3,1437.1 L1387.4,1435.4 L1388.5,1433.8 L1389.6,1432.1 L1390.7,1430.4 L1391.8,1428.7 L1392.9,1427.0 L1394.0,1425.3 L1395.0,1423.6 L1396.1,1421.9 L1397.2,1420.2 L1398.2,1418.5 L1399.3,1416.8 L1400.4,1415.1 L1401.4,1413.4 L1402.5,1411.6 L1403.6,1409.9 L1404.7,1408.2 L1405.7,1406.5 L1406.8,1404.8 L1407.9,1403.1 L1409.0,1401.4 L1410.1,1399.6 L1411.1,1397.9 L1412.2,1396.2 L1413.3,1394.6 L1414.5,1392.9 L1415.6,1391.2 L1416.7,1389.5 L1417.8,1387.9 L1419.0,1386.2 L1420.1,1384.5 L1421.3,1382.9 L1422.4,1381.3 L1423.6,1379.7 L1424.8,1378.0 L1426.0,1376.4 L1427.2,1374.9 L1428.4,1373.3 L1429.6,1371.7 L1430.9,1370.2 L1432.1,1368.6 L1433.4,1367.1 L1434.7,1365.6 L1436.0,1364.1 L1437.3,1362.7 L1438.6,1361.2 L1440.0,1359.8 L1441.3,1358.4 L1442.7,1357.0 L1444.1,1355.6 L1445.5,1354.2 L1447.0,1352.9 L1448.4,1351.5 L1449.9,1350.2 L1451.4,1349.0 L1452.9,1347.7 L1454.5,1346.5 L1456.0,1345.3 L1457.6,1344.1 L1459.2,1342.9 L1460.8,1341.8 L1462.5,1340.7 L1464.2,1339.6 L1465.9,1338.5 L1467.6,1337.5 L1469.3,1336.5 L1471.1,1335.6 L1472.9,1334.7 L1474.7,1333.8 L1476.5,1333.0 L1478.4,1332.2 L1480.2,1331.4 L1482.1,1330.8 L1484.0,1330.1 L1485.9,1329.6 L1487.9,1329.0 L1489.8,1328.6 L1491.8,1328.2 L1493.8,1327.9 L1495.7,1327.6 L1497.7,1327.4 L1499.7,1327.2 L1501.7,1327.0 L1503.8,1326.9 L1505.8,1326.8 L1507.8,1326.7 L1509.8,1326.7 L1511.8,1326.6 L1513.9,1326.5 L1515.9,1326.4 L1517.9,1326.2 L1519.9,1326.0 L1521.9,1325.8 L1523.8,1325.6 L1525.8,1325.2 L1527.8,1324.8 L1529.7,1324.4 L1531.6,1323.9 L1533.5,1323.4 L1535.4,1322.7 L1537.3,1322.1 L1539.1,1321.4 L1540.9,1320.6 L1542.7,1319.8 L1544.5,1318.9 L1546.3,1318.0 L1548.0,1317.0 L1549.7,1315.9 L1551.3,1314.9 L1553.0,1313.7 L1554.6,1312.5 L1556.1,1311.3 L1557.7,1310.0 L1559.2,1308.7 L1560.6,1307.4 L1562.1,1306.0 L1563.5,1304.6 L1564.9,1303.1 L1566.3,1301.6 L1567.6,1300.1 L1568.9,1298.5 L1570.2,1297.0 L1571.4,1295.4 L1572.7,1293.8 L1573.9,1292.2 L1575.1,1290.5 L1576.2,1288.9 L1577.4,1287.2 L1578.5,1285.6 L1579.6,1283.9 L1580.7,1282.2 L1581.7,1280.5 L1582.8,1278.8 L1583.8,1277.1 L1584.8,1275.4 L1585.8,1273.7 L1586.7,1271.9 L1587.7,1270.2 L1588.7,1268.4 L1589.6,1266.7 L1590.5,1264.9 L1591.5,1263.2 L1592.4,1261.4 L1593.3,1259.6 L1594.2,1257.9 L1595.1,1256.1 L1596.0,1254.3 L1596.8,1252.5 L1597.7,1250.7 L1598.6,1249.0 L1599.5,1247.2 L1600.4,1245.4 L1601.2,1243.6 L1602.1,1241.8 L1603.0,1240.0 L1603.9,1238.2 L1604.8,1236.4 L1605.7,1234.7 L1606.6,1232.9 L1607.5,1231.1 L1608.5,1229.3 L1609.4,1227.5 L1610.3,1225.8 L1611.3,1224.0 L1612.2,1222.2 L1613.1,1220.4 L1614.1,1218.7 L1615.0,1216.9 L1616.0,1215.1 L1616.9,1213.3 L1617.9,1211.6 L1618.8,1209.8 L1619.8,1208.0 L1620.7,1206.2 L1621.6,1204.4 L1622.6,1202.7 L1623.5,1200.9 L1624.4,1199.1 L1625.4,1197.3 L1626.3,1195.5 L1627.2,1193.7 L1628.1,1191.9 L1629.0,1190.2 L1629.9,1188.4 L1630.8,1186.6 L1631.6,1184.8 L1632.5,1182.9 L1633.3,1181.1 L1634.2,1179.3 L1635.0,1177.5 L1635.8,1175.7 L1636.6,1173.8 L1637.4,1172.0 L1638.2,1170.2 L1638.9,1168.3 L1639.7,1166.5 L1640.4,1164.6 L1641.2,1162.8 L1641.9,1160.9 L1642.6,1159.1 L1643.3,1157.2 L1644.0,1155.4 L1644.7,1153.5 L1645.4,1151.6 L1646.1,1149.8 L1646.8,1147.9 L1647.5,1146.0 L1648.2,1144.2 L1648.9,1142.3 L1649.5,1140.4 L1650.2,1138.6 L1650.9,1136.7 L1651.6,1134.8 L1652.2,1133.0 L1652.9,1131.1 L1653.6,1129.2 L1654.3,1127.3 L1655.0,1125.5 L1655.6,1123.6 L1656.3,1121.7 L1657.0,1119.9 L1657.7,1118.0 L1658.4,1116.1 L1659.1,1114.3 L1659.8,1112.4 L1660.6,1110.6 L1661.3,1108.7 L1662.0,1106.9 L1662.8,1105.0 L1663.5,1103.2 L1664.3,1101.3 L1665.1,1099.5 L1665.9,1097.7 L1666.7,1095.8 L1667.5,1094.0 L1668.3,1092.2 L1669.1,1090.4 L1670.0,1088.5 L1670.8,1086.7 L1671.7,1084.9 L1672.6,1083.1 L1673.5,1081.3 L1674.5,1079.6 L1675.4,1077.8 L1676.4,1076.0 L1677.3,1074.2 L1678.3,1072.5 L1679.4,1070.7 L1680.4,1069.0 L1681.5,1067.2 L1682.5,1065.5 L1683.6,1063.7 L1684.8,1062.0 L1685.9,1060.3 L1687.1,1058.6 L1688.3,1056.9 L1689.5,1055.2 L1690.8,1053.6 L1692.0,1052.0 L1693.3,1050.4 L1694.7,1048.9 L1696.1,1047.4 L1697.5,1046.0 L1698.9,1044.6 L1700.4,1043.4 L1702.0,1042.2 L1703.6,1041.0 L1705.2,1040.0 L1706.9,1039.1 L1708.6,1038.2 L1710.3,1037.5 L1712.2,1036.9 L1714.0,1036.4 L1715.8,1036.1 L1717.7,1035.9 L1719.6,1035.8 L1721.5,1035.9 L1723.3,1036.2 L1725.1,1036.7 L1726.9,1037.3 L1728.7,1038.1 L1730.4,1038.9 L1732.1,1039.9 L1733.8,1041.0 L1735.4,1042.2 L1737.0,1043.4 L1738.6,1044.6 L1740.2,1045.9 L1741.7,1047.1 L1743.2,1048.5 L1744.6,1049.8 L1746.1,1051.2 L1747.5,1052.6 L1748.8,1054.0 L1750.2,1055.4 L1751.5,1056.9 L1752.8,1058.4 L1754.1,1059.9 L1755.3,1061.4 L1756.6,1063.0 L1757.8,1064.5 L1759.0,1066.1 L1760.2,1067.7 L1761.3,1069.3 L1762.5,1071.0 L1763.6,1072.6 L1764.7,1074.3 L1765.8,1075.9 L1766.9,1077.6 L1768.0,1079.3 L1769.0,1081.0 L1770.1,1082.7 L1771.1,1084.4 L1772.2,1086.2 L1773.2,1087.9 L1774.2,1089.6 L1775.2,1091.4 L1776.2,1093.1 L1777.2,1094.9 L1778.2,1096.6 L1779.2,1098.4 L1780.2,1100.1 L1781.2,1101.9 L1782.2,1103.6 L1783.2,1105.4 L1784.2,1107.2 L1785.1,1108.9 L1786.1,1110.7 L1787.1,1112.5 L1788.1,1114.2 L1789.1,1116.0 L1790.0,1117.7 L1791.0,1119.5 L1792.0,1121.3 L1793.0,1123.0 L1794.0,1124.8 L1795.0,1126.5 L1796.0,1128.3 L1797.0,1130.0 L1798.0,1131.8 L1799.0,1133.5 L1800.0,1135.2 L1801.0,1137.0 L1802.0,1138.7 L1803.0,1140.4 L1804.0,1142.1 L1805.1,1143.8 L1806.1,1145.6 L1807.2,1147.3 L1808.2,1149.0 L1809.3,1150.6 L1810.4,1152.3 L1811.4,1154.0 L1812.5,1155.7 L1813.6,1157.3 L1814.7,1159.0 L1815.8,1160.6 L1817.0,1162.3 L1818.1,1163.9 L1819.3,1165.5 L1820.4,1167.1 L1821.6,1168.7 L1822.8,1170.3 L1824.0,1171.9 L1825.2,1173.5 L1826.4,1175.0 L1827.7,1176.6 L1828.9,1178.1 L1830.2,1179.7 L1831.5,1181.2 L1832.8,1182.7 L1834.1,1184.2 L1835.4,1185.7 L1836.8,1187.1 L1838.1,1188.6 L1839.5,1190.0 L1840.9,1191.4 L1842.3,1192.9 L1843.8,1194.2 L1845.2,1195.6 L1846.7,1197.0 L1848.2,1198.4 L1849.7,1199.7 L1851.3,1201.0 L1852.8,1202.3 L1854.4,1203.5 L1856.0,1204.7 L1857.6,1205.8 L1859.2,1206.9 L1860.9,1207.9 L1862.5,1208.7 L1864.2,1209.5 L1865.9,1210.2 L1867.6,1210.8 L1869.3,1211.3 L1871.1,1211.6 L1872.9,1211.7 L1874.6,1211.8 L1876.4,1211.6 L1878.2,1211.4 L1880.1,1211.0 L1881.9,1210.4 L1883.7,1209.8 L1885.6,1209.0 L1887.4,1208.2 L1889.3,1207.2 L1891.2,1206.2 L1893.1,1205.2 L1894.9,1204.1 L1896.8,1202.9 L1898.7,1201.8 L1900.6,1200.6 L1902.5,1199.4 L1904.3,1198.2 L1906.2,1197.0 L1908.1,1195.9 L1910.0,1194.8 L1911.8,1193.7 L1913.7,1192.7 L1915.6,1191.7 L1917.4,1190.8 L1919.3,1190.0 L1921.2,1189.2 L1923.0,1188.5 L1924.9,1187.8 L1926.7,1187.3 L1928.6,1186.9 L1930.5,1186.5 L1932.3,1186.3 L1934.2,1186.2 L1936.1,1186.2 L1937.9,1186.3 L1939.8,1186.5 L1941.7,1186.8 L1943.5,1187.2 L1945.4,1187.7 L1947.2,1188.3 L1949.0,1189.0 L1950.8,1189.8 L1952.6,1190.6 L1954.3,1191.5 L1956.1,1192.5 L1957.8,1193.5 L1959.4,1194.6 L1961.1,1195.7 L1962.7,1196.9 L1964.2,1198.1 L1965.8,1199.4 L1967.2,1200.7 L1968.7,1202.0 L1970.1,1203.3 L1971.5,1204.7 L1972.9,1206.1 L1974.2,1207.6 L1975.5,1209.0 L1976.7,1210.5 L1978.0,1212.1 L1979.2,1213.6 L1980.3,1215.2 L1981.5,1216.8 L1982.6,1218.4 L1983.7,1220.1 L1984.8,1221.8 L1985.9,1223.5 L1986.9,1225.2 L1987.9,1226.9 L1988.9,1228.7 L1989.9,1230.4 L1990.8,1232.2 L1991.7,1234.0 L1992.7,1235.8 L1993.6,1237.6 L1994.5,1239.5 L1995.3,1241.3 L1996.2,1243.2 L1997.0,1245.0 L1997.9,1246.9 L1998.7,1248.8 L1999.5,1250.6 L2000.3,1252.5 L2001.1,1254.4 L2001.9,1256.3 L2002.7,1258.2 L2003.5,1260.1 L2004.3,1262.0 L2005.1,1263.8 L2005.8,1265.7 L2006.6,1267.6 L2007.4,1269.5 L2008.2,1271.3 L2008.9,1273.2 L2009.7,1275.1 L2010.5,1276.9 L2011.3,1278.7 L2012.1,1280.6 L2012.8,1282.4 L2013.7,1284.2 L2014.5,1286.0 L2015.3,1287.7 L2016.1,1289.5 L2016.9,1291.2 L2017.8,1293.0 L2018.6,1294.7 L2019.5,1296.3 L2020.4,1298.0 L2021.3,1299.6 L2022.2,1301.2 L2023.2,1302.8 L2024.1,1304.4" stroke="#404040"/>
<path d="M551,1581.6H585" stroke="#404040" stroke-width="4"/>
<path d="M622.5,1581.4H627.6M643,1581.4H666M699.7,1581.4H752.9" stroke="#0080FF" stroke-width="4"/>
<path d="M645,1579.5H654M716,1579H740" stroke="#0080FF" stroke-width="4"/>
</g>
<rect x="204.3" y="54.2" width="1901.2" height="1530.3999999999999" fill="none" stroke="#000" stroke-width="5"/>
<path d="M204.3,1584.6v33 M204.3,54.2v33 M283.5,1584.6v18 M283.5,54.2v18 M362.7,1584.6v33 M362.7,54.2v33 M442.0,1584.6v18 M442.0,54.2v18 M521.2,1584.6v33 M521.2,54.2v33 M600.4,1584.6v18 M600.4,54.2v18 M679.6,1584.6v33 M679.6,54.2v33 M758.8,1584.6v18 M758.8,54.2v18 M838.0,1584.6v33 M838.0,54.2v33 M917.2,1584.6v18 M917.2,54.2v18 M996.5,1584.6v33 M996.5,54.2v33 M1075.7,1584.6v18 M1075.7,54.2v18 M1154.9,1584.6v33 M1154.9,54.2v33 M1234.1,1584.6v18 M1234.1,54.2v18 M1313.3,1584.6v33 M1313.3,54.2v33 M1392.5,1584.6v18 M1392.5,54.2v18 M1471.8,1584.6v33 M1471.8,54.2v33 M1551.0,1584.6v18 M1551.0,54.2v18 M1630.2,1584.6v33 M1630.2,54.2v33 M1709.4,1584.6v18 M1709.4,54.2v18 M1788.6,1584.6v33 M1788.6,54.2v33 M1867.9,1584.6v18 M1867.9,54.2v18 M1947.1,1584.6v33 M1947.1,54.2v33 M2026.3,1584.6v18 M2026.3,54.2v18 M2105.5,1584.6v33 M2105.5,54.2v33 M204.3,1584.6h-30 M2105.5,1584.6h33 M204.3,1431.6h-15 M2105.5,1431.6h17 M204.3,1278.5h-30 M2105.5,1278.5h33 M204.3,1125.5h-15 M2105.5,1125.5h17 M204.3,972.4h-30 M2105.5,972.4h33 M204.3,819.4h-15 M2105.5,819.4h17 M204.3,666.4h-30 M2105.5,666.4h33 M204.3,513.3h-15 M2105.5,513.3h17 M204.3,360.3h-30 M2105.5,360.3h33 M204.3,207.2h-15 M2105.5,207.2h17 M204.3,54.2h-30 M2105.5,54.2h33" stroke="#000" stroke-width="5" fill="none"/>
<g style="font-family:'Liberation Sans',Arial,sans-serif;font-size:58px" fill="#000"><text transform="translate(204.3,1681.3) scale(1,1.07)" text-anchor="middle">6672</text><text transform="translate(362.7,1681.3) scale(1,1.07)" text-anchor="middle">6674</text><text transform="translate(521.2,1681.3) scale(1,1.07)" text-anchor="middle">6676</text><text transform="translate(679.6,1681.3) scale(1,1.07)" text-anchor="middle">6678</text><text transform="translate(838.0,1681.3) scale(1,1.07)" text-anchor="middle">6680</text><text transform="translate(996.5,1681.3) scale(1,1.07)" text-anchor="middle">6682</text><text transform="translate(1154.9,1681.3) scale(1,1.07)" text-anchor="middle">6684</text><text transform="translate(1313.3,1681.3) scale(1,1.07)" text-anchor="middle">6686</text><text transform="translate(1471.8,1681.3) scale(1,1.07)" text-anchor="middle">6688</text><text transform="translate(1630.2,1681.3) scale(1,1.07)" text-anchor="middle">6690</text><text transform="translate(1788.6,1681.3) scale(1,1.07)" text-anchor="middle">6692</text><text transform="translate(1947.1,1681.3) scale(1,1.07)" text-anchor="middle">6694</text><text transform="translate(2105.5,1681.3) scale(1,1.07)" text-anchor="middle">6696</text><text transform="translate(154,1602.4) scale(1,1.07)" text-anchor="end">0</text><text transform="translate(2157,1602.4) scale(1,1.07)">0.0</text><text transform="translate(154,1296.3) scale(1,1.07)" text-anchor="end">2</text><text transform="translate(2157,1296.3) scale(1,1.07)">0.2</text><text transform="translate(154,990.2) scale(1,1.07)" text-anchor="end">4</text><text transform="translate(2157,990.2) scale(1,1.07)">0.4</text><text transform="translate(154,684.2) scale(1,1.07)" text-anchor="end">6</text><text transform="translate(2157,684.2) scale(1,1.07)">0.6</text><text transform="translate(154,378.1) scale(1,1.07)" text-anchor="end">8</text><text transform="translate(2157,378.1) scale(1,1.07)">0.8</text><text transform="translate(154,72.0) scale(1,1.07)" text-anchor="end">10</text><text transform="translate(2157,72.0) scale(1,1.07)">1.0</text></g>
<text style="font-family:'Liberation Sans',Arial,sans-serif;font-size:72px" x="1040.4 1088.2 1104.1 1161.3" y="1755.8">Time</text>
<text style="font-family:'Liberation Sans',Arial,sans-serif;font-size:71.5px" transform="translate(88,1437.7) rotate(-90)">Incident Energy (kW), MD Energy (kW)</text>
<text style="font-family:'Liberation Sans',Arial,sans-serif;font-size:71.7px" transform="translate(2318,1355.4) rotate(-90)">Effeciency (%), DHW Energy (kW)</text>
<rect x="269.5" y="129.5" width="377.6" height="675.8" fill="#fff" stroke="#000" stroke-width="2.5"/>
<path d="M276,166.1H398" stroke="#960000" stroke-width="4.5" stroke-dasharray="19.5 16.9" fill="none"/>
<text style="font-family:'Liberation Sans',Arial,sans-serif;font-size:54px" x="410.3" y="183.6">Exp Q<tspan style="font-size:33px" dy="20.5">MD</tspan></text>
<path d="M276,248.1H398" stroke="#960000" stroke-width="4.5" fill="none"/>
<text style="font-family:'Liberation Sans',Arial,sans-serif;font-size:54px" x="410.3" y="265.6">Mod Q<tspan style="font-size:33px" dy="20.5">MD</tspan></text>
<path d="M276,330.1H398" stroke="#FF0000" stroke-width="4.5" stroke-dasharray="19.5 16.9" fill="none"/>
<text style="font-family:'Liberation Sans',Arial,sans-serif;font-size:54px" x="410.3" y="347.6">Exp I<tspan style="font-size:33px" dy="20.5">Col</tspan></text>
<path d="M276,414.3H398" stroke="#FF0000" stroke-width="4.5" fill="none"/>
<text style="font-family:'Liberation Sans',Arial,sans-serif;font-size:54px" x="410.3" y="431.8">Mod I<tspan style="font-size:33px" dy="20.5">Col</tspan></text>
<path d="M276,500.8H398" stroke="#0080FF" stroke-width="4.5" stroke-dasharray="19.5 16.9" fill="none"/>
<text style="font-family:'Liberation Sans',Arial,sans-serif;font-size:54px" x="410.3" y="518.3">Exp η<tspan style="font-size:33px" dy="20.5">Col</tspan></text>
<path d="M276,590.3H398" stroke="#0080FF" stroke-width="4.5" fill="none"/>
<text style="font-family:'Liberation Sans',Arial,sans-serif;font-size:54px" x="410.3" y="607.8">Mod η<tspan style="font-size:33px" dy="20.5">Col</tspan></text>
<path d="M276,672.3H398" stroke="#404040" stroke-width="4.5" stroke-dasharray="19.5 16.9" fill="none"/>
<text style="font-family:'Liberation Sans',Arial,sans-serif;font-size:54px" x="410.3" y="689.8">Exp Q<tspan style="font-size:33px" dy="20.5">DHW</tspan></text>
<path d="M276,754.3H398" stroke="#404040" stroke-width="4.5" fill="none"/>
<text style="font-family:'Liberation Sans',Arial,sans-serif;font-size:54px" x="410.3" y="771.8">Exp Q<tspan style="font-size:33px" dy="20.5">MD</tspan></text>
</svg></body></html>
